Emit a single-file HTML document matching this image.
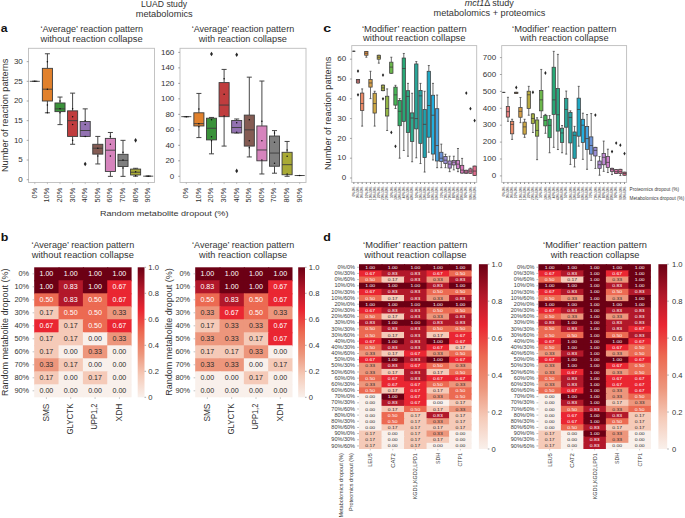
<!DOCTYPE html>
<html><head><meta charset="utf-8"><style>
html,body{margin:0;padding:0;background:#fff;overflow:hidden;}
svg{display:block;font-family:"Liberation Sans", sans-serif;}
</style></head><body>
<svg width="685" height="518" viewBox="0 0 685 518">
<rect width="685" height="518" fill="#fff"/>
<text x="164" y="6.9" font-size="8.6" fill="#333333" textLength="46" lengthAdjust="spacingAndGlyphs" text-anchor="middle">LUAD study</text>
<text x="164.2" y="16.6" font-size="8.6" fill="#333333" textLength="57" lengthAdjust="spacingAndGlyphs" text-anchor="middle">metabolomics</text>
<text x="489.3" y="6.4" font-size="8.6" fill="#333333" text-anchor="middle" textLength="49.2" lengthAdjust="spacingAndGlyphs"><tspan font-style="italic">mct1</tspan>Δ study</text>
<text x="489.5" y="16" font-size="8.6" fill="#333333" textLength="111.8" lengthAdjust="spacingAndGlyphs" text-anchor="middle">metabolomics + proteomics</text>
<text x="0.7" y="32.2" font-size="11.5" fill="#111" textLength="6.8" lengthAdjust="spacingAndGlyphs" font-weight="bold">a</text>
<text x="0.7" y="240.7" font-size="11.5" fill="#111" textLength="7.6" lengthAdjust="spacingAndGlyphs" font-weight="bold">b</text>
<text x="323.3" y="32.2" font-size="11.5" fill="#111" textLength="7.9" lengthAdjust="spacingAndGlyphs" font-weight="bold">c</text>
<text x="323.3" y="240.7" font-size="11.5" fill="#111" textLength="7.6" lengthAdjust="spacingAndGlyphs" font-weight="bold">d</text>
<rect x="28.5" y="48.3" width="126" height="134.2" fill="none" stroke="#bdbdbd" stroke-width="0.9"/>
<text x="91.75" y="31.8" font-size="8.4" fill="#333333" textLength="102.7" lengthAdjust="spacingAndGlyphs" text-anchor="middle">‘Average’ reaction pattern</text>
<text x="91.5" y="41.5" font-size="8.4" fill="#333333" textLength="102.2" lengthAdjust="spacingAndGlyphs" text-anchor="middle">without reaction collapse</text>
<line x1="26.7" y1="179.7" x2="28.5" y2="179.7" stroke="#6a6a6a" stroke-width="0.6"/>
<text x="22.8" y="182" font-size="8" fill="#333333" text-anchor="end">0</text>
<line x1="26.7" y1="160.02" x2="28.5" y2="160.02" stroke="#6a6a6a" stroke-width="0.6"/>
<text x="22.8" y="162.32" font-size="8" fill="#333333" text-anchor="end">5</text>
<line x1="26.7" y1="140.35" x2="28.5" y2="140.35" stroke="#6a6a6a" stroke-width="0.6"/>
<text x="22.8" y="142.65" font-size="8" fill="#333333" text-anchor="end">10</text>
<line x1="26.7" y1="120.67" x2="28.5" y2="120.67" stroke="#6a6a6a" stroke-width="0.6"/>
<text x="22.8" y="122.97" font-size="8" fill="#333333" text-anchor="end">15</text>
<line x1="26.7" y1="101" x2="28.5" y2="101" stroke="#6a6a6a" stroke-width="0.6"/>
<text x="22.8" y="103.3" font-size="8" fill="#333333" text-anchor="end">20</text>
<line x1="26.7" y1="81.32" x2="28.5" y2="81.32" stroke="#6a6a6a" stroke-width="0.6"/>
<text x="22.8" y="83.62" font-size="8" fill="#333333" text-anchor="end">25</text>
<line x1="26.7" y1="61.65" x2="28.5" y2="61.65" stroke="#6a6a6a" stroke-width="0.6"/>
<text x="22.8" y="63.95" font-size="8" fill="#333333" text-anchor="end">30</text>
<line x1="34.8" y1="182.5" x2="34.8" y2="184.1" stroke="#9a9a9a" stroke-width="0.6"/>
<text transform="translate(36.7 187.7) rotate(-90)" font-size="7.4" fill="#333333" text-anchor="end">0%</text>
<line x1="34.8" y1="81.32" x2="34.8" y2="81.32" stroke="#3c3c3c" stroke-width="0.95"/>
<line x1="34.8" y1="81.32" x2="34.8" y2="81.32" stroke="#3c3c3c" stroke-width="0.95"/>
<line x1="32.28" y1="81.32" x2="37.32" y2="81.32" stroke="#3c3c3c" stroke-width="0.95"/>
<line x1="32.28" y1="81.32" x2="37.32" y2="81.32" stroke="#3c3c3c" stroke-width="0.95"/>
<rect x="29.76" y="81.32" width="10.08" height="0" fill="#3274a1" stroke="#3c3c3c" stroke-width="0.9"/>
<line x1="29.76" y1="81.32" x2="39.84" y2="81.32" stroke="#3c3c3c" stroke-width="0.9"/>
<circle cx="34.8" cy="81.32" r="0.75" fill="#111111"/>
<line x1="47.4" y1="182.5" x2="47.4" y2="184.1" stroke="#9a9a9a" stroke-width="0.6"/>
<text transform="translate(49.3 187.7) rotate(-90)" font-size="7.4" fill="#333333" text-anchor="end">10%</text>
<line x1="47.4" y1="53.78" x2="47.4" y2="68.34" stroke="#3c3c3c" stroke-width="0.95"/>
<line x1="47.4" y1="101" x2="47.4" y2="112.8" stroke="#3c3c3c" stroke-width="0.95"/>
<line x1="44.88" y1="53.78" x2="49.92" y2="53.78" stroke="#3c3c3c" stroke-width="0.95"/>
<line x1="44.88" y1="112.8" x2="49.92" y2="112.8" stroke="#3c3c3c" stroke-width="0.95"/>
<rect x="42.36" y="68.34" width="10.08" height="32.66" fill="#e1812c" stroke="#3c3c3c" stroke-width="0.9"/>
<line x1="42.36" y1="89.19" x2="52.44" y2="89.19" stroke="#3c3c3c" stroke-width="0.9"/>
<circle cx="47.4" cy="61.65" r="0.75" fill="#111111"/>
<circle cx="47.4" cy="89.19" r="0.75" fill="#111111"/>
<circle cx="47.4" cy="104.93" r="0.75" fill="#111111"/>
<circle cx="47.4" cy="112.8" r="0.75" fill="#111111"/>
<line x1="60" y1="182.5" x2="60" y2="184.1" stroke="#9a9a9a" stroke-width="0.6"/>
<text transform="translate(61.9 187.7) rotate(-90)" font-size="7.4" fill="#333333" text-anchor="end">20%</text>
<line x1="60" y1="97.06" x2="60" y2="102.97" stroke="#3c3c3c" stroke-width="0.95"/>
<line x1="60" y1="111.62" x2="60" y2="124.61" stroke="#3c3c3c" stroke-width="0.95"/>
<line x1="57.48" y1="97.06" x2="62.52" y2="97.06" stroke="#3c3c3c" stroke-width="0.95"/>
<line x1="57.48" y1="124.61" x2="62.52" y2="124.61" stroke="#3c3c3c" stroke-width="0.95"/>
<rect x="54.96" y="102.97" width="10.08" height="8.66" fill="#3a923a" stroke="#3c3c3c" stroke-width="0.9"/>
<line x1="54.96" y1="108.87" x2="65.04" y2="108.87" stroke="#3c3c3c" stroke-width="0.9"/>
<circle cx="60" cy="101" r="0.75" fill="#111111"/>
<circle cx="60" cy="108.87" r="0.75" fill="#111111"/>
<circle cx="60" cy="112.8" r="0.75" fill="#111111"/>
<line x1="72.6" y1="182.5" x2="72.6" y2="184.1" stroke="#9a9a9a" stroke-width="0.6"/>
<text transform="translate(74.5 187.7) rotate(-90)" font-size="7.4" fill="#333333" text-anchor="end">30%</text>
<line x1="72.6" y1="93.13" x2="72.6" y2="110.84" stroke="#3c3c3c" stroke-width="0.95"/>
<line x1="72.6" y1="136.41" x2="72.6" y2="144.28" stroke="#3c3c3c" stroke-width="0.95"/>
<line x1="70.08" y1="93.13" x2="75.12" y2="93.13" stroke="#3c3c3c" stroke-width="0.95"/>
<line x1="70.08" y1="144.28" x2="75.12" y2="144.28" stroke="#3c3c3c" stroke-width="0.95"/>
<rect x="67.56" y="110.84" width="10.08" height="25.58" fill="#c03d3e" stroke="#3c3c3c" stroke-width="0.9"/>
<line x1="67.56" y1="120.67" x2="77.64" y2="120.67" stroke="#3c3c3c" stroke-width="0.9"/>
<circle cx="72.6" cy="108.87" r="0.75" fill="#111111"/>
<circle cx="72.6" cy="116.74" r="0.75" fill="#111111"/>
<circle cx="72.6" cy="124.61" r="0.75" fill="#111111"/>
<circle cx="72.6" cy="140.35" r="0.75" fill="#111111"/>
<line x1="85.2" y1="182.5" x2="85.2" y2="184.1" stroke="#9a9a9a" stroke-width="0.6"/>
<text transform="translate(87.1 187.7) rotate(-90)" font-size="7.4" fill="#333333" text-anchor="end">40%</text>
<line x1="85.2" y1="108.87" x2="85.2" y2="121.46" stroke="#3c3c3c" stroke-width="0.95"/>
<line x1="85.2" y1="136.41" x2="85.2" y2="136.41" stroke="#3c3c3c" stroke-width="0.95"/>
<line x1="82.68" y1="108.87" x2="87.72" y2="108.87" stroke="#3c3c3c" stroke-width="0.95"/>
<line x1="82.68" y1="136.41" x2="87.72" y2="136.41" stroke="#3c3c3c" stroke-width="0.95"/>
<rect x="80.16" y="121.46" width="10.08" height="14.95" fill="#9372b2" stroke="#3c3c3c" stroke-width="0.9"/>
<line x1="80.16" y1="130.51" x2="90.24" y2="130.51" stroke="#3c3c3c" stroke-width="0.9"/>
<path d="M85.2 161.66L86.63 163.96L85.2 166.26L83.77 163.96Z" fill="#262626"/>
<circle cx="85.2" cy="120.67" r="0.75" fill="#111111"/>
<circle cx="85.2" cy="124.61" r="0.75" fill="#111111"/>
<circle cx="85.2" cy="136.41" r="0.75" fill="#111111"/>
<line x1="97.8" y1="182.5" x2="97.8" y2="184.1" stroke="#9a9a9a" stroke-width="0.6"/>
<text transform="translate(99.7 187.7) rotate(-90)" font-size="7.4" fill="#333333" text-anchor="end">50%</text>
<line x1="97.8" y1="136.41" x2="97.8" y2="144.28" stroke="#3c3c3c" stroke-width="0.95"/>
<line x1="97.8" y1="154.12" x2="97.8" y2="163.96" stroke="#3c3c3c" stroke-width="0.95"/>
<line x1="95.28" y1="136.41" x2="100.32" y2="136.41" stroke="#3c3c3c" stroke-width="0.95"/>
<line x1="95.28" y1="163.96" x2="100.32" y2="163.96" stroke="#3c3c3c" stroke-width="0.95"/>
<rect x="92.76" y="144.28" width="10.08" height="9.84" fill="#845b53" stroke="#3c3c3c" stroke-width="0.9"/>
<line x1="92.76" y1="148.22" x2="102.84" y2="148.22" stroke="#3c3c3c" stroke-width="0.9"/>
<circle cx="97.8" cy="148.22" r="0.75" fill="#111111"/>
<circle cx="97.8" cy="156.09" r="0.75" fill="#111111"/>
<line x1="110.4" y1="182.5" x2="110.4" y2="184.1" stroke="#9a9a9a" stroke-width="0.6"/>
<text transform="translate(112.3 187.7) rotate(-90)" font-size="7.4" fill="#333333" text-anchor="end">60%</text>
<line x1="110.4" y1="132.48" x2="110.4" y2="138.38" stroke="#3c3c3c" stroke-width="0.95"/>
<line x1="110.4" y1="171.44" x2="110.4" y2="176.36" stroke="#3c3c3c" stroke-width="0.95"/>
<line x1="107.88" y1="132.48" x2="112.92" y2="132.48" stroke="#3c3c3c" stroke-width="0.95"/>
<line x1="107.88" y1="176.36" x2="112.92" y2="176.36" stroke="#3c3c3c" stroke-width="0.95"/>
<rect x="105.36" y="138.38" width="10.08" height="33.05" fill="#d684bd" stroke="#3c3c3c" stroke-width="0.9"/>
<line x1="105.36" y1="150.19" x2="115.44" y2="150.19" stroke="#3c3c3c" stroke-width="0.9"/>
<circle cx="110.4" cy="136.41" r="0.75" fill="#111111"/>
<circle cx="110.4" cy="144.28" r="0.75" fill="#111111"/>
<circle cx="110.4" cy="156.09" r="0.75" fill="#111111"/>
<line x1="123" y1="182.5" x2="123" y2="184.1" stroke="#9a9a9a" stroke-width="0.6"/>
<text transform="translate(124.9 187.7) rotate(-90)" font-size="7.4" fill="#333333" text-anchor="end">70%</text>
<line x1="123" y1="140.35" x2="123" y2="154.32" stroke="#3c3c3c" stroke-width="0.95"/>
<line x1="123" y1="166.52" x2="123" y2="176.36" stroke="#3c3c3c" stroke-width="0.95"/>
<line x1="120.48" y1="140.35" x2="125.52" y2="140.35" stroke="#3c3c3c" stroke-width="0.95"/>
<line x1="120.48" y1="176.36" x2="125.52" y2="176.36" stroke="#3c3c3c" stroke-width="0.95"/>
<rect x="117.96" y="154.32" width="10.08" height="12.2" fill="#7f7f7f" stroke="#3c3c3c" stroke-width="0.9"/>
<line x1="117.96" y1="160.42" x2="128.04" y2="160.42" stroke="#3c3c3c" stroke-width="0.9"/>
<circle cx="123" cy="152.15" r="0.75" fill="#111111"/>
<circle cx="123" cy="160.02" r="0.75" fill="#111111"/>
<circle cx="123" cy="167.89" r="0.75" fill="#111111"/>
<line x1="135.6" y1="182.5" x2="135.6" y2="184.1" stroke="#9a9a9a" stroke-width="0.6"/>
<text transform="translate(137.5 187.7) rotate(-90)" font-size="7.4" fill="#333333" text-anchor="end">80%</text>
<line x1="135.6" y1="168.29" x2="135.6" y2="169.08" stroke="#3c3c3c" stroke-width="0.95"/>
<line x1="135.6" y1="174.98" x2="135.6" y2="176.16" stroke="#3c3c3c" stroke-width="0.95"/>
<line x1="133.08" y1="168.29" x2="138.12" y2="168.29" stroke="#3c3c3c" stroke-width="0.95"/>
<line x1="133.08" y1="176.16" x2="138.12" y2="176.16" stroke="#3c3c3c" stroke-width="0.95"/>
<rect x="130.56" y="169.08" width="10.08" height="5.9" fill="#a9aa35" stroke="#3c3c3c" stroke-width="0.9"/>
<line x1="130.56" y1="172.22" x2="140.64" y2="172.22" stroke="#3c3c3c" stroke-width="0.9"/>
<path d="M135.6 138.05L137.03 140.35L135.6 142.65L134.17 140.35Z" fill="#262626"/>
<circle cx="135.6" cy="171.83" r="0.75" fill="#111111"/>
<circle cx="135.6" cy="175.76" r="0.75" fill="#111111"/>
<line x1="148.2" y1="182.5" x2="148.2" y2="184.1" stroke="#9a9a9a" stroke-width="0.6"/>
<text transform="translate(150.1 187.7) rotate(-90)" font-size="7.4" fill="#333333" text-anchor="end">90%</text>
<line x1="148.2" y1="176.16" x2="148.2" y2="176.16" stroke="#3c3c3c" stroke-width="0.95"/>
<line x1="148.2" y1="176.16" x2="148.2" y2="176.16" stroke="#3c3c3c" stroke-width="0.95"/>
<line x1="145.68" y1="176.16" x2="150.72" y2="176.16" stroke="#3c3c3c" stroke-width="0.95"/>
<line x1="145.68" y1="176.16" x2="150.72" y2="176.16" stroke="#3c3c3c" stroke-width="0.95"/>
<rect x="143.16" y="176.16" width="10.08" height="0" fill="#2eabb8" stroke="#3c3c3c" stroke-width="0.9"/>
<line x1="143.16" y1="176.16" x2="153.24" y2="176.16" stroke="#3c3c3c" stroke-width="0.9"/>
<circle cx="148.2" cy="176.16" r="0.75" fill="#111111"/>
<rect x="180" y="48.3" width="126" height="134.2" fill="none" stroke="#bdbdbd" stroke-width="0.9"/>
<text x="242.95" y="31.8" font-size="8.4" fill="#333333" textLength="102.5" lengthAdjust="spacingAndGlyphs" text-anchor="middle">‘Average’ reaction pattern</text>
<text x="242.8" y="41.5" font-size="8.4" fill="#333333" textLength="88.2" lengthAdjust="spacingAndGlyphs" text-anchor="middle">with reaction collapse</text>
<line x1="178.2" y1="176.3" x2="180" y2="176.3" stroke="#6a6a6a" stroke-width="0.6"/>
<text x="174.3" y="178.6" font-size="8" fill="#333333" text-anchor="end">0</text>
<line x1="178.2" y1="160.81" x2="180" y2="160.81" stroke="#6a6a6a" stroke-width="0.6"/>
<text x="174.3" y="163.11" font-size="8" fill="#333333" text-anchor="end">20</text>
<line x1="178.2" y1="145.32" x2="180" y2="145.32" stroke="#6a6a6a" stroke-width="0.6"/>
<text x="174.3" y="147.62" font-size="8" fill="#333333" text-anchor="end">40</text>
<line x1="178.2" y1="129.83" x2="180" y2="129.83" stroke="#6a6a6a" stroke-width="0.6"/>
<text x="174.3" y="132.13" font-size="8" fill="#333333" text-anchor="end">60</text>
<line x1="178.2" y1="114.34" x2="180" y2="114.34" stroke="#6a6a6a" stroke-width="0.6"/>
<text x="174.3" y="116.64" font-size="8" fill="#333333" text-anchor="end">80</text>
<line x1="178.2" y1="98.85" x2="180" y2="98.85" stroke="#6a6a6a" stroke-width="0.6"/>
<text x="174.3" y="101.15" font-size="8" fill="#333333" text-anchor="end">100</text>
<line x1="178.2" y1="83.36" x2="180" y2="83.36" stroke="#6a6a6a" stroke-width="0.6"/>
<text x="174.3" y="85.66" font-size="8" fill="#333333" text-anchor="end">120</text>
<line x1="178.2" y1="67.87" x2="180" y2="67.87" stroke="#6a6a6a" stroke-width="0.6"/>
<text x="174.3" y="70.17" font-size="8" fill="#333333" text-anchor="end">140</text>
<line x1="178.2" y1="52.38" x2="180" y2="52.38" stroke="#6a6a6a" stroke-width="0.6"/>
<text x="174.3" y="54.68" font-size="8" fill="#333333" text-anchor="end">160</text>
<line x1="186.3" y1="182.5" x2="186.3" y2="184.1" stroke="#9a9a9a" stroke-width="0.6"/>
<text transform="translate(188.2 187.7) rotate(-90)" font-size="7.4" fill="#333333" text-anchor="end">0%</text>
<line x1="186.3" y1="116.66" x2="186.3" y2="116.66" stroke="#3c3c3c" stroke-width="0.95"/>
<line x1="186.3" y1="116.66" x2="186.3" y2="116.66" stroke="#3c3c3c" stroke-width="0.95"/>
<line x1="183.78" y1="116.66" x2="188.82" y2="116.66" stroke="#3c3c3c" stroke-width="0.95"/>
<line x1="183.78" y1="116.66" x2="188.82" y2="116.66" stroke="#3c3c3c" stroke-width="0.95"/>
<rect x="181.26" y="116.66" width="10.08" height="0" fill="#3274a1" stroke="#3c3c3c" stroke-width="0.9"/>
<line x1="181.26" y1="116.66" x2="191.34" y2="116.66" stroke="#3c3c3c" stroke-width="0.9"/>
<circle cx="186.3" cy="116.66" r="0.75" fill="#111111"/>
<line x1="198.9" y1="182.5" x2="198.9" y2="184.1" stroke="#9a9a9a" stroke-width="0.6"/>
<text transform="translate(200.8 187.7) rotate(-90)" font-size="7.4" fill="#333333" text-anchor="end">10%</text>
<line x1="198.9" y1="93.43" x2="198.9" y2="112.79" stroke="#3c3c3c" stroke-width="0.95"/>
<line x1="198.9" y1="125.96" x2="198.9" y2="137.58" stroke="#3c3c3c" stroke-width="0.95"/>
<line x1="196.38" y1="93.43" x2="201.42" y2="93.43" stroke="#3c3c3c" stroke-width="0.95"/>
<line x1="196.38" y1="137.58" x2="201.42" y2="137.58" stroke="#3c3c3c" stroke-width="0.95"/>
<rect x="193.86" y="112.79" width="10.08" height="13.17" fill="#e1812c" stroke="#3c3c3c" stroke-width="0.9"/>
<line x1="193.86" y1="123.63" x2="203.94" y2="123.63" stroke="#3c3c3c" stroke-width="0.9"/>
<circle cx="198.9" cy="108.92" r="0.75" fill="#111111"/>
<circle cx="198.9" cy="123.63" r="0.75" fill="#111111"/>
<circle cx="198.9" cy="126.73" r="0.75" fill="#111111"/>
<line x1="211.5" y1="182.5" x2="211.5" y2="184.1" stroke="#9a9a9a" stroke-width="0.6"/>
<text transform="translate(213.4 187.7) rotate(-90)" font-size="7.4" fill="#333333" text-anchor="end">20%</text>
<line x1="211.5" y1="117.44" x2="211.5" y2="118.21" stroke="#3c3c3c" stroke-width="0.95"/>
<line x1="211.5" y1="139.9" x2="211.5" y2="153.84" stroke="#3c3c3c" stroke-width="0.95"/>
<line x1="208.98" y1="117.44" x2="214.02" y2="117.44" stroke="#3c3c3c" stroke-width="0.95"/>
<line x1="208.98" y1="153.84" x2="214.02" y2="153.84" stroke="#3c3c3c" stroke-width="0.95"/>
<rect x="206.46" y="118.21" width="10.08" height="21.69" fill="#3a923a" stroke="#3c3c3c" stroke-width="0.9"/>
<line x1="206.46" y1="128.28" x2="216.54" y2="128.28" stroke="#3c3c3c" stroke-width="0.9"/>
<path d="M211.5 51.63L212.93 53.93L211.5 56.23L210.07 53.93Z" fill="#262626"/>
<circle cx="211.5" cy="119.76" r="0.75" fill="#111111"/>
<circle cx="211.5" cy="136.8" r="0.75" fill="#111111"/>
<circle cx="211.5" cy="140.67" r="0.75" fill="#111111"/>
<line x1="224.1" y1="182.5" x2="224.1" y2="184.1" stroke="#9a9a9a" stroke-width="0.6"/>
<text transform="translate(226 187.7) rotate(-90)" font-size="7.4" fill="#333333" text-anchor="end">30%</text>
<line x1="224.1" y1="69.42" x2="224.1" y2="82.59" stroke="#3c3c3c" stroke-width="0.95"/>
<line x1="224.1" y1="116.66" x2="224.1" y2="146.09" stroke="#3c3c3c" stroke-width="0.95"/>
<line x1="221.58" y1="69.42" x2="226.62" y2="69.42" stroke="#3c3c3c" stroke-width="0.95"/>
<line x1="221.58" y1="146.09" x2="226.62" y2="146.09" stroke="#3c3c3c" stroke-width="0.95"/>
<rect x="219.06" y="82.59" width="10.08" height="34.08" fill="#c03d3e" stroke="#3c3c3c" stroke-width="0.9"/>
<line x1="219.06" y1="105.05" x2="229.14" y2="105.05" stroke="#3c3c3c" stroke-width="0.9"/>
<circle cx="224.1" cy="78.71" r="0.75" fill="#111111"/>
<circle cx="224.1" cy="94.2" r="0.75" fill="#111111"/>
<circle cx="224.1" cy="115.89" r="0.75" fill="#111111"/>
<line x1="236.7" y1="182.5" x2="236.7" y2="184.1" stroke="#9a9a9a" stroke-width="0.6"/>
<text transform="translate(238.6 187.7) rotate(-90)" font-size="7.4" fill="#333333" text-anchor="end">40%</text>
<line x1="236.7" y1="118.99" x2="236.7" y2="120.54" stroke="#3c3c3c" stroke-width="0.95"/>
<line x1="236.7" y1="132.93" x2="236.7" y2="132.93" stroke="#3c3c3c" stroke-width="0.95"/>
<line x1="234.18" y1="118.99" x2="239.22" y2="118.99" stroke="#3c3c3c" stroke-width="0.95"/>
<line x1="234.18" y1="132.93" x2="239.22" y2="132.93" stroke="#3c3c3c" stroke-width="0.95"/>
<rect x="231.66" y="120.54" width="10.08" height="12.39" fill="#9372b2" stroke="#3c3c3c" stroke-width="0.9"/>
<line x1="231.66" y1="127.51" x2="241.74" y2="127.51" stroke="#3c3c3c" stroke-width="0.9"/>
<path d="M236.7 52.4L238.13 54.7L236.7 57L235.27 54.7Z" fill="#262626"/>
<path d="M236.7 168.58L238.13 170.88L236.7 173.18L235.27 170.88Z" fill="#262626"/>
<circle cx="236.7" cy="122.86" r="0.75" fill="#111111"/>
<circle cx="236.7" cy="132.15" r="0.75" fill="#111111"/>
<line x1="249.3" y1="182.5" x2="249.3" y2="184.1" stroke="#9a9a9a" stroke-width="0.6"/>
<text transform="translate(251.2 187.7) rotate(-90)" font-size="7.4" fill="#333333" text-anchor="end">50%</text>
<line x1="249.3" y1="77.16" x2="249.3" y2="115.11" stroke="#3c3c3c" stroke-width="0.95"/>
<line x1="249.3" y1="146.09" x2="249.3" y2="156.94" stroke="#3c3c3c" stroke-width="0.95"/>
<line x1="246.78" y1="77.16" x2="251.82" y2="77.16" stroke="#3c3c3c" stroke-width="0.95"/>
<line x1="246.78" y1="156.94" x2="251.82" y2="156.94" stroke="#3c3c3c" stroke-width="0.95"/>
<rect x="244.26" y="115.11" width="10.08" height="30.98" fill="#845b53" stroke="#3c3c3c" stroke-width="0.9"/>
<line x1="244.26" y1="129.83" x2="254.34" y2="129.83" stroke="#3c3c3c" stroke-width="0.9"/>
<circle cx="249.3" cy="119.76" r="0.75" fill="#111111"/>
<circle cx="249.3" cy="140.67" r="0.75" fill="#111111"/>
<circle cx="249.3" cy="147.64" r="0.75" fill="#111111"/>
<line x1="261.9" y1="182.5" x2="261.9" y2="184.1" stroke="#9a9a9a" stroke-width="0.6"/>
<text transform="translate(263.8 187.7) rotate(-90)" font-size="7.4" fill="#333333" text-anchor="end">60%</text>
<line x1="261.9" y1="81.04" x2="261.9" y2="125.96" stroke="#3c3c3c" stroke-width="0.95"/>
<line x1="261.9" y1="160.81" x2="261.9" y2="173.98" stroke="#3c3c3c" stroke-width="0.95"/>
<line x1="259.38" y1="81.04" x2="264.42" y2="81.04" stroke="#3c3c3c" stroke-width="0.95"/>
<line x1="259.38" y1="173.98" x2="264.42" y2="173.98" stroke="#3c3c3c" stroke-width="0.95"/>
<rect x="256.86" y="125.96" width="10.08" height="34.85" fill="#d684bd" stroke="#3c3c3c" stroke-width="0.9"/>
<line x1="256.86" y1="149.97" x2="266.94" y2="149.97" stroke="#3c3c3c" stroke-width="0.9"/>
<circle cx="261.9" cy="121.31" r="0.75" fill="#111111"/>
<circle cx="261.9" cy="140.67" r="0.75" fill="#111111"/>
<circle cx="261.9" cy="160.04" r="0.75" fill="#111111"/>
<line x1="274.5" y1="182.5" x2="274.5" y2="184.1" stroke="#9a9a9a" stroke-width="0.6"/>
<text transform="translate(276.4 187.7) rotate(-90)" font-size="7.4" fill="#333333" text-anchor="end">70%</text>
<line x1="274.5" y1="130.6" x2="274.5" y2="136.03" stroke="#3c3c3c" stroke-width="0.95"/>
<line x1="274.5" y1="166.23" x2="274.5" y2="173.2" stroke="#3c3c3c" stroke-width="0.95"/>
<line x1="271.98" y1="130.6" x2="277.02" y2="130.6" stroke="#3c3c3c" stroke-width="0.95"/>
<line x1="271.98" y1="173.2" x2="277.02" y2="173.2" stroke="#3c3c3c" stroke-width="0.95"/>
<rect x="269.46" y="136.03" width="10.08" height="30.21" fill="#7f7f7f" stroke="#3c3c3c" stroke-width="0.9"/>
<line x1="269.46" y1="153.06" x2="279.54" y2="153.06" stroke="#3c3c3c" stroke-width="0.9"/>
<circle cx="274.5" cy="132.93" r="0.75" fill="#111111"/>
<circle cx="274.5" cy="142.22" r="0.75" fill="#111111"/>
<circle cx="274.5" cy="163.13" r="0.75" fill="#111111"/>
<line x1="287.1" y1="182.5" x2="287.1" y2="184.1" stroke="#9a9a9a" stroke-width="0.6"/>
<text transform="translate(289 187.7) rotate(-90)" font-size="7.4" fill="#333333" text-anchor="end">80%</text>
<line x1="287.1" y1="141.45" x2="287.1" y2="152.29" stroke="#3c3c3c" stroke-width="0.95"/>
<line x1="287.1" y1="174.75" x2="287.1" y2="176.3" stroke="#3c3c3c" stroke-width="0.95"/>
<line x1="284.58" y1="141.45" x2="289.62" y2="141.45" stroke="#3c3c3c" stroke-width="0.95"/>
<line x1="284.58" y1="176.3" x2="289.62" y2="176.3" stroke="#3c3c3c" stroke-width="0.95"/>
<rect x="282.06" y="152.29" width="10.08" height="22.46" fill="#a9aa35" stroke="#3c3c3c" stroke-width="0.9"/>
<line x1="282.06" y1="164.68" x2="292.14" y2="164.68" stroke="#3c3c3c" stroke-width="0.9"/>
<circle cx="287.1" cy="149.97" r="0.75" fill="#111111"/>
<circle cx="287.1" cy="156.16" r="0.75" fill="#111111"/>
<circle cx="287.1" cy="173.98" r="0.75" fill="#111111"/>
<line x1="299.7" y1="182.5" x2="299.7" y2="184.1" stroke="#9a9a9a" stroke-width="0.6"/>
<text transform="translate(301.6 187.7) rotate(-90)" font-size="7.4" fill="#333333" text-anchor="end">90%</text>
<line x1="299.7" y1="175.53" x2="299.7" y2="175.53" stroke="#3c3c3c" stroke-width="0.95"/>
<line x1="299.7" y1="175.53" x2="299.7" y2="175.53" stroke="#3c3c3c" stroke-width="0.95"/>
<line x1="297.18" y1="175.53" x2="302.22" y2="175.53" stroke="#3c3c3c" stroke-width="0.95"/>
<line x1="297.18" y1="175.53" x2="302.22" y2="175.53" stroke="#3c3c3c" stroke-width="0.95"/>
<rect x="294.66" y="175.53" width="10.08" height="0" fill="#2eabb8" stroke="#3c3c3c" stroke-width="0.9"/>
<line x1="294.66" y1="175.53" x2="304.74" y2="175.53" stroke="#3c3c3c" stroke-width="0.9"/>
<circle cx="299.7" cy="175.53" r="0.75" fill="#111111"/>
<text transform="translate(8 115.3) rotate(-90)" font-size="8.2" fill="#333333" textLength="113.4" lengthAdjust="spacingAndGlyphs" text-anchor="middle">Number of reaction patterns</text>
<text x="164.2" y="215.7" font-size="8" fill="#333333" textLength="128.4" lengthAdjust="spacingAndGlyphs" text-anchor="middle">Random metabolite dropout (%)</text>
<rect x="351.75" y="45.6" width="124.95" height="136.8" fill="none" stroke="#bdbdbd" stroke-width="0.9"/>
<text x="414.3" y="31.7" font-size="8.4" fill="#333333" textLength="104.8" lengthAdjust="spacingAndGlyphs" text-anchor="middle">‘Modifier’ reaction pattern</text>
<text x="414.3" y="41.2" font-size="8.4" fill="#333333" textLength="102.4" lengthAdjust="spacingAndGlyphs" text-anchor="middle">without reaction collapse</text>
<line x1="349.95" y1="178" x2="351.75" y2="178" stroke="#6a6a6a" stroke-width="0.6"/>
<text x="346.15" y="180.2" font-size="8" fill="#333333" text-anchor="end">0</text>
<line x1="349.95" y1="158.2" x2="351.75" y2="158.2" stroke="#6a6a6a" stroke-width="0.6"/>
<text x="346.15" y="160.4" font-size="8" fill="#333333" text-anchor="end">10</text>
<line x1="349.95" y1="138.4" x2="351.75" y2="138.4" stroke="#6a6a6a" stroke-width="0.6"/>
<text x="346.15" y="140.6" font-size="8" fill="#333333" text-anchor="end">20</text>
<line x1="349.95" y1="118.6" x2="351.75" y2="118.6" stroke="#6a6a6a" stroke-width="0.6"/>
<text x="346.15" y="120.8" font-size="8" fill="#333333" text-anchor="end">30</text>
<line x1="349.95" y1="98.8" x2="351.75" y2="98.8" stroke="#6a6a6a" stroke-width="0.6"/>
<text x="346.15" y="101" font-size="8" fill="#333333" text-anchor="end">40</text>
<line x1="349.95" y1="79" x2="351.75" y2="79" stroke="#6a6a6a" stroke-width="0.6"/>
<text x="346.15" y="81.2" font-size="8" fill="#333333" text-anchor="end">50</text>
<line x1="349.95" y1="59.2" x2="351.75" y2="59.2" stroke="#6a6a6a" stroke-width="0.6"/>
<text x="346.15" y="61.4" font-size="8" fill="#333333" text-anchor="end">60</text>
<line x1="353.83" y1="182.4" x2="353.83" y2="184" stroke="#555" stroke-width="0.7"/>
<text transform="translate(355.03 186.6) rotate(-90)" font-size="3.5" fill="#262626" textLength="9.98" lengthAdjust="spacingAndGlyphs" text-anchor="end">0%/0%</text>
<line x1="353.83" y1="51.28" x2="353.83" y2="51.28" stroke="#3c3c3c" stroke-width="0.75"/>
<line x1="353.83" y1="51.28" x2="353.83" y2="51.28" stroke="#3c3c3c" stroke-width="0.75"/>
<line x1="352.83" y1="51.28" x2="354.83" y2="51.28" stroke="#3c3c3c" stroke-width="0.75"/>
<line x1="352.83" y1="51.28" x2="354.83" y2="51.28" stroke="#3c3c3c" stroke-width="0.75"/>
<rect x="352.17" y="51.28" width="3.33" height="0" fill="#e07080" stroke="#3c3c3c" stroke-width="0.75"/>
<line x1="352.17" y1="51.28" x2="355.5" y2="51.28" stroke="#3c3c3c" stroke-width="0.75"/>
<line x1="358" y1="182.4" x2="358" y2="184" stroke="#555" stroke-width="0.7"/>
<text transform="translate(359.2 186.6) rotate(-90)" font-size="3.5" fill="#262626" textLength="11.73" lengthAdjust="spacingAndGlyphs" text-anchor="end">0%/30%</text>
<line x1="358" y1="79.59" x2="358" y2="79.59" stroke="#3c3c3c" stroke-width="0.75"/>
<line x1="358" y1="82.96" x2="358" y2="82.96" stroke="#3c3c3c" stroke-width="0.75"/>
<line x1="357" y1="79.59" x2="359" y2="79.59" stroke="#3c3c3c" stroke-width="0.75"/>
<line x1="357" y1="82.96" x2="359" y2="82.96" stroke="#3c3c3c" stroke-width="0.75"/>
<rect x="356.33" y="79.59" width="3.33" height="3.37" fill="#e88080" stroke="#3c3c3c" stroke-width="0.75"/>
<line x1="356.33" y1="80.98" x2="359.66" y2="80.98" stroke="#3c3c3c" stroke-width="0.75"/>
<path d="M358 69.18L359.18 71.08L358 72.98L356.82 71.08Z" fill="#262626"/>
<path d="M358 92.94L359.18 94.84L358 96.74L356.82 94.84Z" fill="#262626"/>
<line x1="362.16" y1="182.4" x2="362.16" y2="184" stroke="#555" stroke-width="0.7"/>
<text transform="translate(363.36 186.6) rotate(-90)" font-size="3.5" fill="#262626" textLength="11.73" lengthAdjust="spacingAndGlyphs" text-anchor="end">0%/60%</text>
<line x1="362.16" y1="88.9" x2="362.16" y2="93.06" stroke="#3c3c3c" stroke-width="0.75"/>
<line x1="362.16" y1="110.48" x2="362.16" y2="126.12" stroke="#3c3c3c" stroke-width="0.75"/>
<line x1="361.16" y1="88.9" x2="363.16" y2="88.9" stroke="#3c3c3c" stroke-width="0.75"/>
<line x1="361.16" y1="126.12" x2="363.16" y2="126.12" stroke="#3c3c3c" stroke-width="0.75"/>
<rect x="360.5" y="93.06" width="3.33" height="17.42" fill="#ec8a66" stroke="#3c3c3c" stroke-width="0.75"/>
<line x1="360.5" y1="103.55" x2="363.83" y2="103.55" stroke="#3c3c3c" stroke-width="0.75"/>
<line x1="366.33" y1="182.4" x2="366.33" y2="184" stroke="#555" stroke-width="0.7"/>
<text transform="translate(367.53 186.6) rotate(-90)" font-size="3.5" fill="#262626" textLength="11.73" lengthAdjust="spacingAndGlyphs" text-anchor="end">10%/0%</text>
<line x1="366.33" y1="51.48" x2="366.33" y2="51.48" stroke="#3c3c3c" stroke-width="0.75"/>
<line x1="366.33" y1="55.24" x2="366.33" y2="57.22" stroke="#3c3c3c" stroke-width="0.75"/>
<line x1="365.33" y1="51.48" x2="367.33" y2="51.48" stroke="#3c3c3c" stroke-width="0.75"/>
<line x1="365.33" y1="57.22" x2="367.33" y2="57.22" stroke="#3c3c3c" stroke-width="0.75"/>
<rect x="364.66" y="51.48" width="3.33" height="3.76" fill="#e4903e" stroke="#3c3c3c" stroke-width="0.75"/>
<line x1="364.66" y1="53.26" x2="367.99" y2="53.26" stroke="#3c3c3c" stroke-width="0.75"/>
<line x1="370.49" y1="182.4" x2="370.49" y2="184" stroke="#555" stroke-width="0.7"/>
<text transform="translate(371.69 186.6) rotate(-90)" font-size="3.5" fill="#262626" textLength="13.48" lengthAdjust="spacingAndGlyphs" text-anchor="end">10%/30%</text>
<line x1="370.49" y1="71.28" x2="370.49" y2="79.59" stroke="#3c3c3c" stroke-width="0.75"/>
<line x1="370.49" y1="87.12" x2="370.49" y2="98.6" stroke="#3c3c3c" stroke-width="0.75"/>
<line x1="369.49" y1="71.28" x2="371.49" y2="71.28" stroke="#3c3c3c" stroke-width="0.75"/>
<line x1="369.49" y1="98.6" x2="371.49" y2="98.6" stroke="#3c3c3c" stroke-width="0.75"/>
<rect x="368.83" y="79.59" width="3.33" height="7.52" fill="#d8a048" stroke="#3c3c3c" stroke-width="0.75"/>
<line x1="368.83" y1="82.96" x2="372.16" y2="82.96" stroke="#3c3c3c" stroke-width="0.75"/>
<line x1="374.66" y1="182.4" x2="374.66" y2="184" stroke="#555" stroke-width="0.7"/>
<text transform="translate(375.86 186.6) rotate(-90)" font-size="3.5" fill="#262626" textLength="13.48" lengthAdjust="spacingAndGlyphs" text-anchor="end">10%/60%</text>
<line x1="374.66" y1="91.28" x2="374.66" y2="93.26" stroke="#3c3c3c" stroke-width="0.75"/>
<line x1="374.66" y1="113.06" x2="374.66" y2="126.12" stroke="#3c3c3c" stroke-width="0.75"/>
<line x1="373.66" y1="91.28" x2="375.66" y2="91.28" stroke="#3c3c3c" stroke-width="0.75"/>
<line x1="373.66" y1="126.12" x2="375.66" y2="126.12" stroke="#3c3c3c" stroke-width="0.75"/>
<rect x="372.99" y="93.26" width="3.33" height="19.8" fill="#cfa944" stroke="#3c3c3c" stroke-width="0.75"/>
<line x1="372.99" y1="103.55" x2="376.32" y2="103.55" stroke="#3c3c3c" stroke-width="0.75"/>
<line x1="378.82" y1="182.4" x2="378.82" y2="184" stroke="#555" stroke-width="0.7"/>
<text transform="translate(380.02 186.6) rotate(-90)" font-size="3.5" fill="#262626" textLength="11.73" lengthAdjust="spacingAndGlyphs" text-anchor="end">20%/0%</text>
<line x1="378.82" y1="55.24" x2="378.82" y2="55.24" stroke="#3c3c3c" stroke-width="0.75"/>
<line x1="378.82" y1="59.2" x2="378.82" y2="63.16" stroke="#3c3c3c" stroke-width="0.75"/>
<line x1="377.82" y1="55.24" x2="379.82" y2="55.24" stroke="#3c3c3c" stroke-width="0.75"/>
<line x1="377.82" y1="63.16" x2="379.82" y2="63.16" stroke="#3c3c3c" stroke-width="0.75"/>
<rect x="377.16" y="55.24" width="3.33" height="3.96" fill="#b8aa40" stroke="#3c3c3c" stroke-width="0.75"/>
<line x1="377.16" y1="57.22" x2="380.49" y2="57.22" stroke="#3c3c3c" stroke-width="0.75"/>
<line x1="382.99" y1="182.4" x2="382.99" y2="184" stroke="#555" stroke-width="0.7"/>
<text transform="translate(384.19 186.6) rotate(-90)" font-size="3.5" fill="#262626" textLength="13.48" lengthAdjust="spacingAndGlyphs" text-anchor="end">20%/30%</text>
<line x1="382.99" y1="85.14" x2="382.99" y2="85.14" stroke="#3c3c3c" stroke-width="0.75"/>
<line x1="382.99" y1="90.68" x2="382.99" y2="90.68" stroke="#3c3c3c" stroke-width="0.75"/>
<line x1="381.99" y1="85.14" x2="383.99" y2="85.14" stroke="#3c3c3c" stroke-width="0.75"/>
<line x1="381.99" y1="90.68" x2="383.99" y2="90.68" stroke="#3c3c3c" stroke-width="0.75"/>
<rect x="381.32" y="85.14" width="3.33" height="5.54" fill="#a6b042" stroke="#3c3c3c" stroke-width="0.75"/>
<line x1="381.32" y1="87.91" x2="384.65" y2="87.91" stroke="#3c3c3c" stroke-width="0.75"/>
<path d="M382.99 73.14L384.17 75.04L382.99 76.94L381.81 75.04Z" fill="#262626"/>
<path d="M382.99 96.9L384.17 98.8L382.99 100.7L381.81 98.8Z" fill="#262626"/>
<line x1="387.15" y1="182.4" x2="387.15" y2="184" stroke="#555" stroke-width="0.7"/>
<text transform="translate(388.35 186.6) rotate(-90)" font-size="3.5" fill="#262626" textLength="13.48" lengthAdjust="spacingAndGlyphs" text-anchor="end">20%/60%</text>
<line x1="387.15" y1="88.9" x2="387.15" y2="96.23" stroke="#3c3c3c" stroke-width="0.75"/>
<line x1="387.15" y1="116.03" x2="387.15" y2="130.48" stroke="#3c3c3c" stroke-width="0.75"/>
<line x1="386.15" y1="88.9" x2="388.15" y2="88.9" stroke="#3c3c3c" stroke-width="0.75"/>
<line x1="386.15" y1="130.48" x2="388.15" y2="130.48" stroke="#3c3c3c" stroke-width="0.75"/>
<rect x="385.49" y="96.23" width="3.33" height="19.8" fill="#94b646" stroke="#3c3c3c" stroke-width="0.75"/>
<line x1="385.49" y1="108.5" x2="388.82" y2="108.5" stroke="#3c3c3c" stroke-width="0.75"/>
<line x1="391.32" y1="182.4" x2="391.32" y2="184" stroke="#555" stroke-width="0.7"/>
<text transform="translate(392.52 186.6) rotate(-90)" font-size="3.5" fill="#262626" textLength="11.73" lengthAdjust="spacingAndGlyphs" text-anchor="end">30%/0%</text>
<line x1="391.32" y1="57.22" x2="391.32" y2="62.17" stroke="#3c3c3c" stroke-width="0.75"/>
<line x1="391.32" y1="73.26" x2="391.32" y2="73.26" stroke="#3c3c3c" stroke-width="0.75"/>
<line x1="390.32" y1="57.22" x2="392.32" y2="57.22" stroke="#3c3c3c" stroke-width="0.75"/>
<line x1="390.32" y1="73.26" x2="392.32" y2="73.26" stroke="#3c3c3c" stroke-width="0.75"/>
<rect x="389.65" y="62.17" width="3.33" height="11.09" fill="#6cb84c" stroke="#3c3c3c" stroke-width="0.75"/>
<line x1="389.65" y1="67.12" x2="392.98" y2="67.12" stroke="#3c3c3c" stroke-width="0.75"/>
<path d="M391.32 130.56L392.5 132.46L391.32 134.36L390.14 132.46Z" fill="#262626"/>
<line x1="395.48" y1="182.4" x2="395.48" y2="184" stroke="#555" stroke-width="0.7"/>
<text transform="translate(396.68 186.6) rotate(-90)" font-size="3.5" fill="#262626" textLength="13.48" lengthAdjust="spacingAndGlyphs" text-anchor="end">30%/30%</text>
<line x1="395.48" y1="85.34" x2="395.48" y2="87.12" stroke="#3c3c3c" stroke-width="0.75"/>
<line x1="395.48" y1="105.14" x2="395.48" y2="108.5" stroke="#3c3c3c" stroke-width="0.75"/>
<line x1="394.48" y1="85.34" x2="396.48" y2="85.34" stroke="#3c3c3c" stroke-width="0.75"/>
<line x1="394.48" y1="108.5" x2="396.48" y2="108.5" stroke="#3c3c3c" stroke-width="0.75"/>
<rect x="393.82" y="87.12" width="3.33" height="18.02" fill="#46b656" stroke="#3c3c3c" stroke-width="0.75"/>
<line x1="393.82" y1="94.84" x2="397.15" y2="94.84" stroke="#3c3c3c" stroke-width="0.75"/>
<path d="M395.48 144.42L396.66 146.32L395.48 148.22L394.3 146.32Z" fill="#262626"/>
<line x1="399.65" y1="182.4" x2="399.65" y2="184" stroke="#555" stroke-width="0.7"/>
<text transform="translate(400.85 186.6) rotate(-90)" font-size="3.5" fill="#262626" textLength="13.48" lengthAdjust="spacingAndGlyphs" text-anchor="end">30%/60%</text>
<line x1="399.65" y1="98.6" x2="399.65" y2="100.58" stroke="#3c3c3c" stroke-width="0.75"/>
<line x1="399.65" y1="125.73" x2="399.65" y2="158.2" stroke="#3c3c3c" stroke-width="0.75"/>
<line x1="398.65" y1="98.6" x2="400.65" y2="98.6" stroke="#3c3c3c" stroke-width="0.75"/>
<line x1="398.65" y1="158.2" x2="400.65" y2="158.2" stroke="#3c3c3c" stroke-width="0.75"/>
<rect x="397.98" y="100.58" width="3.33" height="25.15" fill="#30ae66" stroke="#3c3c3c" stroke-width="0.75"/>
<line x1="397.98" y1="111.27" x2="401.31" y2="111.27" stroke="#3c3c3c" stroke-width="0.75"/>
<line x1="403.81" y1="182.4" x2="403.81" y2="184" stroke="#555" stroke-width="0.7"/>
<text transform="translate(405.01 186.6) rotate(-90)" font-size="3.5" fill="#262626" textLength="11.73" lengthAdjust="spacingAndGlyphs" text-anchor="end">40%/0%</text>
<line x1="403.81" y1="53.46" x2="403.81" y2="58.01" stroke="#3c3c3c" stroke-width="0.75"/>
<line x1="403.81" y1="121.37" x2="403.81" y2="150.48" stroke="#3c3c3c" stroke-width="0.75"/>
<line x1="402.81" y1="53.46" x2="404.81" y2="53.46" stroke="#3c3c3c" stroke-width="0.75"/>
<line x1="402.81" y1="150.48" x2="404.81" y2="150.48" stroke="#3c3c3c" stroke-width="0.75"/>
<rect x="402.15" y="58.01" width="3.33" height="63.36" fill="#28a876" stroke="#3c3c3c" stroke-width="0.75"/>
<line x1="402.15" y1="68.51" x2="405.48" y2="68.51" stroke="#3c3c3c" stroke-width="0.75"/>
<line x1="407.98" y1="182.4" x2="407.98" y2="184" stroke="#555" stroke-width="0.7"/>
<text transform="translate(409.18 186.6) rotate(-90)" font-size="3.5" fill="#262626" textLength="13.48" lengthAdjust="spacingAndGlyphs" text-anchor="end">40%/30%</text>
<line x1="407.98" y1="83.36" x2="407.98" y2="90.68" stroke="#3c3c3c" stroke-width="0.75"/>
<line x1="407.98" y1="132.46" x2="407.98" y2="156.22" stroke="#3c3c3c" stroke-width="0.75"/>
<line x1="406.98" y1="83.36" x2="408.98" y2="83.36" stroke="#3c3c3c" stroke-width="0.75"/>
<line x1="406.98" y1="156.22" x2="408.98" y2="156.22" stroke="#3c3c3c" stroke-width="0.75"/>
<rect x="406.31" y="90.68" width="3.33" height="41.78" fill="#2aa882" stroke="#3c3c3c" stroke-width="0.75"/>
<line x1="406.31" y1="96.42" x2="409.64" y2="96.42" stroke="#3c3c3c" stroke-width="0.75"/>
<line x1="412.14" y1="182.4" x2="412.14" y2="184" stroke="#555" stroke-width="0.7"/>
<text transform="translate(413.34 186.6) rotate(-90)" font-size="3.5" fill="#262626" textLength="13.48" lengthAdjust="spacingAndGlyphs" text-anchor="end">40%/60%</text>
<line x1="412.14" y1="93.26" x2="412.14" y2="112.86" stroke="#3c3c3c" stroke-width="0.75"/>
<line x1="412.14" y1="141.57" x2="412.14" y2="161.76" stroke="#3c3c3c" stroke-width="0.75"/>
<line x1="411.14" y1="93.26" x2="413.14" y2="93.26" stroke="#3c3c3c" stroke-width="0.75"/>
<line x1="411.14" y1="161.76" x2="413.14" y2="161.76" stroke="#3c3c3c" stroke-width="0.75"/>
<rect x="410.48" y="112.86" width="3.33" height="28.71" fill="#2eab8e" stroke="#3c3c3c" stroke-width="0.75"/>
<line x1="410.48" y1="118.01" x2="413.81" y2="118.01" stroke="#3c3c3c" stroke-width="0.75"/>
<line x1="416.31" y1="182.4" x2="416.31" y2="184" stroke="#555" stroke-width="0.7"/>
<text transform="translate(417.51 186.6) rotate(-90)" font-size="3.5" fill="#262626" textLength="11.73" lengthAdjust="spacingAndGlyphs" text-anchor="end">50%/0%</text>
<line x1="416.31" y1="61.58" x2="416.31" y2="63.95" stroke="#3c3c3c" stroke-width="0.75"/>
<line x1="416.31" y1="128.9" x2="416.31" y2="157.8" stroke="#3c3c3c" stroke-width="0.75"/>
<line x1="415.31" y1="61.58" x2="417.31" y2="61.58" stroke="#3c3c3c" stroke-width="0.75"/>
<line x1="415.31" y1="157.8" x2="417.31" y2="157.8" stroke="#3c3c3c" stroke-width="0.75"/>
<rect x="414.64" y="63.95" width="3.33" height="64.94" fill="#2aa598" stroke="#3c3c3c" stroke-width="0.75"/>
<line x1="414.64" y1="118.6" x2="417.97" y2="118.6" stroke="#3c3c3c" stroke-width="0.75"/>
<line x1="420.47" y1="182.4" x2="420.47" y2="184" stroke="#555" stroke-width="0.7"/>
<text transform="translate(421.67 186.6) rotate(-90)" font-size="3.5" fill="#262626" textLength="13.48" lengthAdjust="spacingAndGlyphs" text-anchor="end">50%/30%</text>
<line x1="420.47" y1="83.36" x2="420.47" y2="90.48" stroke="#3c3c3c" stroke-width="0.75"/>
<line x1="420.47" y1="143.35" x2="420.47" y2="163.55" stroke="#3c3c3c" stroke-width="0.75"/>
<line x1="419.47" y1="83.36" x2="421.47" y2="83.36" stroke="#3c3c3c" stroke-width="0.75"/>
<line x1="419.47" y1="163.55" x2="421.47" y2="163.55" stroke="#3c3c3c" stroke-width="0.75"/>
<rect x="418.81" y="90.48" width="3.33" height="52.87" fill="#28a3a2" stroke="#3c3c3c" stroke-width="0.75"/>
<line x1="418.81" y1="95.83" x2="422.14" y2="95.83" stroke="#3c3c3c" stroke-width="0.75"/>
<line x1="424.64" y1="182.4" x2="424.64" y2="184" stroke="#555" stroke-width="0.7"/>
<text transform="translate(425.84 186.6) rotate(-90)" font-size="3.5" fill="#262626" textLength="13.48" lengthAdjust="spacingAndGlyphs" text-anchor="end">50%/60%</text>
<line x1="424.64" y1="91.28" x2="424.64" y2="109.49" stroke="#3c3c3c" stroke-width="0.75"/>
<line x1="424.64" y1="157.61" x2="424.64" y2="172.06" stroke="#3c3c3c" stroke-width="0.75"/>
<line x1="423.64" y1="91.28" x2="425.64" y2="91.28" stroke="#3c3c3c" stroke-width="0.75"/>
<line x1="423.64" y1="172.06" x2="425.64" y2="172.06" stroke="#3c3c3c" stroke-width="0.75"/>
<rect x="422.97" y="109.49" width="3.33" height="48.11" fill="#22a3ae" stroke="#3c3c3c" stroke-width="0.75"/>
<line x1="422.97" y1="124.34" x2="426.3" y2="124.34" stroke="#3c3c3c" stroke-width="0.75"/>
<line x1="428.8" y1="182.4" x2="428.8" y2="184" stroke="#555" stroke-width="0.7"/>
<text transform="translate(430 186.6) rotate(-90)" font-size="3.5" fill="#262626" textLength="11.73" lengthAdjust="spacingAndGlyphs" text-anchor="end">60%/0%</text>
<line x1="428.8" y1="65.54" x2="428.8" y2="71.28" stroke="#3c3c3c" stroke-width="0.75"/>
<line x1="428.8" y1="137.21" x2="428.8" y2="152.26" stroke="#3c3c3c" stroke-width="0.75"/>
<line x1="427.8" y1="65.54" x2="429.8" y2="65.54" stroke="#3c3c3c" stroke-width="0.75"/>
<line x1="427.8" y1="152.26" x2="429.8" y2="152.26" stroke="#3c3c3c" stroke-width="0.75"/>
<rect x="427.14" y="71.28" width="3.33" height="65.93" fill="#20a8c4" stroke="#3c3c3c" stroke-width="0.75"/>
<line x1="427.14" y1="105.53" x2="430.47" y2="105.53" stroke="#3c3c3c" stroke-width="0.75"/>
<line x1="432.97" y1="182.4" x2="432.97" y2="184" stroke="#555" stroke-width="0.7"/>
<text transform="translate(434.17 186.6) rotate(-90)" font-size="3.5" fill="#262626" textLength="13.48" lengthAdjust="spacingAndGlyphs" text-anchor="end">60%/30%</text>
<line x1="432.97" y1="83.36" x2="432.97" y2="95.24" stroke="#3c3c3c" stroke-width="0.75"/>
<line x1="432.97" y1="154.04" x2="432.97" y2="159.98" stroke="#3c3c3c" stroke-width="0.75"/>
<line x1="431.97" y1="83.36" x2="433.97" y2="83.36" stroke="#3c3c3c" stroke-width="0.75"/>
<line x1="431.97" y1="159.98" x2="433.97" y2="159.98" stroke="#3c3c3c" stroke-width="0.75"/>
<rect x="431.3" y="95.24" width="3.33" height="58.81" fill="#22aede" stroke="#3c3c3c" stroke-width="0.75"/>
<line x1="431.3" y1="115.23" x2="434.63" y2="115.23" stroke="#3c3c3c" stroke-width="0.75"/>
<line x1="437.13" y1="182.4" x2="437.13" y2="184" stroke="#555" stroke-width="0.7"/>
<text transform="translate(438.33 186.6) rotate(-90)" font-size="3.5" fill="#262626" textLength="13.48" lengthAdjust="spacingAndGlyphs" text-anchor="end">60%/60%</text>
<line x1="437.13" y1="95.04" x2="437.13" y2="108.7" stroke="#3c3c3c" stroke-width="0.75"/>
<line x1="437.13" y1="160.97" x2="437.13" y2="167.7" stroke="#3c3c3c" stroke-width="0.75"/>
<line x1="436.13" y1="95.04" x2="438.13" y2="95.04" stroke="#3c3c3c" stroke-width="0.75"/>
<line x1="436.13" y1="167.7" x2="438.13" y2="167.7" stroke="#3c3c3c" stroke-width="0.75"/>
<rect x="435.47" y="108.7" width="3.33" height="52.27" fill="#44a2e0" stroke="#3c3c3c" stroke-width="0.75"/>
<line x1="435.47" y1="145.53" x2="438.8" y2="145.53" stroke="#3c3c3c" stroke-width="0.75"/>
<line x1="441.3" y1="182.4" x2="441.3" y2="184" stroke="#555" stroke-width="0.7"/>
<text transform="translate(442.5 186.6) rotate(-90)" font-size="3.5" fill="#262626" textLength="11.73" lengthAdjust="spacingAndGlyphs" text-anchor="end">70%/0%</text>
<line x1="441.3" y1="144.14" x2="441.3" y2="152.26" stroke="#3c3c3c" stroke-width="0.75"/>
<line x1="441.3" y1="161.57" x2="441.3" y2="167.7" stroke="#3c3c3c" stroke-width="0.75"/>
<line x1="440.3" y1="144.14" x2="442.3" y2="144.14" stroke="#3c3c3c" stroke-width="0.75"/>
<line x1="440.3" y1="167.7" x2="442.3" y2="167.7" stroke="#3c3c3c" stroke-width="0.75"/>
<rect x="439.63" y="152.26" width="3.33" height="9.31" fill="#6c94d8" stroke="#3c3c3c" stroke-width="0.75"/>
<line x1="439.63" y1="158.2" x2="442.96" y2="158.2" stroke="#3c3c3c" stroke-width="0.75"/>
<line x1="445.46" y1="182.4" x2="445.46" y2="184" stroke="#555" stroke-width="0.7"/>
<text transform="translate(446.66 186.6) rotate(-90)" font-size="3.5" fill="#262626" textLength="13.48" lengthAdjust="spacingAndGlyphs" text-anchor="end">70%/30%</text>
<line x1="445.46" y1="154.24" x2="445.46" y2="156.62" stroke="#3c3c3c" stroke-width="0.75"/>
<line x1="445.46" y1="163.55" x2="445.46" y2="167.7" stroke="#3c3c3c" stroke-width="0.75"/>
<line x1="444.46" y1="154.24" x2="446.46" y2="154.24" stroke="#3c3c3c" stroke-width="0.75"/>
<line x1="444.46" y1="167.7" x2="446.46" y2="167.7" stroke="#3c3c3c" stroke-width="0.75"/>
<rect x="443.8" y="156.62" width="3.33" height="6.93" fill="#9c90d8" stroke="#3c3c3c" stroke-width="0.75"/>
<line x1="443.8" y1="160.18" x2="447.13" y2="160.18" stroke="#3c3c3c" stroke-width="0.75"/>
<line x1="449.63" y1="182.4" x2="449.63" y2="184" stroke="#555" stroke-width="0.7"/>
<text transform="translate(450.83 186.6) rotate(-90)" font-size="3.5" fill="#262626" textLength="13.48" lengthAdjust="spacingAndGlyphs" text-anchor="end">70%/60%</text>
<line x1="449.63" y1="156.22" x2="449.63" y2="160.97" stroke="#3c3c3c" stroke-width="0.75"/>
<line x1="449.63" y1="168.1" x2="449.63" y2="171.66" stroke="#3c3c3c" stroke-width="0.75"/>
<line x1="448.63" y1="156.22" x2="450.63" y2="156.22" stroke="#3c3c3c" stroke-width="0.75"/>
<line x1="448.63" y1="171.66" x2="450.63" y2="171.66" stroke="#3c3c3c" stroke-width="0.75"/>
<rect x="447.96" y="160.97" width="3.33" height="7.13" fill="#b08ed8" stroke="#3c3c3c" stroke-width="0.75"/>
<line x1="447.96" y1="164.14" x2="451.29" y2="164.14" stroke="#3c3c3c" stroke-width="0.75"/>
<line x1="453.79" y1="182.4" x2="453.79" y2="184" stroke="#555" stroke-width="0.7"/>
<text transform="translate(454.99 186.6) rotate(-90)" font-size="3.5" fill="#262626" textLength="11.73" lengthAdjust="spacingAndGlyphs" text-anchor="end">80%/0%</text>
<line x1="453.79" y1="156.22" x2="453.79" y2="160.58" stroke="#3c3c3c" stroke-width="0.75"/>
<line x1="453.79" y1="164.93" x2="453.79" y2="169.88" stroke="#3c3c3c" stroke-width="0.75"/>
<line x1="452.79" y1="156.22" x2="454.79" y2="156.22" stroke="#3c3c3c" stroke-width="0.75"/>
<line x1="452.79" y1="169.88" x2="454.79" y2="169.88" stroke="#3c3c3c" stroke-width="0.75"/>
<rect x="452.13" y="160.58" width="3.33" height="4.36" fill="#c08ad4" stroke="#3c3c3c" stroke-width="0.75"/>
<line x1="452.13" y1="162.16" x2="455.46" y2="162.16" stroke="#3c3c3c" stroke-width="0.75"/>
<line x1="457.96" y1="182.4" x2="457.96" y2="184" stroke="#555" stroke-width="0.7"/>
<text transform="translate(459.16 186.6) rotate(-90)" font-size="3.5" fill="#262626" textLength="13.48" lengthAdjust="spacingAndGlyphs" text-anchor="end">80%/30%</text>
<line x1="457.96" y1="148.5" x2="457.96" y2="160.58" stroke="#3c3c3c" stroke-width="0.75"/>
<line x1="457.96" y1="168.5" x2="457.96" y2="171.66" stroke="#3c3c3c" stroke-width="0.75"/>
<line x1="456.96" y1="148.5" x2="458.96" y2="148.5" stroke="#3c3c3c" stroke-width="0.75"/>
<line x1="456.96" y1="171.66" x2="458.96" y2="171.66" stroke="#3c3c3c" stroke-width="0.75"/>
<rect x="456.29" y="160.58" width="3.33" height="7.92" fill="#d080cc" stroke="#3c3c3c" stroke-width="0.75"/>
<line x1="456.29" y1="164.14" x2="459.62" y2="164.14" stroke="#3c3c3c" stroke-width="0.75"/>
<line x1="462.12" y1="182.4" x2="462.12" y2="184" stroke="#555" stroke-width="0.7"/>
<text transform="translate(463.32 186.6) rotate(-90)" font-size="3.5" fill="#262626" textLength="13.48" lengthAdjust="spacingAndGlyphs" text-anchor="end">80%/60%</text>
<line x1="462.12" y1="158.4" x2="462.12" y2="165.33" stroke="#3c3c3c" stroke-width="0.75"/>
<line x1="462.12" y1="173.05" x2="462.12" y2="173.05" stroke="#3c3c3c" stroke-width="0.75"/>
<line x1="461.12" y1="158.4" x2="463.12" y2="158.4" stroke="#3c3c3c" stroke-width="0.75"/>
<line x1="461.12" y1="173.05" x2="463.12" y2="173.05" stroke="#3c3c3c" stroke-width="0.75"/>
<rect x="460.46" y="165.33" width="3.33" height="7.72" fill="#dc78bc" stroke="#3c3c3c" stroke-width="0.75"/>
<line x1="460.46" y1="170.08" x2="463.79" y2="170.08" stroke="#3c3c3c" stroke-width="0.75"/>
<line x1="466.29" y1="182.4" x2="466.29" y2="184" stroke="#555" stroke-width="0.7"/>
<text transform="translate(467.49 186.6) rotate(-90)" font-size="3.5" fill="#262626" textLength="11.73" lengthAdjust="spacingAndGlyphs" text-anchor="end">90%/0%</text>
<line x1="466.29" y1="170.28" x2="466.29" y2="170.28" stroke="#3c3c3c" stroke-width="0.75"/>
<line x1="466.29" y1="173.25" x2="466.29" y2="173.25" stroke="#3c3c3c" stroke-width="0.75"/>
<line x1="465.29" y1="170.28" x2="467.29" y2="170.28" stroke="#3c3c3c" stroke-width="0.75"/>
<line x1="465.29" y1="173.25" x2="467.29" y2="173.25" stroke="#3c3c3c" stroke-width="0.75"/>
<rect x="464.62" y="170.28" width="3.33" height="2.97" fill="#e072ac" stroke="#3c3c3c" stroke-width="0.75"/>
<line x1="464.62" y1="172.06" x2="467.95" y2="172.06" stroke="#3c3c3c" stroke-width="0.75"/>
<path d="M466.29 91.16L467.47 93.06L466.29 94.96L465.11 93.06Z" fill="#262626"/>
<line x1="470.45" y1="182.4" x2="470.45" y2="184" stroke="#555" stroke-width="0.7"/>
<text transform="translate(471.65 186.6) rotate(-90)" font-size="3.5" fill="#262626" textLength="13.48" lengthAdjust="spacingAndGlyphs" text-anchor="end">90%/30%</text>
<line x1="470.45" y1="168.1" x2="470.45" y2="168.89" stroke="#3c3c3c" stroke-width="0.75"/>
<line x1="470.45" y1="173.25" x2="470.45" y2="173.25" stroke="#3c3c3c" stroke-width="0.75"/>
<line x1="469.45" y1="168.1" x2="471.45" y2="168.1" stroke="#3c3c3c" stroke-width="0.75"/>
<line x1="469.45" y1="173.25" x2="471.45" y2="173.25" stroke="#3c3c3c" stroke-width="0.75"/>
<rect x="468.79" y="168.89" width="3.33" height="4.36" fill="#e0709c" stroke="#3c3c3c" stroke-width="0.75"/>
<line x1="468.79" y1="171.07" x2="472.12" y2="171.07" stroke="#3c3c3c" stroke-width="0.75"/>
<path d="M470.45 106.8L471.63 108.7L470.45 110.6L469.27 108.7Z" fill="#262626"/>
<line x1="474.62" y1="182.4" x2="474.62" y2="184" stroke="#555" stroke-width="0.7"/>
<text transform="translate(475.82 186.6) rotate(-90)" font-size="3.5" fill="#262626" textLength="13.48" lengthAdjust="spacingAndGlyphs" text-anchor="end">90%/60%</text>
<line x1="474.62" y1="166.12" x2="474.62" y2="166.12" stroke="#3c3c3c" stroke-width="0.75"/>
<line x1="474.62" y1="175.43" x2="474.62" y2="175.43" stroke="#3c3c3c" stroke-width="0.75"/>
<line x1="473.62" y1="166.12" x2="475.62" y2="166.12" stroke="#3c3c3c" stroke-width="0.75"/>
<line x1="473.62" y1="175.43" x2="475.62" y2="175.43" stroke="#3c3c3c" stroke-width="0.75"/>
<rect x="472.95" y="166.12" width="3.33" height="9.31" fill="#e06a8a" stroke="#3c3c3c" stroke-width="0.75"/>
<line x1="472.95" y1="171.07" x2="476.28" y2="171.07" stroke="#3c3c3c" stroke-width="0.75"/>
<path d="M474.62 118.68L475.8 120.58L474.62 122.48L473.44 120.58Z" fill="#262626"/>
<rect x="501.7" y="45.6" width="124.9" height="136.8" fill="none" stroke="#bdbdbd" stroke-width="0.9"/>
<text x="564.3" y="31.7" font-size="8.4" fill="#333333" textLength="104.4" lengthAdjust="spacingAndGlyphs" text-anchor="middle">‘Modifier’ reaction pattern</text>
<text x="564.35" y="41.2" font-size="8.4" fill="#333333" textLength="88.5" lengthAdjust="spacingAndGlyphs" text-anchor="middle">with reaction collapse</text>
<line x1="499.9" y1="175.9" x2="501.7" y2="175.9" stroke="#6a6a6a" stroke-width="0.6"/>
<text x="496.1" y="178.1" font-size="8" fill="#333333" text-anchor="end">0</text>
<line x1="499.9" y1="159" x2="501.7" y2="159" stroke="#6a6a6a" stroke-width="0.6"/>
<text x="496.1" y="161.2" font-size="8" fill="#333333" text-anchor="end">100</text>
<line x1="499.9" y1="142.1" x2="501.7" y2="142.1" stroke="#6a6a6a" stroke-width="0.6"/>
<text x="496.1" y="144.3" font-size="8" fill="#333333" text-anchor="end">200</text>
<line x1="499.9" y1="125.2" x2="501.7" y2="125.2" stroke="#6a6a6a" stroke-width="0.6"/>
<text x="496.1" y="127.4" font-size="8" fill="#333333" text-anchor="end">300</text>
<line x1="499.9" y1="108.3" x2="501.7" y2="108.3" stroke="#6a6a6a" stroke-width="0.6"/>
<text x="496.1" y="110.5" font-size="8" fill="#333333" text-anchor="end">400</text>
<line x1="499.9" y1="91.4" x2="501.7" y2="91.4" stroke="#6a6a6a" stroke-width="0.6"/>
<text x="496.1" y="93.6" font-size="8" fill="#333333" text-anchor="end">500</text>
<line x1="499.9" y1="74.5" x2="501.7" y2="74.5" stroke="#6a6a6a" stroke-width="0.6"/>
<text x="496.1" y="76.7" font-size="8" fill="#333333" text-anchor="end">600</text>
<line x1="499.9" y1="57.6" x2="501.7" y2="57.6" stroke="#6a6a6a" stroke-width="0.6"/>
<text x="496.1" y="59.8" font-size="8" fill="#333333" text-anchor="end">700</text>
<line x1="503.78" y1="182.4" x2="503.78" y2="184" stroke="#555" stroke-width="0.7"/>
<text transform="translate(504.98 186.6) rotate(-90)" font-size="3.5" fill="#262626" textLength="9.98" lengthAdjust="spacingAndGlyphs" text-anchor="end">0%/0%</text>
<line x1="503.78" y1="92.41" x2="503.78" y2="92.41" stroke="#3c3c3c" stroke-width="0.75"/>
<line x1="503.78" y1="92.41" x2="503.78" y2="92.41" stroke="#3c3c3c" stroke-width="0.75"/>
<line x1="502.78" y1="92.41" x2="504.78" y2="92.41" stroke="#3c3c3c" stroke-width="0.75"/>
<line x1="502.78" y1="92.41" x2="504.78" y2="92.41" stroke="#3c3c3c" stroke-width="0.75"/>
<rect x="502.12" y="92.41" width="3.33" height="0" fill="#e07080" stroke="#3c3c3c" stroke-width="0.75"/>
<line x1="502.12" y1="92.41" x2="505.45" y2="92.41" stroke="#3c3c3c" stroke-width="0.75"/>
<line x1="507.94" y1="182.4" x2="507.94" y2="184" stroke="#555" stroke-width="0.7"/>
<text transform="translate(509.14 186.6) rotate(-90)" font-size="3.5" fill="#262626" textLength="11.73" lengthAdjust="spacingAndGlyphs" text-anchor="end">0%/30%</text>
<line x1="507.94" y1="97.31" x2="507.94" y2="106.44" stroke="#3c3c3c" stroke-width="0.75"/>
<line x1="507.94" y1="117.09" x2="507.94" y2="121.31" stroke="#3c3c3c" stroke-width="0.75"/>
<line x1="506.95" y1="97.31" x2="508.94" y2="97.31" stroke="#3c3c3c" stroke-width="0.75"/>
<line x1="506.95" y1="121.31" x2="508.94" y2="121.31" stroke="#3c3c3c" stroke-width="0.75"/>
<rect x="506.28" y="106.44" width="3.33" height="10.65" fill="#e88080" stroke="#3c3c3c" stroke-width="0.75"/>
<line x1="506.28" y1="111.68" x2="509.61" y2="111.68" stroke="#3c3c3c" stroke-width="0.75"/>
<line x1="512.11" y1="182.4" x2="512.11" y2="184" stroke="#555" stroke-width="0.7"/>
<text transform="translate(513.31 186.6) rotate(-90)" font-size="3.5" fill="#262626" textLength="11.73" lengthAdjust="spacingAndGlyphs" text-anchor="end">0%/60%</text>
<line x1="512.11" y1="119.28" x2="512.11" y2="121.31" stroke="#3c3c3c" stroke-width="0.75"/>
<line x1="512.11" y1="133.82" x2="512.11" y2="139.4" stroke="#3c3c3c" stroke-width="0.75"/>
<line x1="511.11" y1="119.28" x2="513.11" y2="119.28" stroke="#3c3c3c" stroke-width="0.75"/>
<line x1="511.11" y1="139.4" x2="513.11" y2="139.4" stroke="#3c3c3c" stroke-width="0.75"/>
<rect x="510.44" y="121.31" width="3.33" height="12.51" fill="#ec8a66" stroke="#3c3c3c" stroke-width="0.75"/>
<line x1="510.44" y1="124.36" x2="513.77" y2="124.36" stroke="#3c3c3c" stroke-width="0.75"/>
<line x1="516.27" y1="182.4" x2="516.27" y2="184" stroke="#555" stroke-width="0.7"/>
<text transform="translate(517.47 186.6) rotate(-90)" font-size="3.5" fill="#262626" textLength="11.73" lengthAdjust="spacingAndGlyphs" text-anchor="end">10%/0%</text>
<line x1="516.27" y1="92.25" x2="516.27" y2="92.25" stroke="#3c3c3c" stroke-width="0.75"/>
<line x1="516.27" y1="93.43" x2="516.27" y2="93.43" stroke="#3c3c3c" stroke-width="0.75"/>
<line x1="515.27" y1="92.25" x2="517.27" y2="92.25" stroke="#3c3c3c" stroke-width="0.75"/>
<line x1="515.27" y1="93.43" x2="517.27" y2="93.43" stroke="#3c3c3c" stroke-width="0.75"/>
<rect x="514.61" y="92.25" width="3.33" height="1.18" fill="#e4903e" stroke="#3c3c3c" stroke-width="0.75"/>
<line x1="514.61" y1="92.75" x2="517.94" y2="92.75" stroke="#3c3c3c" stroke-width="0.75"/>
<path d="M516.27 85.61L517.45 87.51L516.27 89.41L515.09 87.51Z" fill="#262626"/>
<line x1="520.43" y1="182.4" x2="520.43" y2="184" stroke="#555" stroke-width="0.7"/>
<text transform="translate(521.63 186.6) rotate(-90)" font-size="3.5" fill="#262626" textLength="13.48" lengthAdjust="spacingAndGlyphs" text-anchor="end">10%/30%</text>
<line x1="520.43" y1="97.48" x2="520.43" y2="107.62" stroke="#3c3c3c" stroke-width="0.75"/>
<line x1="520.43" y1="117.26" x2="520.43" y2="122.66" stroke="#3c3c3c" stroke-width="0.75"/>
<line x1="519.44" y1="97.48" x2="521.43" y2="97.48" stroke="#3c3c3c" stroke-width="0.75"/>
<line x1="519.44" y1="122.66" x2="521.43" y2="122.66" stroke="#3c3c3c" stroke-width="0.75"/>
<rect x="518.77" y="107.62" width="3.33" height="9.63" fill="#d8a048" stroke="#3c3c3c" stroke-width="0.75"/>
<line x1="518.77" y1="111.34" x2="522.1" y2="111.34" stroke="#3c3c3c" stroke-width="0.75"/>
<line x1="524.6" y1="182.4" x2="524.6" y2="184" stroke="#555" stroke-width="0.7"/>
<text transform="translate(525.8 186.6) rotate(-90)" font-size="3.5" fill="#262626" textLength="13.48" lengthAdjust="spacingAndGlyphs" text-anchor="end">10%/60%</text>
<line x1="524.6" y1="119.28" x2="524.6" y2="122.16" stroke="#3c3c3c" stroke-width="0.75"/>
<line x1="524.6" y1="134.16" x2="524.6" y2="137.37" stroke="#3c3c3c" stroke-width="0.75"/>
<line x1="523.6" y1="119.28" x2="525.6" y2="119.28" stroke="#3c3c3c" stroke-width="0.75"/>
<line x1="523.6" y1="137.37" x2="525.6" y2="137.37" stroke="#3c3c3c" stroke-width="0.75"/>
<rect x="522.93" y="122.16" width="3.33" height="12" fill="#cfa944" stroke="#3c3c3c" stroke-width="0.75"/>
<line x1="522.93" y1="126.89" x2="526.26" y2="126.89" stroke="#3c3c3c" stroke-width="0.75"/>
<line x1="528.76" y1="182.4" x2="528.76" y2="184" stroke="#555" stroke-width="0.7"/>
<text transform="translate(529.96 186.6) rotate(-90)" font-size="3.5" fill="#262626" textLength="11.73" lengthAdjust="spacingAndGlyphs" text-anchor="end">20%/0%</text>
<line x1="528.76" y1="86.33" x2="528.76" y2="91.23" stroke="#3c3c3c" stroke-width="0.75"/>
<line x1="528.76" y1="108.47" x2="528.76" y2="115.23" stroke="#3c3c3c" stroke-width="0.75"/>
<line x1="527.76" y1="86.33" x2="529.76" y2="86.33" stroke="#3c3c3c" stroke-width="0.75"/>
<line x1="527.76" y1="115.23" x2="529.76" y2="115.23" stroke="#3c3c3c" stroke-width="0.75"/>
<rect x="527.1" y="91.23" width="3.33" height="17.24" fill="#b8aa40" stroke="#3c3c3c" stroke-width="0.75"/>
<line x1="527.1" y1="94.78" x2="530.43" y2="94.78" stroke="#3c3c3c" stroke-width="0.75"/>
<line x1="532.92" y1="182.4" x2="532.92" y2="184" stroke="#555" stroke-width="0.7"/>
<text transform="translate(534.12 186.6) rotate(-90)" font-size="3.5" fill="#262626" textLength="13.48" lengthAdjust="spacingAndGlyphs" text-anchor="end">20%/30%</text>
<line x1="532.92" y1="113.88" x2="532.92" y2="113.88" stroke="#3c3c3c" stroke-width="0.75"/>
<line x1="532.92" y1="123.51" x2="532.92" y2="132.47" stroke="#3c3c3c" stroke-width="0.75"/>
<line x1="531.93" y1="113.88" x2="533.92" y2="113.88" stroke="#3c3c3c" stroke-width="0.75"/>
<line x1="531.93" y1="132.47" x2="533.92" y2="132.47" stroke="#3c3c3c" stroke-width="0.75"/>
<rect x="531.26" y="113.88" width="3.33" height="9.63" fill="#a6b042" stroke="#3c3c3c" stroke-width="0.75"/>
<line x1="531.26" y1="118.44" x2="534.59" y2="118.44" stroke="#3c3c3c" stroke-width="0.75"/>
<path d="M532.92 90.34L534.1 92.25L532.92 94.15L531.75 92.25Z" fill="#262626"/>
<line x1="537.09" y1="182.4" x2="537.09" y2="184" stroke="#555" stroke-width="0.7"/>
<text transform="translate(538.29 186.6) rotate(-90)" font-size="3.5" fill="#262626" textLength="13.48" lengthAdjust="spacingAndGlyphs" text-anchor="end">20%/60%</text>
<line x1="537.09" y1="117.76" x2="537.09" y2="119.96" stroke="#3c3c3c" stroke-width="0.75"/>
<line x1="537.09" y1="136.19" x2="537.09" y2="159.68" stroke="#3c3c3c" stroke-width="0.75"/>
<line x1="536.09" y1="117.76" x2="538.09" y2="117.76" stroke="#3c3c3c" stroke-width="0.75"/>
<line x1="536.09" y1="159.68" x2="538.09" y2="159.68" stroke="#3c3c3c" stroke-width="0.75"/>
<rect x="535.42" y="119.96" width="3.33" height="16.22" fill="#94b646" stroke="#3c3c3c" stroke-width="0.75"/>
<line x1="535.42" y1="130.44" x2="538.75" y2="130.44" stroke="#3c3c3c" stroke-width="0.75"/>
<line x1="541.25" y1="182.4" x2="541.25" y2="184" stroke="#555" stroke-width="0.7"/>
<text transform="translate(542.45 186.6) rotate(-90)" font-size="3.5" fill="#262626" textLength="11.73" lengthAdjust="spacingAndGlyphs" text-anchor="end">30%/0%</text>
<line x1="541.25" y1="69.43" x2="541.25" y2="90.39" stroke="#3c3c3c" stroke-width="0.75"/>
<line x1="541.25" y1="110.84" x2="541.25" y2="117.43" stroke="#3c3c3c" stroke-width="0.75"/>
<line x1="540.25" y1="69.43" x2="542.25" y2="69.43" stroke="#3c3c3c" stroke-width="0.75"/>
<line x1="540.25" y1="117.43" x2="542.25" y2="117.43" stroke="#3c3c3c" stroke-width="0.75"/>
<rect x="539.59" y="90.39" width="3.33" height="20.45" fill="#6cb84c" stroke="#3c3c3c" stroke-width="0.75"/>
<line x1="539.59" y1="99.85" x2="542.92" y2="99.85" stroke="#3c3c3c" stroke-width="0.75"/>
<line x1="545.41" y1="182.4" x2="545.41" y2="184" stroke="#555" stroke-width="0.7"/>
<text transform="translate(546.62 186.6) rotate(-90)" font-size="3.5" fill="#262626" textLength="13.48" lengthAdjust="spacingAndGlyphs" text-anchor="end">30%/30%</text>
<line x1="545.41" y1="114.38" x2="545.41" y2="115.57" stroke="#3c3c3c" stroke-width="0.75"/>
<line x1="545.41" y1="125.88" x2="545.41" y2="133.31" stroke="#3c3c3c" stroke-width="0.75"/>
<line x1="544.42" y1="114.38" x2="546.41" y2="114.38" stroke="#3c3c3c" stroke-width="0.75"/>
<line x1="544.42" y1="133.31" x2="546.41" y2="133.31" stroke="#3c3c3c" stroke-width="0.75"/>
<rect x="543.75" y="115.57" width="3.33" height="10.31" fill="#46b656" stroke="#3c3c3c" stroke-width="0.75"/>
<line x1="543.75" y1="120.47" x2="547.08" y2="120.47" stroke="#3c3c3c" stroke-width="0.75"/>
<path d="M545.41 71.08L546.59 72.98L545.41 74.88L544.24 72.98Z" fill="#262626"/>
<line x1="549.58" y1="182.4" x2="549.58" y2="184" stroke="#555" stroke-width="0.7"/>
<text transform="translate(550.78 186.6) rotate(-90)" font-size="3.5" fill="#262626" textLength="13.48" lengthAdjust="spacingAndGlyphs" text-anchor="end">30%/60%</text>
<line x1="549.58" y1="115.57" x2="549.58" y2="119.28" stroke="#3c3c3c" stroke-width="0.75"/>
<line x1="549.58" y1="137.71" x2="549.58" y2="152.75" stroke="#3c3c3c" stroke-width="0.75"/>
<line x1="548.58" y1="115.57" x2="550.58" y2="115.57" stroke="#3c3c3c" stroke-width="0.75"/>
<line x1="548.58" y1="152.75" x2="550.58" y2="152.75" stroke="#3c3c3c" stroke-width="0.75"/>
<rect x="547.91" y="119.28" width="3.33" height="18.42" fill="#30ae66" stroke="#3c3c3c" stroke-width="0.75"/>
<line x1="547.91" y1="125.37" x2="551.24" y2="125.37" stroke="#3c3c3c" stroke-width="0.75"/>
<line x1="553.74" y1="182.4" x2="553.74" y2="184" stroke="#555" stroke-width="0.7"/>
<text transform="translate(554.94 186.6) rotate(-90)" font-size="3.5" fill="#262626" textLength="11.73" lengthAdjust="spacingAndGlyphs" text-anchor="end">40%/0%</text>
<line x1="553.74" y1="51.35" x2="553.74" y2="67.23" stroke="#3c3c3c" stroke-width="0.75"/>
<line x1="553.74" y1="114.38" x2="553.74" y2="147.34" stroke="#3c3c3c" stroke-width="0.75"/>
<line x1="552.74" y1="51.35" x2="554.74" y2="51.35" stroke="#3c3c3c" stroke-width="0.75"/>
<line x1="552.74" y1="147.34" x2="554.74" y2="147.34" stroke="#3c3c3c" stroke-width="0.75"/>
<rect x="552.08" y="67.23" width="3.33" height="47.15" fill="#28a876" stroke="#3c3c3c" stroke-width="0.75"/>
<line x1="552.08" y1="99.85" x2="555.41" y2="99.85" stroke="#3c3c3c" stroke-width="0.75"/>
<line x1="557.9" y1="182.4" x2="557.9" y2="184" stroke="#555" stroke-width="0.7"/>
<text transform="translate(559.11 186.6) rotate(-90)" font-size="3.5" fill="#262626" textLength="13.48" lengthAdjust="spacingAndGlyphs" text-anchor="end">40%/30%</text>
<line x1="557.9" y1="54.39" x2="557.9" y2="88.53" stroke="#3c3c3c" stroke-width="0.75"/>
<line x1="557.9" y1="131.12" x2="557.9" y2="149.54" stroke="#3c3c3c" stroke-width="0.75"/>
<line x1="556.91" y1="54.39" x2="558.9" y2="54.39" stroke="#3c3c3c" stroke-width="0.75"/>
<line x1="556.91" y1="149.54" x2="558.9" y2="149.54" stroke="#3c3c3c" stroke-width="0.75"/>
<rect x="556.24" y="88.53" width="3.33" height="42.59" fill="#2aa882" stroke="#3c3c3c" stroke-width="0.75"/>
<line x1="556.24" y1="114.72" x2="559.57" y2="114.72" stroke="#3c3c3c" stroke-width="0.75"/>
<line x1="562.07" y1="182.4" x2="562.07" y2="184" stroke="#555" stroke-width="0.7"/>
<text transform="translate(563.27 186.6) rotate(-90)" font-size="3.5" fill="#262626" textLength="13.48" lengthAdjust="spacingAndGlyphs" text-anchor="end">40%/60%</text>
<line x1="562.07" y1="125.54" x2="562.07" y2="128.24" stroke="#3c3c3c" stroke-width="0.75"/>
<line x1="562.07" y1="142.44" x2="562.07" y2="152.75" stroke="#3c3c3c" stroke-width="0.75"/>
<line x1="561.07" y1="125.54" x2="563.07" y2="125.54" stroke="#3c3c3c" stroke-width="0.75"/>
<line x1="561.07" y1="152.75" x2="563.07" y2="152.75" stroke="#3c3c3c" stroke-width="0.75"/>
<rect x="560.4" y="128.24" width="3.33" height="14.2" fill="#2eab8e" stroke="#3c3c3c" stroke-width="0.75"/>
<line x1="560.4" y1="132.97" x2="563.73" y2="132.97" stroke="#3c3c3c" stroke-width="0.75"/>
<line x1="566.23" y1="182.4" x2="566.23" y2="184" stroke="#555" stroke-width="0.7"/>
<text transform="translate(567.43 186.6) rotate(-90)" font-size="3.5" fill="#262626" textLength="11.73" lengthAdjust="spacingAndGlyphs" text-anchor="end">50%/0%</text>
<line x1="566.23" y1="91.06" x2="566.23" y2="98.33" stroke="#3c3c3c" stroke-width="0.75"/>
<line x1="566.23" y1="127.23" x2="566.23" y2="154.1" stroke="#3c3c3c" stroke-width="0.75"/>
<line x1="565.23" y1="91.06" x2="567.23" y2="91.06" stroke="#3c3c3c" stroke-width="0.75"/>
<line x1="565.23" y1="154.1" x2="567.23" y2="154.1" stroke="#3c3c3c" stroke-width="0.75"/>
<rect x="564.57" y="98.33" width="3.33" height="28.9" fill="#2aa598" stroke="#3c3c3c" stroke-width="0.75"/>
<line x1="564.57" y1="109.48" x2="567.9" y2="109.48" stroke="#3c3c3c" stroke-width="0.75"/>
<line x1="570.39" y1="182.4" x2="570.39" y2="184" stroke="#555" stroke-width="0.7"/>
<text transform="translate(571.6 186.6) rotate(-90)" font-size="3.5" fill="#262626" textLength="13.48" lengthAdjust="spacingAndGlyphs" text-anchor="end">50%/30%</text>
<line x1="570.39" y1="110.84" x2="570.39" y2="112.36" stroke="#3c3c3c" stroke-width="0.75"/>
<line x1="570.39" y1="142.94" x2="570.39" y2="164.41" stroke="#3c3c3c" stroke-width="0.75"/>
<line x1="569.4" y1="110.84" x2="571.39" y2="110.84" stroke="#3c3c3c" stroke-width="0.75"/>
<line x1="569.4" y1="164.41" x2="571.39" y2="164.41" stroke="#3c3c3c" stroke-width="0.75"/>
<rect x="568.73" y="112.36" width="3.33" height="30.59" fill="#28a3a2" stroke="#3c3c3c" stroke-width="0.75"/>
<line x1="568.73" y1="117.43" x2="572.06" y2="117.43" stroke="#3c3c3c" stroke-width="0.75"/>
<line x1="574.56" y1="182.4" x2="574.56" y2="184" stroke="#555" stroke-width="0.7"/>
<text transform="translate(575.76 186.6) rotate(-90)" font-size="3.5" fill="#262626" textLength="13.48" lengthAdjust="spacingAndGlyphs" text-anchor="end">50%/60%</text>
<line x1="574.56" y1="126.38" x2="574.56" y2="131.96" stroke="#3c3c3c" stroke-width="0.75"/>
<line x1="574.56" y1="158.32" x2="574.56" y2="166.94" stroke="#3c3c3c" stroke-width="0.75"/>
<line x1="573.56" y1="126.38" x2="575.56" y2="126.38" stroke="#3c3c3c" stroke-width="0.75"/>
<line x1="573.56" y1="166.94" x2="575.56" y2="166.94" stroke="#3c3c3c" stroke-width="0.75"/>
<rect x="572.89" y="131.96" width="3.33" height="26.36" fill="#22a3ae" stroke="#3c3c3c" stroke-width="0.75"/>
<line x1="572.89" y1="135.34" x2="576.22" y2="135.34" stroke="#3c3c3c" stroke-width="0.75"/>
<line x1="578.72" y1="182.4" x2="578.72" y2="184" stroke="#555" stroke-width="0.7"/>
<text transform="translate(579.92 186.6) rotate(-90)" font-size="3.5" fill="#262626" textLength="11.73" lengthAdjust="spacingAndGlyphs" text-anchor="end">60%/0%</text>
<line x1="578.72" y1="86.33" x2="578.72" y2="98.16" stroke="#3c3c3c" stroke-width="0.75"/>
<line x1="578.72" y1="136.19" x2="578.72" y2="146.16" stroke="#3c3c3c" stroke-width="0.75"/>
<line x1="577.72" y1="86.33" x2="579.72" y2="86.33" stroke="#3c3c3c" stroke-width="0.75"/>
<line x1="577.72" y1="146.16" x2="579.72" y2="146.16" stroke="#3c3c3c" stroke-width="0.75"/>
<rect x="577.06" y="98.16" width="3.33" height="38.03" fill="#20a8c4" stroke="#3c3c3c" stroke-width="0.75"/>
<line x1="577.06" y1="109.48" x2="580.39" y2="109.48" stroke="#3c3c3c" stroke-width="0.75"/>
<line x1="582.88" y1="182.4" x2="582.88" y2="184" stroke="#555" stroke-width="0.7"/>
<text transform="translate(584.09 186.6) rotate(-90)" font-size="3.5" fill="#262626" textLength="13.48" lengthAdjust="spacingAndGlyphs" text-anchor="end">60%/30%</text>
<line x1="582.88" y1="113.2" x2="582.88" y2="119.28" stroke="#3c3c3c" stroke-width="0.75"/>
<line x1="582.88" y1="142.44" x2="582.88" y2="159.34" stroke="#3c3c3c" stroke-width="0.75"/>
<line x1="581.89" y1="113.2" x2="583.88" y2="113.2" stroke="#3c3c3c" stroke-width="0.75"/>
<line x1="581.89" y1="159.34" x2="583.88" y2="159.34" stroke="#3c3c3c" stroke-width="0.75"/>
<rect x="581.22" y="119.28" width="3.33" height="23.15" fill="#22aede" stroke="#3c3c3c" stroke-width="0.75"/>
<line x1="581.22" y1="125.2" x2="584.55" y2="125.2" stroke="#3c3c3c" stroke-width="0.75"/>
<line x1="587.05" y1="182.4" x2="587.05" y2="184" stroke="#555" stroke-width="0.7"/>
<text transform="translate(588.25 186.6) rotate(-90)" font-size="3.5" fill="#262626" textLength="13.48" lengthAdjust="spacingAndGlyphs" text-anchor="end">60%/60%</text>
<line x1="587.05" y1="114.55" x2="587.05" y2="126.38" stroke="#3c3c3c" stroke-width="0.75"/>
<line x1="587.05" y1="149.37" x2="587.05" y2="169.31" stroke="#3c3c3c" stroke-width="0.75"/>
<line x1="586.05" y1="114.55" x2="588.05" y2="114.55" stroke="#3c3c3c" stroke-width="0.75"/>
<line x1="586.05" y1="169.31" x2="588.05" y2="169.31" stroke="#3c3c3c" stroke-width="0.75"/>
<rect x="585.38" y="126.38" width="3.33" height="22.98" fill="#44a2e0" stroke="#3c3c3c" stroke-width="0.75"/>
<line x1="585.38" y1="138.55" x2="588.71" y2="138.55" stroke="#3c3c3c" stroke-width="0.75"/>
<line x1="591.21" y1="182.4" x2="591.21" y2="184" stroke="#555" stroke-width="0.7"/>
<text transform="translate(592.41 186.6) rotate(-90)" font-size="3.5" fill="#262626" textLength="11.73" lengthAdjust="spacingAndGlyphs" text-anchor="end">70%/0%</text>
<line x1="591.21" y1="113.54" x2="591.21" y2="136.86" stroke="#3c3c3c" stroke-width="0.75"/>
<line x1="591.21" y1="154.1" x2="591.21" y2="160.35" stroke="#3c3c3c" stroke-width="0.75"/>
<line x1="590.21" y1="113.54" x2="592.21" y2="113.54" stroke="#3c3c3c" stroke-width="0.75"/>
<line x1="590.21" y1="160.35" x2="592.21" y2="160.35" stroke="#3c3c3c" stroke-width="0.75"/>
<rect x="589.55" y="136.86" width="3.33" height="17.24" fill="#6c94d8" stroke="#3c3c3c" stroke-width="0.75"/>
<line x1="589.55" y1="145.48" x2="592.88" y2="145.48" stroke="#3c3c3c" stroke-width="0.75"/>
<line x1="595.38" y1="182.4" x2="595.38" y2="184" stroke="#555" stroke-width="0.7"/>
<text transform="translate(596.58 186.6) rotate(-90)" font-size="3.5" fill="#262626" textLength="13.48" lengthAdjust="spacingAndGlyphs" text-anchor="end">70%/30%</text>
<line x1="595.38" y1="147.34" x2="595.38" y2="147.34" stroke="#3c3c3c" stroke-width="0.75"/>
<line x1="595.38" y1="155.96" x2="595.38" y2="168.46" stroke="#3c3c3c" stroke-width="0.75"/>
<line x1="594.38" y1="147.34" x2="596.37" y2="147.34" stroke="#3c3c3c" stroke-width="0.75"/>
<line x1="594.38" y1="168.46" x2="596.37" y2="168.46" stroke="#3c3c3c" stroke-width="0.75"/>
<rect x="593.71" y="147.34" width="3.33" height="8.62" fill="#9c90d8" stroke="#3c3c3c" stroke-width="0.75"/>
<line x1="593.71" y1="150.38" x2="597.04" y2="150.38" stroke="#3c3c3c" stroke-width="0.75"/>
<path d="M595.38 113.16L596.55 115.06L595.38 116.96L594.2 115.06Z" fill="#262626"/>
<line x1="599.54" y1="182.4" x2="599.54" y2="184" stroke="#555" stroke-width="0.7"/>
<text transform="translate(600.74 186.6) rotate(-90)" font-size="3.5" fill="#262626" textLength="13.48" lengthAdjust="spacingAndGlyphs" text-anchor="end">70%/60%</text>
<line x1="599.54" y1="156.47" x2="599.54" y2="161.03" stroke="#3c3c3c" stroke-width="0.75"/>
<line x1="599.54" y1="168.3" x2="599.54" y2="175.22" stroke="#3c3c3c" stroke-width="0.75"/>
<line x1="598.54" y1="156.47" x2="600.54" y2="156.47" stroke="#3c3c3c" stroke-width="0.75"/>
<line x1="598.54" y1="175.22" x2="600.54" y2="175.22" stroke="#3c3c3c" stroke-width="0.75"/>
<rect x="597.87" y="161.03" width="3.33" height="7.27" fill="#b08ed8" stroke="#3c3c3c" stroke-width="0.75"/>
<line x1="597.87" y1="164.75" x2="601.2" y2="164.75" stroke="#3c3c3c" stroke-width="0.75"/>
<line x1="603.7" y1="182.4" x2="603.7" y2="184" stroke="#555" stroke-width="0.7"/>
<text transform="translate(604.9 186.6) rotate(-90)" font-size="3.5" fill="#262626" textLength="11.73" lengthAdjust="spacingAndGlyphs" text-anchor="end">80%/0%</text>
<line x1="603.7" y1="141.09" x2="603.7" y2="153.42" stroke="#3c3c3c" stroke-width="0.75"/>
<line x1="603.7" y1="164.75" x2="603.7" y2="171.34" stroke="#3c3c3c" stroke-width="0.75"/>
<line x1="602.7" y1="141.09" x2="604.7" y2="141.09" stroke="#3c3c3c" stroke-width="0.75"/>
<line x1="602.7" y1="171.34" x2="604.7" y2="171.34" stroke="#3c3c3c" stroke-width="0.75"/>
<rect x="602.04" y="153.42" width="3.33" height="11.32" fill="#c08ad4" stroke="#3c3c3c" stroke-width="0.75"/>
<line x1="602.04" y1="157.31" x2="605.37" y2="157.31" stroke="#3c3c3c" stroke-width="0.75"/>
<line x1="607.87" y1="182.4" x2="607.87" y2="184" stroke="#555" stroke-width="0.7"/>
<text transform="translate(609.07 186.6) rotate(-90)" font-size="3.5" fill="#262626" textLength="13.48" lengthAdjust="spacingAndGlyphs" text-anchor="end">80%/30%</text>
<line x1="607.87" y1="149.2" x2="607.87" y2="156.47" stroke="#3c3c3c" stroke-width="0.75"/>
<line x1="607.87" y1="167.45" x2="607.87" y2="172.52" stroke="#3c3c3c" stroke-width="0.75"/>
<line x1="606.87" y1="149.2" x2="608.86" y2="149.2" stroke="#3c3c3c" stroke-width="0.75"/>
<line x1="606.87" y1="172.52" x2="608.86" y2="172.52" stroke="#3c3c3c" stroke-width="0.75"/>
<rect x="606.2" y="156.47" width="3.33" height="10.99" fill="#d080cc" stroke="#3c3c3c" stroke-width="0.75"/>
<line x1="606.2" y1="162.38" x2="609.53" y2="162.38" stroke="#3c3c3c" stroke-width="0.75"/>
<line x1="612.03" y1="182.4" x2="612.03" y2="184" stroke="#555" stroke-width="0.7"/>
<text transform="translate(613.23 186.6) rotate(-90)" font-size="3.5" fill="#262626" textLength="13.48" lengthAdjust="spacingAndGlyphs" text-anchor="end">80%/60%</text>
<line x1="612.03" y1="168.3" x2="612.03" y2="168.3" stroke="#3c3c3c" stroke-width="0.75"/>
<line x1="612.03" y1="171.34" x2="612.03" y2="174.55" stroke="#3c3c3c" stroke-width="0.75"/>
<line x1="611.03" y1="168.3" x2="613.03" y2="168.3" stroke="#3c3c3c" stroke-width="0.75"/>
<line x1="611.03" y1="174.55" x2="613.03" y2="174.55" stroke="#3c3c3c" stroke-width="0.75"/>
<rect x="610.36" y="168.3" width="3.33" height="3.04" fill="#dc78bc" stroke="#3c3c3c" stroke-width="0.75"/>
<line x1="610.36" y1="169.65" x2="613.69" y2="169.65" stroke="#3c3c3c" stroke-width="0.75"/>
<path d="M612.03 149.66L613.21 151.56L612.03 153.46L610.85 151.56Z" fill="#262626"/>
<line x1="616.19" y1="182.4" x2="616.19" y2="184" stroke="#555" stroke-width="0.7"/>
<text transform="translate(617.39 186.6) rotate(-90)" font-size="3.5" fill="#262626" textLength="11.73" lengthAdjust="spacingAndGlyphs" text-anchor="end">90%/0%</text>
<line x1="616.19" y1="169.65" x2="616.19" y2="169.65" stroke="#3c3c3c" stroke-width="0.75"/>
<line x1="616.19" y1="173.53" x2="616.19" y2="173.53" stroke="#3c3c3c" stroke-width="0.75"/>
<line x1="615.19" y1="169.65" x2="617.19" y2="169.65" stroke="#3c3c3c" stroke-width="0.75"/>
<line x1="615.19" y1="173.53" x2="617.19" y2="173.53" stroke="#3c3c3c" stroke-width="0.75"/>
<rect x="614.53" y="169.65" width="3.33" height="3.89" fill="#e072ac" stroke="#3c3c3c" stroke-width="0.75"/>
<line x1="614.53" y1="171.68" x2="617.86" y2="171.68" stroke="#3c3c3c" stroke-width="0.75"/>
<path d="M616.19 141.21L617.37 143.11L616.19 145.01L615.01 143.11Z" fill="#262626"/>
<line x1="620.36" y1="182.4" x2="620.36" y2="184" stroke="#555" stroke-width="0.7"/>
<text transform="translate(621.56 186.6) rotate(-90)" font-size="3.5" fill="#262626" textLength="13.48" lengthAdjust="spacingAndGlyphs" text-anchor="end">90%/30%</text>
<line x1="620.36" y1="169.31" x2="620.36" y2="169.31" stroke="#3c3c3c" stroke-width="0.75"/>
<line x1="620.36" y1="173.53" x2="620.36" y2="175.56" stroke="#3c3c3c" stroke-width="0.75"/>
<line x1="619.36" y1="169.31" x2="621.35" y2="169.31" stroke="#3c3c3c" stroke-width="0.75"/>
<line x1="619.36" y1="175.56" x2="621.35" y2="175.56" stroke="#3c3c3c" stroke-width="0.75"/>
<rect x="618.69" y="169.31" width="3.33" height="4.22" fill="#e0709c" stroke="#3c3c3c" stroke-width="0.75"/>
<line x1="618.69" y1="171.68" x2="622.02" y2="171.68" stroke="#3c3c3c" stroke-width="0.75"/>
<path d="M620.36 143.24L621.53 145.14L620.36 147.04L619.18 145.14Z" fill="#262626"/>
<line x1="624.52" y1="182.4" x2="624.52" y2="184" stroke="#555" stroke-width="0.7"/>
<text transform="translate(625.72 186.6) rotate(-90)" font-size="3.5" fill="#262626" textLength="13.48" lengthAdjust="spacingAndGlyphs" text-anchor="end">90%/60%</text>
<line x1="624.52" y1="172.18" x2="624.52" y2="172.18" stroke="#3c3c3c" stroke-width="0.75"/>
<line x1="624.52" y1="175.22" x2="624.52" y2="175.22" stroke="#3c3c3c" stroke-width="0.75"/>
<line x1="623.52" y1="172.18" x2="625.52" y2="172.18" stroke="#3c3c3c" stroke-width="0.75"/>
<line x1="623.52" y1="175.22" x2="625.52" y2="175.22" stroke="#3c3c3c" stroke-width="0.75"/>
<rect x="622.85" y="172.18" width="3.33" height="3.04" fill="#e06a8a" stroke="#3c3c3c" stroke-width="0.75"/>
<line x1="622.85" y1="173.53" x2="626.18" y2="173.53" stroke="#3c3c3c" stroke-width="0.75"/>
<path d="M624.52 151.69L625.7 153.59L624.52 155.49L623.34 153.59Z" fill="#262626"/>
<text transform="translate(331 113.3) rotate(-90)" font-size="8.2" fill="#333333" textLength="113.4" lengthAdjust="spacingAndGlyphs" text-anchor="middle">Number of reaction patterns</text>
<text x="629.6" y="190.5" font-size="4.7" fill="#3a3a3a" textLength="49.4" lengthAdjust="spacingAndGlyphs">Proteomics dropout (%)</text>
<text x="629.6" y="200.4" font-size="4.7" fill="#3a3a3a">Metabolomics dropout (%)</text>
<text x="82.8" y="247.9" font-size="8.4" fill="#333333" textLength="102.8" lengthAdjust="spacingAndGlyphs" text-anchor="middle">‘Average’ reaction pattern</text>
<text x="82.8" y="257.6" font-size="8.4" fill="#333333" textLength="102.2" lengthAdjust="spacingAndGlyphs" text-anchor="middle">without reaction collapse</text>
<rect x="34.2" y="267.3" width="25.35" height="14" fill="#6c0014"/>
<rect x="58.55" y="267.3" width="25.35" height="14" fill="#6c0014"/>
<rect x="82.9" y="267.3" width="25.35" height="14" fill="#6c0014"/>
<rect x="107.25" y="267.3" width="24.35" height="14" fill="#6c0014"/>
<rect x="34.2" y="280.3" width="25.35" height="14" fill="#6c0014"/>
<rect x="58.55" y="280.3" width="25.35" height="14" fill="#b2182a"/>
<rect x="82.9" y="280.3" width="25.35" height="14" fill="#6c0014"/>
<rect x="107.25" y="280.3" width="24.35" height="14" fill="#ea2632"/>
<rect x="34.2" y="293.3" width="25.35" height="14" fill="#ec6a52"/>
<rect x="58.55" y="293.3" width="25.35" height="14" fill="#b2182a"/>
<rect x="82.9" y="293.3" width="25.35" height="14" fill="#ec6a52"/>
<rect x="107.25" y="293.3" width="24.35" height="14" fill="#ea2632"/>
<rect x="34.2" y="306.3" width="25.35" height="14" fill="#f5cab8"/>
<rect x="58.55" y="306.3" width="25.35" height="14" fill="#ec6a52"/>
<rect x="82.9" y="306.3" width="25.35" height="14" fill="#ec6a52"/>
<rect x="107.25" y="306.3" width="24.35" height="14" fill="#ed967c"/>
<rect x="34.2" y="319.3" width="25.35" height="14" fill="#ea2632"/>
<rect x="58.55" y="319.3" width="25.35" height="14" fill="#f5cab8"/>
<rect x="82.9" y="319.3" width="25.35" height="14" fill="#ec6a52"/>
<rect x="107.25" y="319.3" width="24.35" height="14" fill="#ea2632"/>
<rect x="34.2" y="332.3" width="25.35" height="14" fill="#f5cab8"/>
<rect x="58.55" y="332.3" width="25.35" height="14" fill="#f5cab8"/>
<rect x="82.9" y="332.3" width="25.35" height="14" fill="#f9f0eb"/>
<rect x="107.25" y="332.3" width="24.35" height="14" fill="#ed967c"/>
<rect x="34.2" y="345.3" width="25.35" height="14" fill="#f5cab8"/>
<rect x="58.55" y="345.3" width="25.35" height="14" fill="#f9f0eb"/>
<rect x="82.9" y="345.3" width="25.35" height="14" fill="#ed967c"/>
<rect x="107.25" y="345.3" width="24.35" height="14" fill="#f9f0eb"/>
<rect x="34.2" y="358.3" width="25.35" height="14" fill="#ed967c"/>
<rect x="58.55" y="358.3" width="25.35" height="14" fill="#f5cab8"/>
<rect x="82.9" y="358.3" width="25.35" height="14" fill="#f9f0eb"/>
<rect x="107.25" y="358.3" width="24.35" height="14" fill="#f9f0eb"/>
<rect x="34.2" y="371.3" width="25.35" height="14" fill="#f5cab8"/>
<rect x="58.55" y="371.3" width="25.35" height="14" fill="#f9f0eb"/>
<rect x="82.9" y="371.3" width="25.35" height="14" fill="#f5cab8"/>
<rect x="107.25" y="371.3" width="24.35" height="14" fill="#f9f0eb"/>
<rect x="34.2" y="384.3" width="25.35" height="13" fill="#f9f0eb"/>
<rect x="58.55" y="384.3" width="25.35" height="13" fill="#f9f0eb"/>
<rect x="82.9" y="384.3" width="25.35" height="13" fill="#f9f0eb"/>
<rect x="107.25" y="384.3" width="24.35" height="13" fill="#f9f0eb"/>
<text x="46.38" y="276.15" font-size="7" fill="#ffffff" textLength="13.8" lengthAdjust="spacingAndGlyphs" text-anchor="middle">1.00</text>
<text x="70.72" y="276.15" font-size="7" fill="#ffffff" textLength="13.8" lengthAdjust="spacingAndGlyphs" text-anchor="middle">1.00</text>
<text x="95.08" y="276.15" font-size="7" fill="#ffffff" textLength="13.8" lengthAdjust="spacingAndGlyphs" text-anchor="middle">1.00</text>
<text x="119.42" y="276.15" font-size="7" fill="#ffffff" textLength="13.8" lengthAdjust="spacingAndGlyphs" text-anchor="middle">1.00</text>
<line x1="32.6" y1="273.8" x2="34.2" y2="273.8" stroke="#9a9a9a" stroke-width="0.6"/>
<text x="29.2" y="276.45" font-size="7.4" fill="#333333" text-anchor="end">0%</text>
<text x="46.38" y="289.15" font-size="7" fill="#ffffff" textLength="13.8" lengthAdjust="spacingAndGlyphs" text-anchor="middle">1.00</text>
<text x="70.72" y="289.15" font-size="7" fill="#ffffff" textLength="13.8" lengthAdjust="spacingAndGlyphs" text-anchor="middle">0.83</text>
<text x="95.08" y="289.15" font-size="7" fill="#ffffff" textLength="13.8" lengthAdjust="spacingAndGlyphs" text-anchor="middle">1.00</text>
<text x="119.42" y="289.15" font-size="7" fill="#ffffff" textLength="13.8" lengthAdjust="spacingAndGlyphs" text-anchor="middle">0.67</text>
<line x1="32.6" y1="286.8" x2="34.2" y2="286.8" stroke="#9a9a9a" stroke-width="0.6"/>
<text x="29.2" y="289.45" font-size="7.4" fill="#333333" text-anchor="end">10%</text>
<text x="46.38" y="302.15" font-size="7" fill="#ffffff" textLength="13.8" lengthAdjust="spacingAndGlyphs" text-anchor="middle">0.50</text>
<text x="70.72" y="302.15" font-size="7" fill="#ffffff" textLength="13.8" lengthAdjust="spacingAndGlyphs" text-anchor="middle">0.83</text>
<text x="95.08" y="302.15" font-size="7" fill="#ffffff" textLength="13.8" lengthAdjust="spacingAndGlyphs" text-anchor="middle">0.50</text>
<text x="119.42" y="302.15" font-size="7" fill="#ffffff" textLength="13.8" lengthAdjust="spacingAndGlyphs" text-anchor="middle">0.67</text>
<line x1="32.6" y1="299.8" x2="34.2" y2="299.8" stroke="#9a9a9a" stroke-width="0.6"/>
<text x="29.2" y="302.45" font-size="7.4" fill="#333333" text-anchor="end">20%</text>
<text x="46.38" y="315.15" font-size="7" fill="#2b2b2b" textLength="13.8" lengthAdjust="spacingAndGlyphs" text-anchor="middle">0.17</text>
<text x="70.72" y="315.15" font-size="7" fill="#ffffff" textLength="13.8" lengthAdjust="spacingAndGlyphs" text-anchor="middle">0.50</text>
<text x="95.08" y="315.15" font-size="7" fill="#ffffff" textLength="13.8" lengthAdjust="spacingAndGlyphs" text-anchor="middle">0.50</text>
<text x="119.42" y="315.15" font-size="7" fill="#2b2b2b" textLength="13.8" lengthAdjust="spacingAndGlyphs" text-anchor="middle">0.33</text>
<line x1="32.6" y1="312.8" x2="34.2" y2="312.8" stroke="#9a9a9a" stroke-width="0.6"/>
<text x="29.2" y="315.45" font-size="7.4" fill="#333333" text-anchor="end">30%</text>
<text x="46.38" y="328.15" font-size="7" fill="#ffffff" textLength="13.8" lengthAdjust="spacingAndGlyphs" text-anchor="middle">0.67</text>
<text x="70.72" y="328.15" font-size="7" fill="#2b2b2b" textLength="13.8" lengthAdjust="spacingAndGlyphs" text-anchor="middle">0.17</text>
<text x="95.08" y="328.15" font-size="7" fill="#ffffff" textLength="13.8" lengthAdjust="spacingAndGlyphs" text-anchor="middle">0.50</text>
<text x="119.42" y="328.15" font-size="7" fill="#ffffff" textLength="13.8" lengthAdjust="spacingAndGlyphs" text-anchor="middle">0.67</text>
<line x1="32.6" y1="325.8" x2="34.2" y2="325.8" stroke="#9a9a9a" stroke-width="0.6"/>
<text x="29.2" y="328.45" font-size="7.4" fill="#333333" text-anchor="end">40%</text>
<text x="46.38" y="341.15" font-size="7" fill="#2b2b2b" textLength="13.8" lengthAdjust="spacingAndGlyphs" text-anchor="middle">0.17</text>
<text x="70.72" y="341.15" font-size="7" fill="#2b2b2b" textLength="13.8" lengthAdjust="spacingAndGlyphs" text-anchor="middle">0.17</text>
<text x="95.08" y="341.15" font-size="7" fill="#2b2b2b" textLength="13.8" lengthAdjust="spacingAndGlyphs" text-anchor="middle">0.00</text>
<text x="119.42" y="341.15" font-size="7" fill="#2b2b2b" textLength="13.8" lengthAdjust="spacingAndGlyphs" text-anchor="middle">0.33</text>
<line x1="32.6" y1="338.8" x2="34.2" y2="338.8" stroke="#9a9a9a" stroke-width="0.6"/>
<text x="29.2" y="341.45" font-size="7.4" fill="#333333" text-anchor="end">50%</text>
<text x="46.38" y="354.15" font-size="7" fill="#2b2b2b" textLength="13.8" lengthAdjust="spacingAndGlyphs" text-anchor="middle">0.17</text>
<text x="70.72" y="354.15" font-size="7" fill="#2b2b2b" textLength="13.8" lengthAdjust="spacingAndGlyphs" text-anchor="middle">0.00</text>
<text x="95.08" y="354.15" font-size="7" fill="#2b2b2b" textLength="13.8" lengthAdjust="spacingAndGlyphs" text-anchor="middle">0.33</text>
<text x="119.42" y="354.15" font-size="7" fill="#2b2b2b" textLength="13.8" lengthAdjust="spacingAndGlyphs" text-anchor="middle">0.00</text>
<line x1="32.6" y1="351.8" x2="34.2" y2="351.8" stroke="#9a9a9a" stroke-width="0.6"/>
<text x="29.2" y="354.45" font-size="7.4" fill="#333333" text-anchor="end">60%</text>
<text x="46.38" y="367.15" font-size="7" fill="#2b2b2b" textLength="13.8" lengthAdjust="spacingAndGlyphs" text-anchor="middle">0.33</text>
<text x="70.72" y="367.15" font-size="7" fill="#2b2b2b" textLength="13.8" lengthAdjust="spacingAndGlyphs" text-anchor="middle">0.17</text>
<text x="95.08" y="367.15" font-size="7" fill="#2b2b2b" textLength="13.8" lengthAdjust="spacingAndGlyphs" text-anchor="middle">0.00</text>
<text x="119.42" y="367.15" font-size="7" fill="#2b2b2b" textLength="13.8" lengthAdjust="spacingAndGlyphs" text-anchor="middle">0.00</text>
<line x1="32.6" y1="364.8" x2="34.2" y2="364.8" stroke="#9a9a9a" stroke-width="0.6"/>
<text x="29.2" y="367.45" font-size="7.4" fill="#333333" text-anchor="end">70%</text>
<text x="46.38" y="380.15" font-size="7" fill="#2b2b2b" textLength="13.8" lengthAdjust="spacingAndGlyphs" text-anchor="middle">0.17</text>
<text x="70.72" y="380.15" font-size="7" fill="#2b2b2b" textLength="13.8" lengthAdjust="spacingAndGlyphs" text-anchor="middle">0.00</text>
<text x="95.08" y="380.15" font-size="7" fill="#2b2b2b" textLength="13.8" lengthAdjust="spacingAndGlyphs" text-anchor="middle">0.17</text>
<text x="119.42" y="380.15" font-size="7" fill="#2b2b2b" textLength="13.8" lengthAdjust="spacingAndGlyphs" text-anchor="middle">0.00</text>
<line x1="32.6" y1="377.8" x2="34.2" y2="377.8" stroke="#9a9a9a" stroke-width="0.6"/>
<text x="29.2" y="380.45" font-size="7.4" fill="#333333" text-anchor="end">80%</text>
<text x="46.38" y="393.15" font-size="7" fill="#2b2b2b" textLength="13.8" lengthAdjust="spacingAndGlyphs" text-anchor="middle">0.00</text>
<text x="70.72" y="393.15" font-size="7" fill="#2b2b2b" textLength="13.8" lengthAdjust="spacingAndGlyphs" text-anchor="middle">0.00</text>
<text x="95.08" y="393.15" font-size="7" fill="#2b2b2b" textLength="13.8" lengthAdjust="spacingAndGlyphs" text-anchor="middle">0.00</text>
<text x="119.42" y="393.15" font-size="7" fill="#2b2b2b" textLength="13.8" lengthAdjust="spacingAndGlyphs" text-anchor="middle">0.00</text>
<line x1="32.6" y1="390.8" x2="34.2" y2="390.8" stroke="#9a9a9a" stroke-width="0.6"/>
<text x="29.2" y="393.45" font-size="7.4" fill="#333333" text-anchor="end">90%</text>
<line x1="46.38" y1="397.3" x2="46.38" y2="398.9" stroke="#9a9a9a" stroke-width="0.6"/>
<text transform="translate(48.77 403.6) rotate(-90)" font-size="8.8" fill="#333333" textLength="18" lengthAdjust="spacingAndGlyphs" text-anchor="end">SMS</text>
<line x1="70.72" y1="397.3" x2="70.72" y2="398.9" stroke="#9a9a9a" stroke-width="0.6"/>
<text transform="translate(73.12 403.6) rotate(-90)" font-size="8.8" fill="#333333" textLength="31" lengthAdjust="spacingAndGlyphs" text-anchor="end">GLYCTK</text>
<line x1="95.08" y1="397.3" x2="95.08" y2="398.9" stroke="#9a9a9a" stroke-width="0.6"/>
<text transform="translate(97.48 403.6) rotate(-90)" font-size="8.8" fill="#333333" textLength="26" lengthAdjust="spacingAndGlyphs" text-anchor="end">UPP1,2</text>
<line x1="119.42" y1="397.3" x2="119.42" y2="398.9" stroke="#9a9a9a" stroke-width="0.6"/>
<text transform="translate(121.83 403.6) rotate(-90)" font-size="8.8" fill="#333333" textLength="17.8" lengthAdjust="spacingAndGlyphs" text-anchor="end">XDH</text>
<defs><linearGradient id="g137" x1="0" y1="0" x2="0" y2="1"><stop offset="0" stop-color="rgb(108,0,20)"/><stop offset="0.17" stop-color="rgb(178,24,42)"/><stop offset="0.33" stop-color="rgb(234,38,50)"/><stop offset="0.5" stop-color="rgb(236,106,82)"/><stop offset="0.67" stop-color="rgb(237,150,124)"/><stop offset="0.83" stop-color="rgb(245,202,184)"/><stop offset="1" stop-color="rgb(249,240,235)"/></linearGradient></defs>
<rect x="137.7" y="267.3" width="6.8" height="130" fill="url(#g137)"/>
<line x1="144.5" y1="267.3" x2="146.1" y2="267.3" stroke="#777" stroke-width="0.6"/>
<text x="148.3" y="270" font-size="7.6" fill="#333333">1.0</text>
<line x1="144.5" y1="293.3" x2="146.1" y2="293.3" stroke="#777" stroke-width="0.6"/>
<text x="148.3" y="296" font-size="7.6" fill="#333333">0.8</text>
<line x1="144.5" y1="319.3" x2="146.1" y2="319.3" stroke="#777" stroke-width="0.6"/>
<text x="148.3" y="322" font-size="7.6" fill="#333333">0.6</text>
<line x1="144.5" y1="345.3" x2="146.1" y2="345.3" stroke="#777" stroke-width="0.6"/>
<text x="148.3" y="348" font-size="7.6" fill="#333333">0.4</text>
<line x1="144.5" y1="371.3" x2="146.1" y2="371.3" stroke="#777" stroke-width="0.6"/>
<text x="148.3" y="374" font-size="7.6" fill="#333333">0.2</text>
<line x1="144.5" y1="397.3" x2="146.1" y2="397.3" stroke="#777" stroke-width="0.6"/>
<text x="148.3" y="400" font-size="7.6" fill="#333333">0</text>
<text x="243.15" y="247.9" font-size="8.4" fill="#333333" textLength="102.1" lengthAdjust="spacingAndGlyphs" text-anchor="middle">‘Average’ reaction pattern</text>
<text x="243.15" y="257.6" font-size="8.4" fill="#333333" textLength="88.1" lengthAdjust="spacingAndGlyphs" text-anchor="middle">with reaction collapse</text>
<rect x="195.2" y="267.3" width="25.33" height="14" fill="#6c0014"/>
<rect x="219.52" y="267.3" width="25.33" height="14" fill="#6c0014"/>
<rect x="243.85" y="267.3" width="25.33" height="14" fill="#6c0014"/>
<rect x="268.18" y="267.3" width="24.33" height="14" fill="#6c0014"/>
<rect x="195.2" y="280.3" width="25.33" height="14" fill="#b2182a"/>
<rect x="219.52" y="280.3" width="25.33" height="14" fill="#6c0014"/>
<rect x="243.85" y="280.3" width="25.33" height="14" fill="#6c0014"/>
<rect x="268.18" y="280.3" width="24.33" height="14" fill="#ea2632"/>
<rect x="195.2" y="293.3" width="25.33" height="14" fill="#ec6a52"/>
<rect x="219.52" y="293.3" width="25.33" height="14" fill="#b2182a"/>
<rect x="243.85" y="293.3" width="25.33" height="14" fill="#ec6a52"/>
<rect x="268.18" y="293.3" width="24.33" height="14" fill="#ea2632"/>
<rect x="195.2" y="306.3" width="25.33" height="14" fill="#ed967c"/>
<rect x="219.52" y="306.3" width="25.33" height="14" fill="#ea2632"/>
<rect x="243.85" y="306.3" width="25.33" height="14" fill="#ec6a52"/>
<rect x="268.18" y="306.3" width="24.33" height="14" fill="#ed967c"/>
<rect x="195.2" y="319.3" width="25.33" height="14" fill="#f5cab8"/>
<rect x="219.52" y="319.3" width="25.33" height="14" fill="#ed967c"/>
<rect x="243.85" y="319.3" width="25.33" height="14" fill="#ed967c"/>
<rect x="268.18" y="319.3" width="24.33" height="14" fill="#ea2632"/>
<rect x="195.2" y="332.3" width="25.33" height="14" fill="#ed967c"/>
<rect x="219.52" y="332.3" width="25.33" height="14" fill="#ed967c"/>
<rect x="243.85" y="332.3" width="25.33" height="14" fill="#f5cab8"/>
<rect x="268.18" y="332.3" width="24.33" height="14" fill="#ea2632"/>
<rect x="195.2" y="345.3" width="25.33" height="14" fill="#f5cab8"/>
<rect x="219.52" y="345.3" width="25.33" height="14" fill="#f5cab8"/>
<rect x="243.85" y="345.3" width="25.33" height="14" fill="#ed967c"/>
<rect x="268.18" y="345.3" width="24.33" height="14" fill="#f9f0eb"/>
<rect x="195.2" y="358.3" width="25.33" height="14" fill="#ed967c"/>
<rect x="219.52" y="358.3" width="25.33" height="14" fill="#ed967c"/>
<rect x="243.85" y="358.3" width="25.33" height="14" fill="#f9f0eb"/>
<rect x="268.18" y="358.3" width="24.33" height="14" fill="#f5cab8"/>
<rect x="195.2" y="371.3" width="25.33" height="14" fill="#f9f0eb"/>
<rect x="219.52" y="371.3" width="25.33" height="14" fill="#f9f0eb"/>
<rect x="243.85" y="371.3" width="25.33" height="14" fill="#f5cab8"/>
<rect x="268.18" y="371.3" width="24.33" height="14" fill="#f9f0eb"/>
<rect x="195.2" y="384.3" width="25.33" height="13" fill="#f9f0eb"/>
<rect x="219.52" y="384.3" width="25.33" height="13" fill="#f9f0eb"/>
<rect x="243.85" y="384.3" width="25.33" height="13" fill="#f9f0eb"/>
<rect x="268.18" y="384.3" width="24.33" height="13" fill="#f9f0eb"/>
<text x="207.36" y="276.15" font-size="7" fill="#ffffff" textLength="13.8" lengthAdjust="spacingAndGlyphs" text-anchor="middle">1.00</text>
<text x="231.69" y="276.15" font-size="7" fill="#ffffff" textLength="13.8" lengthAdjust="spacingAndGlyphs" text-anchor="middle">1.00</text>
<text x="256.01" y="276.15" font-size="7" fill="#ffffff" textLength="13.8" lengthAdjust="spacingAndGlyphs" text-anchor="middle">1.00</text>
<text x="280.34" y="276.15" font-size="7" fill="#ffffff" textLength="13.8" lengthAdjust="spacingAndGlyphs" text-anchor="middle">1.00</text>
<line x1="193.6" y1="273.8" x2="195.2" y2="273.8" stroke="#9a9a9a" stroke-width="0.6"/>
<text x="190.2" y="276.45" font-size="7.4" fill="#333333" text-anchor="end">0%</text>
<text x="207.36" y="289.15" font-size="7" fill="#ffffff" textLength="13.8" lengthAdjust="spacingAndGlyphs" text-anchor="middle">0.83</text>
<text x="231.69" y="289.15" font-size="7" fill="#ffffff" textLength="13.8" lengthAdjust="spacingAndGlyphs" text-anchor="middle">1.00</text>
<text x="256.01" y="289.15" font-size="7" fill="#ffffff" textLength="13.8" lengthAdjust="spacingAndGlyphs" text-anchor="middle">1.00</text>
<text x="280.34" y="289.15" font-size="7" fill="#ffffff" textLength="13.8" lengthAdjust="spacingAndGlyphs" text-anchor="middle">0.67</text>
<line x1="193.6" y1="286.8" x2="195.2" y2="286.8" stroke="#9a9a9a" stroke-width="0.6"/>
<text x="190.2" y="289.45" font-size="7.4" fill="#333333" text-anchor="end">10%</text>
<text x="207.36" y="302.15" font-size="7" fill="#ffffff" textLength="13.8" lengthAdjust="spacingAndGlyphs" text-anchor="middle">0.50</text>
<text x="231.69" y="302.15" font-size="7" fill="#ffffff" textLength="13.8" lengthAdjust="spacingAndGlyphs" text-anchor="middle">0.83</text>
<text x="256.01" y="302.15" font-size="7" fill="#ffffff" textLength="13.8" lengthAdjust="spacingAndGlyphs" text-anchor="middle">0.50</text>
<text x="280.34" y="302.15" font-size="7" fill="#ffffff" textLength="13.8" lengthAdjust="spacingAndGlyphs" text-anchor="middle">0.67</text>
<line x1="193.6" y1="299.8" x2="195.2" y2="299.8" stroke="#9a9a9a" stroke-width="0.6"/>
<text x="190.2" y="302.45" font-size="7.4" fill="#333333" text-anchor="end">20%</text>
<text x="207.36" y="315.15" font-size="7" fill="#2b2b2b" textLength="13.8" lengthAdjust="spacingAndGlyphs" text-anchor="middle">0.33</text>
<text x="231.69" y="315.15" font-size="7" fill="#ffffff" textLength="13.8" lengthAdjust="spacingAndGlyphs" text-anchor="middle">0.67</text>
<text x="256.01" y="315.15" font-size="7" fill="#ffffff" textLength="13.8" lengthAdjust="spacingAndGlyphs" text-anchor="middle">0.50</text>
<text x="280.34" y="315.15" font-size="7" fill="#2b2b2b" textLength="13.8" lengthAdjust="spacingAndGlyphs" text-anchor="middle">0.33</text>
<line x1="193.6" y1="312.8" x2="195.2" y2="312.8" stroke="#9a9a9a" stroke-width="0.6"/>
<text x="190.2" y="315.45" font-size="7.4" fill="#333333" text-anchor="end">30%</text>
<text x="207.36" y="328.15" font-size="7" fill="#2b2b2b" textLength="13.8" lengthAdjust="spacingAndGlyphs" text-anchor="middle">0.17</text>
<text x="231.69" y="328.15" font-size="7" fill="#2b2b2b" textLength="13.8" lengthAdjust="spacingAndGlyphs" text-anchor="middle">0.33</text>
<text x="256.01" y="328.15" font-size="7" fill="#2b2b2b" textLength="13.8" lengthAdjust="spacingAndGlyphs" text-anchor="middle">0.33</text>
<text x="280.34" y="328.15" font-size="7" fill="#ffffff" textLength="13.8" lengthAdjust="spacingAndGlyphs" text-anchor="middle">0.67</text>
<line x1="193.6" y1="325.8" x2="195.2" y2="325.8" stroke="#9a9a9a" stroke-width="0.6"/>
<text x="190.2" y="328.45" font-size="7.4" fill="#333333" text-anchor="end">40%</text>
<text x="207.36" y="341.15" font-size="7" fill="#2b2b2b" textLength="13.8" lengthAdjust="spacingAndGlyphs" text-anchor="middle">0.33</text>
<text x="231.69" y="341.15" font-size="7" fill="#2b2b2b" textLength="13.8" lengthAdjust="spacingAndGlyphs" text-anchor="middle">0.33</text>
<text x="256.01" y="341.15" font-size="7" fill="#2b2b2b" textLength="13.8" lengthAdjust="spacingAndGlyphs" text-anchor="middle">0.17</text>
<text x="280.34" y="341.15" font-size="7" fill="#ffffff" textLength="13.8" lengthAdjust="spacingAndGlyphs" text-anchor="middle">0.67</text>
<line x1="193.6" y1="338.8" x2="195.2" y2="338.8" stroke="#9a9a9a" stroke-width="0.6"/>
<text x="190.2" y="341.45" font-size="7.4" fill="#333333" text-anchor="end">50%</text>
<text x="207.36" y="354.15" font-size="7" fill="#2b2b2b" textLength="13.8" lengthAdjust="spacingAndGlyphs" text-anchor="middle">0.17</text>
<text x="231.69" y="354.15" font-size="7" fill="#2b2b2b" textLength="13.8" lengthAdjust="spacingAndGlyphs" text-anchor="middle">0.17</text>
<text x="256.01" y="354.15" font-size="7" fill="#2b2b2b" textLength="13.8" lengthAdjust="spacingAndGlyphs" text-anchor="middle">0.33</text>
<text x="280.34" y="354.15" font-size="7" fill="#2b2b2b" textLength="13.8" lengthAdjust="spacingAndGlyphs" text-anchor="middle">0.00</text>
<line x1="193.6" y1="351.8" x2="195.2" y2="351.8" stroke="#9a9a9a" stroke-width="0.6"/>
<text x="190.2" y="354.45" font-size="7.4" fill="#333333" text-anchor="end">60%</text>
<text x="207.36" y="367.15" font-size="7" fill="#2b2b2b" textLength="13.8" lengthAdjust="spacingAndGlyphs" text-anchor="middle">0.33</text>
<text x="231.69" y="367.15" font-size="7" fill="#2b2b2b" textLength="13.8" lengthAdjust="spacingAndGlyphs" text-anchor="middle">0.33</text>
<text x="256.01" y="367.15" font-size="7" fill="#2b2b2b" textLength="13.8" lengthAdjust="spacingAndGlyphs" text-anchor="middle">0.00</text>
<text x="280.34" y="367.15" font-size="7" fill="#2b2b2b" textLength="13.8" lengthAdjust="spacingAndGlyphs" text-anchor="middle">0.17</text>
<line x1="193.6" y1="364.8" x2="195.2" y2="364.8" stroke="#9a9a9a" stroke-width="0.6"/>
<text x="190.2" y="367.45" font-size="7.4" fill="#333333" text-anchor="end">70%</text>
<text x="207.36" y="380.15" font-size="7" fill="#2b2b2b" textLength="13.8" lengthAdjust="spacingAndGlyphs" text-anchor="middle">0.00</text>
<text x="231.69" y="380.15" font-size="7" fill="#2b2b2b" textLength="13.8" lengthAdjust="spacingAndGlyphs" text-anchor="middle">0.00</text>
<text x="256.01" y="380.15" font-size="7" fill="#2b2b2b" textLength="13.8" lengthAdjust="spacingAndGlyphs" text-anchor="middle">0.17</text>
<text x="280.34" y="380.15" font-size="7" fill="#2b2b2b" textLength="13.8" lengthAdjust="spacingAndGlyphs" text-anchor="middle">0.00</text>
<line x1="193.6" y1="377.8" x2="195.2" y2="377.8" stroke="#9a9a9a" stroke-width="0.6"/>
<text x="190.2" y="380.45" font-size="7.4" fill="#333333" text-anchor="end">80%</text>
<text x="207.36" y="393.15" font-size="7" fill="#2b2b2b" textLength="13.8" lengthAdjust="spacingAndGlyphs" text-anchor="middle">0.00</text>
<text x="231.69" y="393.15" font-size="7" fill="#2b2b2b" textLength="13.8" lengthAdjust="spacingAndGlyphs" text-anchor="middle">0.00</text>
<text x="256.01" y="393.15" font-size="7" fill="#2b2b2b" textLength="13.8" lengthAdjust="spacingAndGlyphs" text-anchor="middle">0.00</text>
<text x="280.34" y="393.15" font-size="7" fill="#2b2b2b" textLength="13.8" lengthAdjust="spacingAndGlyphs" text-anchor="middle">0.00</text>
<line x1="193.6" y1="390.8" x2="195.2" y2="390.8" stroke="#9a9a9a" stroke-width="0.6"/>
<text x="190.2" y="393.45" font-size="7.4" fill="#333333" text-anchor="end">90%</text>
<line x1="207.36" y1="397.3" x2="207.36" y2="398.9" stroke="#9a9a9a" stroke-width="0.6"/>
<text transform="translate(209.76 403.6) rotate(-90)" font-size="8.8" fill="#333333" textLength="18" lengthAdjust="spacingAndGlyphs" text-anchor="end">SMS</text>
<line x1="231.69" y1="397.3" x2="231.69" y2="398.9" stroke="#9a9a9a" stroke-width="0.6"/>
<text transform="translate(234.09 403.6) rotate(-90)" font-size="8.8" fill="#333333" textLength="31" lengthAdjust="spacingAndGlyphs" text-anchor="end">GLYCTK</text>
<line x1="256.01" y1="397.3" x2="256.01" y2="398.9" stroke="#9a9a9a" stroke-width="0.6"/>
<text transform="translate(258.41 403.6) rotate(-90)" font-size="8.8" fill="#333333" textLength="26" lengthAdjust="spacingAndGlyphs" text-anchor="end">UPP1,2</text>
<line x1="280.34" y1="397.3" x2="280.34" y2="398.9" stroke="#9a9a9a" stroke-width="0.6"/>
<text transform="translate(282.74 403.6) rotate(-90)" font-size="8.8" fill="#333333" textLength="17.8" lengthAdjust="spacingAndGlyphs" text-anchor="end">XDH</text>
<defs><linearGradient id="g298" x1="0" y1="0" x2="0" y2="1"><stop offset="0" stop-color="rgb(108,0,20)"/><stop offset="0.17" stop-color="rgb(178,24,42)"/><stop offset="0.33" stop-color="rgb(234,38,50)"/><stop offset="0.5" stop-color="rgb(236,106,82)"/><stop offset="0.67" stop-color="rgb(237,150,124)"/><stop offset="0.83" stop-color="rgb(245,202,184)"/><stop offset="1" stop-color="rgb(249,240,235)"/></linearGradient></defs>
<rect x="298.2" y="267.3" width="6.8" height="130" fill="url(#g298)"/>
<line x1="305" y1="267.3" x2="306.6" y2="267.3" stroke="#777" stroke-width="0.6"/>
<text x="308.8" y="270" font-size="7.6" fill="#333333">1.0</text>
<line x1="305" y1="293.3" x2="306.6" y2="293.3" stroke="#777" stroke-width="0.6"/>
<text x="308.8" y="296" font-size="7.6" fill="#333333">0.8</text>
<line x1="305" y1="319.3" x2="306.6" y2="319.3" stroke="#777" stroke-width="0.6"/>
<text x="308.8" y="322" font-size="7.6" fill="#333333">0.6</text>
<line x1="305" y1="345.3" x2="306.6" y2="345.3" stroke="#777" stroke-width="0.6"/>
<text x="308.8" y="348" font-size="7.6" fill="#333333">0.4</text>
<line x1="305" y1="371.3" x2="306.6" y2="371.3" stroke="#777" stroke-width="0.6"/>
<text x="308.8" y="374" font-size="7.6" fill="#333333">0.2</text>
<line x1="305" y1="397.3" x2="306.6" y2="397.3" stroke="#777" stroke-width="0.6"/>
<text x="308.8" y="400" font-size="7.6" fill="#333333">0</text>
<text transform="translate(7.5 332.3) rotate(-90)" font-size="8.2" fill="#333333" textLength="127.6" lengthAdjust="spacingAndGlyphs" text-anchor="middle">Random metabolite dropout (%)</text>
<text transform="translate(172.1 332) rotate(-90)" font-size="8.2" fill="#333333" textLength="127.6" lengthAdjust="spacingAndGlyphs" text-anchor="middle">Random metabolite dropout (%)</text>
<text x="415.25" y="247.9" font-size="8.4" fill="#333333" textLength="104.3" lengthAdjust="spacingAndGlyphs" text-anchor="middle">‘Modifier’ reaction pattern</text>
<text x="415.4" y="257.6" font-size="8.4" fill="#333333" textLength="102.2" lengthAdjust="spacingAndGlyphs" text-anchor="middle">without reaction collapse</text>
<rect x="359" y="264.2" width="23.52" height="7.16" fill="#6c0014"/>
<rect x="381.52" y="264.2" width="23.52" height="7.16" fill="#6c0014"/>
<rect x="404.04" y="264.2" width="23.52" height="7.16" fill="#6c0014"/>
<rect x="426.56" y="264.2" width="23.52" height="7.16" fill="#6c0014"/>
<rect x="449.08" y="264.2" width="22.52" height="7.16" fill="#6c0014"/>
<rect x="359" y="270.36" width="23.52" height="7.16" fill="#ea2632"/>
<rect x="381.52" y="270.36" width="23.52" height="7.16" fill="#b2182a"/>
<rect x="404.04" y="270.36" width="23.52" height="7.16" fill="#b2182a"/>
<rect x="426.56" y="270.36" width="23.52" height="7.16" fill="#ea2632"/>
<rect x="449.08" y="270.36" width="22.52" height="7.16" fill="#ec6a52"/>
<rect x="359" y="276.52" width="23.52" height="7.16" fill="#ec6a52"/>
<rect x="381.52" y="276.52" width="23.52" height="7.16" fill="#f5cab8"/>
<rect x="404.04" y="276.52" width="23.52" height="7.16" fill="#b2182a"/>
<rect x="426.56" y="276.52" width="23.52" height="7.16" fill="#ed967c"/>
<rect x="449.08" y="276.52" width="22.52" height="7.16" fill="#b2182a"/>
<rect x="359" y="282.68" width="23.52" height="7.16" fill="#6c0014"/>
<rect x="381.52" y="282.68" width="23.52" height="7.16" fill="#6c0014"/>
<rect x="404.04" y="282.68" width="23.52" height="7.16" fill="#6c0014"/>
<rect x="426.56" y="282.68" width="23.52" height="7.16" fill="#b2182a"/>
<rect x="449.08" y="282.68" width="22.52" height="7.16" fill="#6c0014"/>
<rect x="359" y="288.84" width="23.52" height="7.16" fill="#ea2632"/>
<rect x="381.52" y="288.84" width="23.52" height="7.16" fill="#b2182a"/>
<rect x="404.04" y="288.84" width="23.52" height="7.16" fill="#b2182a"/>
<rect x="426.56" y="288.84" width="23.52" height="7.16" fill="#ec6a52"/>
<rect x="449.08" y="288.84" width="22.52" height="7.16" fill="#ec6a52"/>
<rect x="359" y="295" width="23.52" height="7.16" fill="#ec6a52"/>
<rect x="381.52" y="295" width="23.52" height="7.16" fill="#f5cab8"/>
<rect x="404.04" y="295" width="23.52" height="7.16" fill="#b2182a"/>
<rect x="426.56" y="295" width="23.52" height="7.16" fill="#ed967c"/>
<rect x="449.08" y="295" width="22.52" height="7.16" fill="#b2182a"/>
<rect x="359" y="301.16" width="23.52" height="7.16" fill="#6c0014"/>
<rect x="381.52" y="301.16" width="23.52" height="7.16" fill="#6c0014"/>
<rect x="404.04" y="301.16" width="23.52" height="7.16" fill="#6c0014"/>
<rect x="426.56" y="301.16" width="23.52" height="7.16" fill="#6c0014"/>
<rect x="449.08" y="301.16" width="22.52" height="7.16" fill="#6c0014"/>
<rect x="359" y="307.32" width="23.52" height="7.16" fill="#ea2632"/>
<rect x="381.52" y="307.32" width="23.52" height="7.16" fill="#b2182a"/>
<rect x="404.04" y="307.32" width="23.52" height="7.16" fill="#b2182a"/>
<rect x="426.56" y="307.32" width="23.52" height="7.16" fill="#ec6a52"/>
<rect x="449.08" y="307.32" width="22.52" height="7.16" fill="#ec6a52"/>
<rect x="359" y="313.48" width="23.52" height="7.16" fill="#ec6a52"/>
<rect x="381.52" y="313.48" width="23.52" height="7.16" fill="#f5cab8"/>
<rect x="404.04" y="313.48" width="23.52" height="7.16" fill="#b2182a"/>
<rect x="426.56" y="313.48" width="23.52" height="7.16" fill="#ed967c"/>
<rect x="449.08" y="313.48" width="22.52" height="7.16" fill="#b2182a"/>
<rect x="359" y="319.64" width="23.52" height="7.16" fill="#b2182a"/>
<rect x="381.52" y="319.64" width="23.52" height="7.16" fill="#6c0014"/>
<rect x="404.04" y="319.64" width="23.52" height="7.16" fill="#6c0014"/>
<rect x="426.56" y="319.64" width="23.52" height="7.16" fill="#b2182a"/>
<rect x="449.08" y="319.64" width="22.52" height="7.16" fill="#b2182a"/>
<rect x="359" y="325.8" width="23.52" height="7.16" fill="#ec6a52"/>
<rect x="381.52" y="325.8" width="23.52" height="7.16" fill="#b2182a"/>
<rect x="404.04" y="325.8" width="23.52" height="7.16" fill="#b2182a"/>
<rect x="426.56" y="325.8" width="23.52" height="7.16" fill="#ec6a52"/>
<rect x="449.08" y="325.8" width="22.52" height="7.16" fill="#ec6a52"/>
<rect x="359" y="331.96" width="23.52" height="7.16" fill="#ec6a52"/>
<rect x="381.52" y="331.96" width="23.52" height="7.16" fill="#f5cab8"/>
<rect x="404.04" y="331.96" width="23.52" height="7.16" fill="#b2182a"/>
<rect x="426.56" y="331.96" width="23.52" height="7.16" fill="#f5cab8"/>
<rect x="449.08" y="331.96" width="22.52" height="7.16" fill="#ea2632"/>
<rect x="359" y="338.12" width="23.52" height="7.16" fill="#ea2632"/>
<rect x="381.52" y="338.12" width="23.52" height="7.16" fill="#6c0014"/>
<rect x="404.04" y="338.12" width="23.52" height="7.16" fill="#b2182a"/>
<rect x="426.56" y="338.12" width="23.52" height="7.16" fill="#6c0014"/>
<rect x="449.08" y="338.12" width="22.52" height="7.16" fill="#ea2632"/>
<rect x="359" y="344.28" width="23.52" height="7.16" fill="#ec6a52"/>
<rect x="381.52" y="344.28" width="23.52" height="7.16" fill="#b2182a"/>
<rect x="404.04" y="344.28" width="23.52" height="7.16" fill="#b2182a"/>
<rect x="426.56" y="344.28" width="23.52" height="7.16" fill="#ea2632"/>
<rect x="449.08" y="344.28" width="22.52" height="7.16" fill="#f5cab8"/>
<rect x="359" y="350.44" width="23.52" height="7.16" fill="#ed967c"/>
<rect x="381.52" y="350.44" width="23.52" height="7.16" fill="#f5cab8"/>
<rect x="404.04" y="350.44" width="23.52" height="7.16" fill="#ea2632"/>
<rect x="426.56" y="350.44" width="23.52" height="7.16" fill="#ed967c"/>
<rect x="449.08" y="350.44" width="22.52" height="7.16" fill="#ec6a52"/>
<rect x="359" y="356.6" width="23.52" height="7.16" fill="#ea2632"/>
<rect x="381.52" y="356.6" width="23.52" height="7.16" fill="#6c0014"/>
<rect x="404.04" y="356.6" width="23.52" height="7.16" fill="#b2182a"/>
<rect x="426.56" y="356.6" width="23.52" height="7.16" fill="#6c0014"/>
<rect x="449.08" y="356.6" width="22.52" height="7.16" fill="#ea2632"/>
<rect x="359" y="362.76" width="23.52" height="7.16" fill="#ed967c"/>
<rect x="381.52" y="362.76" width="23.52" height="7.16" fill="#b2182a"/>
<rect x="404.04" y="362.76" width="23.52" height="7.16" fill="#ea2632"/>
<rect x="426.56" y="362.76" width="23.52" height="7.16" fill="#ec6a52"/>
<rect x="449.08" y="362.76" width="22.52" height="7.16" fill="#ed967c"/>
<rect x="359" y="368.92" width="23.52" height="7.16" fill="#ed967c"/>
<rect x="381.52" y="368.92" width="23.52" height="7.16" fill="#f5cab8"/>
<rect x="404.04" y="368.92" width="23.52" height="7.16" fill="#b2182a"/>
<rect x="426.56" y="368.92" width="23.52" height="7.16" fill="#f5cab8"/>
<rect x="449.08" y="368.92" width="22.52" height="7.16" fill="#ec6a52"/>
<rect x="359" y="375.08" width="23.52" height="7.16" fill="#ec6a52"/>
<rect x="381.52" y="375.08" width="23.52" height="7.16" fill="#ea2632"/>
<rect x="404.04" y="375.08" width="23.52" height="7.16" fill="#b2182a"/>
<rect x="426.56" y="375.08" width="23.52" height="7.16" fill="#ea2632"/>
<rect x="449.08" y="375.08" width="22.52" height="7.16" fill="#ea2632"/>
<rect x="359" y="381.24" width="23.52" height="7.16" fill="#ed967c"/>
<rect x="381.52" y="381.24" width="23.52" height="7.16" fill="#ea2632"/>
<rect x="404.04" y="381.24" width="23.52" height="7.16" fill="#ea2632"/>
<rect x="426.56" y="381.24" width="23.52" height="7.16" fill="#ec6a52"/>
<rect x="449.08" y="381.24" width="22.52" height="7.16" fill="#ed967c"/>
<rect x="359" y="387.4" width="23.52" height="7.16" fill="#ec6a52"/>
<rect x="381.52" y="387.4" width="23.52" height="7.16" fill="#f5cab8"/>
<rect x="404.04" y="387.4" width="23.52" height="7.16" fill="#ea2632"/>
<rect x="426.56" y="387.4" width="23.52" height="7.16" fill="#f5cab8"/>
<rect x="449.08" y="387.4" width="22.52" height="7.16" fill="#ec6a52"/>
<rect x="359" y="393.56" width="23.52" height="7.16" fill="#f9f0eb"/>
<rect x="381.52" y="393.56" width="23.52" height="7.16" fill="#6c0014"/>
<rect x="404.04" y="393.56" width="23.52" height="7.16" fill="#ea2632"/>
<rect x="426.56" y="393.56" width="23.52" height="7.16" fill="#ed967c"/>
<rect x="449.08" y="393.56" width="22.52" height="7.16" fill="#ec6a52"/>
<rect x="359" y="399.72" width="23.52" height="7.16" fill="#f9f0eb"/>
<rect x="381.52" y="399.72" width="23.52" height="7.16" fill="#b2182a"/>
<rect x="404.04" y="399.72" width="23.52" height="7.16" fill="#ea2632"/>
<rect x="426.56" y="399.72" width="23.52" height="7.16" fill="#f9f0eb"/>
<rect x="449.08" y="399.72" width="22.52" height="7.16" fill="#f5cab8"/>
<rect x="359" y="405.88" width="23.52" height="7.16" fill="#f9f0eb"/>
<rect x="381.52" y="405.88" width="23.52" height="7.16" fill="#f5cab8"/>
<rect x="404.04" y="405.88" width="23.52" height="7.16" fill="#ec6a52"/>
<rect x="426.56" y="405.88" width="23.52" height="7.16" fill="#f5cab8"/>
<rect x="449.08" y="405.88" width="22.52" height="7.16" fill="#ed967c"/>
<rect x="359" y="412.04" width="23.52" height="7.16" fill="#f9f0eb"/>
<rect x="381.52" y="412.04" width="23.52" height="7.16" fill="#ec6a52"/>
<rect x="404.04" y="412.04" width="23.52" height="7.16" fill="#f5cab8"/>
<rect x="426.56" y="412.04" width="23.52" height="7.16" fill="#b2182a"/>
<rect x="449.08" y="412.04" width="22.52" height="7.16" fill="#f5cab8"/>
<rect x="359" y="418.2" width="23.52" height="7.16" fill="#f9f0eb"/>
<rect x="381.52" y="418.2" width="23.52" height="7.16" fill="#ec6a52"/>
<rect x="404.04" y="418.2" width="23.52" height="7.16" fill="#f5cab8"/>
<rect x="426.56" y="418.2" width="23.52" height="7.16" fill="#ed967c"/>
<rect x="449.08" y="418.2" width="22.52" height="7.16" fill="#f5cab8"/>
<rect x="359" y="424.36" width="23.52" height="7.16" fill="#f9f0eb"/>
<rect x="381.52" y="424.36" width="23.52" height="7.16" fill="#f5cab8"/>
<rect x="404.04" y="424.36" width="23.52" height="7.16" fill="#f5cab8"/>
<rect x="426.56" y="424.36" width="23.52" height="7.16" fill="#f5cab8"/>
<rect x="449.08" y="424.36" width="22.52" height="7.16" fill="#f5cab8"/>
<rect x="359" y="430.52" width="23.52" height="7.16" fill="#f5cab8"/>
<rect x="381.52" y="430.52" width="23.52" height="7.16" fill="#f9f0eb"/>
<rect x="404.04" y="430.52" width="23.52" height="7.16" fill="#f5cab8"/>
<rect x="426.56" y="430.52" width="23.52" height="7.16" fill="#ed967c"/>
<rect x="449.08" y="430.52" width="22.52" height="7.16" fill="#f9f0eb"/>
<rect x="359" y="436.68" width="23.52" height="7.16" fill="#f5cab8"/>
<rect x="381.52" y="436.68" width="23.52" height="7.16" fill="#f9f0eb"/>
<rect x="404.04" y="436.68" width="23.52" height="7.16" fill="#f5cab8"/>
<rect x="426.56" y="436.68" width="23.52" height="7.16" fill="#f5cab8"/>
<rect x="449.08" y="436.68" width="22.52" height="7.16" fill="#f9f0eb"/>
<rect x="359" y="442.84" width="23.52" height="6.16" fill="#f5cab8"/>
<rect x="381.52" y="442.84" width="23.52" height="6.16" fill="#f9f0eb"/>
<rect x="404.04" y="442.84" width="23.52" height="6.16" fill="#f5cab8"/>
<rect x="426.56" y="442.84" width="23.52" height="6.16" fill="#f9f0eb"/>
<rect x="449.08" y="442.84" width="22.52" height="6.16" fill="#f9f0eb"/>
<text x="370.26" y="268.83" font-size="4.4" fill="#ffffff" textLength="9.8" lengthAdjust="spacingAndGlyphs" text-anchor="middle">1.00</text>
<text x="392.78" y="268.83" font-size="4.4" fill="#ffffff" textLength="9.8" lengthAdjust="spacingAndGlyphs" text-anchor="middle">1.00</text>
<text x="415.3" y="268.83" font-size="4.4" fill="#ffffff" textLength="9.8" lengthAdjust="spacingAndGlyphs" text-anchor="middle">1.00</text>
<text x="437.82" y="268.83" font-size="4.4" fill="#ffffff" textLength="9.8" lengthAdjust="spacingAndGlyphs" text-anchor="middle">1.00</text>
<text x="460.34" y="268.83" font-size="4.4" fill="#ffffff" textLength="9.8" lengthAdjust="spacingAndGlyphs" text-anchor="middle">1.00</text>
<line x1="357.1" y1="267.28" x2="359" y2="267.28" stroke="#777" stroke-width="0.5"/>
<text x="355" y="268.93" font-size="4.6" fill="#3a3a3a" textLength="17.49" lengthAdjust="spacingAndGlyphs" text-anchor="end">0%/0%</text>
<text x="370.26" y="274.99" font-size="4.4" fill="#ffffff" textLength="9.8" lengthAdjust="spacingAndGlyphs" text-anchor="middle">0.67</text>
<text x="392.78" y="274.99" font-size="4.4" fill="#ffffff" textLength="9.8" lengthAdjust="spacingAndGlyphs" text-anchor="middle">0.83</text>
<text x="415.3" y="274.99" font-size="4.4" fill="#ffffff" textLength="9.8" lengthAdjust="spacingAndGlyphs" text-anchor="middle">0.83</text>
<text x="437.82" y="274.99" font-size="4.4" fill="#ffffff" textLength="9.8" lengthAdjust="spacingAndGlyphs" text-anchor="middle">0.67</text>
<text x="460.34" y="274.99" font-size="4.4" fill="#ffffff" textLength="9.8" lengthAdjust="spacingAndGlyphs" text-anchor="middle">0.50</text>
<line x1="357.1" y1="273.44" x2="359" y2="273.44" stroke="#777" stroke-width="0.5"/>
<text x="355" y="275.09" font-size="4.6" fill="#3a3a3a" textLength="20.56" lengthAdjust="spacingAndGlyphs" text-anchor="end">0%/30%</text>
<text x="370.26" y="281.15" font-size="4.4" fill="#ffffff" textLength="9.8" lengthAdjust="spacingAndGlyphs" text-anchor="middle">0.50</text>
<text x="392.78" y="281.15" font-size="4.4" fill="#2b2b2b" textLength="9.8" lengthAdjust="spacingAndGlyphs" text-anchor="middle">0.17</text>
<text x="415.3" y="281.15" font-size="4.4" fill="#ffffff" textLength="9.8" lengthAdjust="spacingAndGlyphs" text-anchor="middle">0.83</text>
<text x="437.82" y="281.15" font-size="4.4" fill="#2b2b2b" textLength="9.8" lengthAdjust="spacingAndGlyphs" text-anchor="middle">0.33</text>
<text x="460.34" y="281.15" font-size="4.4" fill="#ffffff" textLength="9.8" lengthAdjust="spacingAndGlyphs" text-anchor="middle">0.83</text>
<line x1="357.1" y1="279.6" x2="359" y2="279.6" stroke="#777" stroke-width="0.5"/>
<text x="355" y="281.25" font-size="4.6" fill="#3a3a3a" textLength="20.56" lengthAdjust="spacingAndGlyphs" text-anchor="end">0%/60%</text>
<text x="370.26" y="287.31" font-size="4.4" fill="#ffffff" textLength="9.8" lengthAdjust="spacingAndGlyphs" text-anchor="middle">1.00</text>
<text x="392.78" y="287.31" font-size="4.4" fill="#ffffff" textLength="9.8" lengthAdjust="spacingAndGlyphs" text-anchor="middle">1.00</text>
<text x="415.3" y="287.31" font-size="4.4" fill="#ffffff" textLength="9.8" lengthAdjust="spacingAndGlyphs" text-anchor="middle">1.00</text>
<text x="437.82" y="287.31" font-size="4.4" fill="#ffffff" textLength="9.8" lengthAdjust="spacingAndGlyphs" text-anchor="middle">0.83</text>
<text x="460.34" y="287.31" font-size="4.4" fill="#ffffff" textLength="9.8" lengthAdjust="spacingAndGlyphs" text-anchor="middle">1.00</text>
<line x1="357.1" y1="285.76" x2="359" y2="285.76" stroke="#777" stroke-width="0.5"/>
<text x="355" y="287.41" font-size="4.6" fill="#3a3a3a" textLength="20.56" lengthAdjust="spacingAndGlyphs" text-anchor="end">10%/0%</text>
<text x="370.26" y="293.47" font-size="4.4" fill="#ffffff" textLength="9.8" lengthAdjust="spacingAndGlyphs" text-anchor="middle">0.67</text>
<text x="392.78" y="293.47" font-size="4.4" fill="#ffffff" textLength="9.8" lengthAdjust="spacingAndGlyphs" text-anchor="middle">0.83</text>
<text x="415.3" y="293.47" font-size="4.4" fill="#ffffff" textLength="9.8" lengthAdjust="spacingAndGlyphs" text-anchor="middle">0.83</text>
<text x="437.82" y="293.47" font-size="4.4" fill="#ffffff" textLength="9.8" lengthAdjust="spacingAndGlyphs" text-anchor="middle">0.50</text>
<text x="460.34" y="293.47" font-size="4.4" fill="#ffffff" textLength="9.8" lengthAdjust="spacingAndGlyphs" text-anchor="middle">0.50</text>
<line x1="357.1" y1="291.92" x2="359" y2="291.92" stroke="#777" stroke-width="0.5"/>
<text x="355" y="293.57" font-size="4.6" fill="#3a3a3a" textLength="23.63" lengthAdjust="spacingAndGlyphs" text-anchor="end">10%/30%</text>
<text x="370.26" y="299.63" font-size="4.4" fill="#ffffff" textLength="9.8" lengthAdjust="spacingAndGlyphs" text-anchor="middle">0.50</text>
<text x="392.78" y="299.63" font-size="4.4" fill="#2b2b2b" textLength="9.8" lengthAdjust="spacingAndGlyphs" text-anchor="middle">0.17</text>
<text x="415.3" y="299.63" font-size="4.4" fill="#ffffff" textLength="9.8" lengthAdjust="spacingAndGlyphs" text-anchor="middle">0.83</text>
<text x="437.82" y="299.63" font-size="4.4" fill="#2b2b2b" textLength="9.8" lengthAdjust="spacingAndGlyphs" text-anchor="middle">0.33</text>
<text x="460.34" y="299.63" font-size="4.4" fill="#ffffff" textLength="9.8" lengthAdjust="spacingAndGlyphs" text-anchor="middle">0.83</text>
<line x1="357.1" y1="298.08" x2="359" y2="298.08" stroke="#777" stroke-width="0.5"/>
<text x="355" y="299.73" font-size="4.6" fill="#3a3a3a" textLength="23.63" lengthAdjust="spacingAndGlyphs" text-anchor="end">10%/60%</text>
<text x="370.26" y="305.79" font-size="4.4" fill="#ffffff" textLength="9.8" lengthAdjust="spacingAndGlyphs" text-anchor="middle">1.00</text>
<text x="392.78" y="305.79" font-size="4.4" fill="#ffffff" textLength="9.8" lengthAdjust="spacingAndGlyphs" text-anchor="middle">1.00</text>
<text x="415.3" y="305.79" font-size="4.4" fill="#ffffff" textLength="9.8" lengthAdjust="spacingAndGlyphs" text-anchor="middle">1.00</text>
<text x="437.82" y="305.79" font-size="4.4" fill="#ffffff" textLength="9.8" lengthAdjust="spacingAndGlyphs" text-anchor="middle">1.00</text>
<text x="460.34" y="305.79" font-size="4.4" fill="#ffffff" textLength="9.8" lengthAdjust="spacingAndGlyphs" text-anchor="middle">1.00</text>
<line x1="357.1" y1="304.24" x2="359" y2="304.24" stroke="#777" stroke-width="0.5"/>
<text x="355" y="305.89" font-size="4.6" fill="#3a3a3a" textLength="20.56" lengthAdjust="spacingAndGlyphs" text-anchor="end">20%/0%</text>
<text x="370.26" y="311.95" font-size="4.4" fill="#ffffff" textLength="9.8" lengthAdjust="spacingAndGlyphs" text-anchor="middle">0.67</text>
<text x="392.78" y="311.95" font-size="4.4" fill="#ffffff" textLength="9.8" lengthAdjust="spacingAndGlyphs" text-anchor="middle">0.83</text>
<text x="415.3" y="311.95" font-size="4.4" fill="#ffffff" textLength="9.8" lengthAdjust="spacingAndGlyphs" text-anchor="middle">0.83</text>
<text x="437.82" y="311.95" font-size="4.4" fill="#ffffff" textLength="9.8" lengthAdjust="spacingAndGlyphs" text-anchor="middle">0.50</text>
<text x="460.34" y="311.95" font-size="4.4" fill="#ffffff" textLength="9.8" lengthAdjust="spacingAndGlyphs" text-anchor="middle">0.50</text>
<line x1="357.1" y1="310.4" x2="359" y2="310.4" stroke="#777" stroke-width="0.5"/>
<text x="355" y="312.05" font-size="4.6" fill="#3a3a3a" textLength="23.63" lengthAdjust="spacingAndGlyphs" text-anchor="end">20%/30%</text>
<text x="370.26" y="318.11" font-size="4.4" fill="#ffffff" textLength="9.8" lengthAdjust="spacingAndGlyphs" text-anchor="middle">0.50</text>
<text x="392.78" y="318.11" font-size="4.4" fill="#2b2b2b" textLength="9.8" lengthAdjust="spacingAndGlyphs" text-anchor="middle">0.17</text>
<text x="415.3" y="318.11" font-size="4.4" fill="#ffffff" textLength="9.8" lengthAdjust="spacingAndGlyphs" text-anchor="middle">0.83</text>
<text x="437.82" y="318.11" font-size="4.4" fill="#2b2b2b" textLength="9.8" lengthAdjust="spacingAndGlyphs" text-anchor="middle">0.33</text>
<text x="460.34" y="318.11" font-size="4.4" fill="#ffffff" textLength="9.8" lengthAdjust="spacingAndGlyphs" text-anchor="middle">0.83</text>
<line x1="357.1" y1="316.56" x2="359" y2="316.56" stroke="#777" stroke-width="0.5"/>
<text x="355" y="318.21" font-size="4.6" fill="#3a3a3a" textLength="23.63" lengthAdjust="spacingAndGlyphs" text-anchor="end">20%/60%</text>
<text x="370.26" y="324.27" font-size="4.4" fill="#ffffff" textLength="9.8" lengthAdjust="spacingAndGlyphs" text-anchor="middle">0.83</text>
<text x="392.78" y="324.27" font-size="4.4" fill="#ffffff" textLength="9.8" lengthAdjust="spacingAndGlyphs" text-anchor="middle">1.00</text>
<text x="415.3" y="324.27" font-size="4.4" fill="#ffffff" textLength="9.8" lengthAdjust="spacingAndGlyphs" text-anchor="middle">1.00</text>
<text x="437.82" y="324.27" font-size="4.4" fill="#ffffff" textLength="9.8" lengthAdjust="spacingAndGlyphs" text-anchor="middle">0.83</text>
<text x="460.34" y="324.27" font-size="4.4" fill="#ffffff" textLength="9.8" lengthAdjust="spacingAndGlyphs" text-anchor="middle">0.83</text>
<line x1="357.1" y1="322.72" x2="359" y2="322.72" stroke="#777" stroke-width="0.5"/>
<text x="355" y="324.37" font-size="4.6" fill="#3a3a3a" textLength="20.56" lengthAdjust="spacingAndGlyphs" text-anchor="end">30%/0%</text>
<text x="370.26" y="330.43" font-size="4.4" fill="#ffffff" textLength="9.8" lengthAdjust="spacingAndGlyphs" text-anchor="middle">0.50</text>
<text x="392.78" y="330.43" font-size="4.4" fill="#ffffff" textLength="9.8" lengthAdjust="spacingAndGlyphs" text-anchor="middle">0.83</text>
<text x="415.3" y="330.43" font-size="4.4" fill="#ffffff" textLength="9.8" lengthAdjust="spacingAndGlyphs" text-anchor="middle">0.83</text>
<text x="437.82" y="330.43" font-size="4.4" fill="#ffffff" textLength="9.8" lengthAdjust="spacingAndGlyphs" text-anchor="middle">0.50</text>
<text x="460.34" y="330.43" font-size="4.4" fill="#ffffff" textLength="9.8" lengthAdjust="spacingAndGlyphs" text-anchor="middle">0.50</text>
<line x1="357.1" y1="328.88" x2="359" y2="328.88" stroke="#777" stroke-width="0.5"/>
<text x="355" y="330.53" font-size="4.6" fill="#3a3a3a" textLength="23.63" lengthAdjust="spacingAndGlyphs" text-anchor="end">30%/30%</text>
<text x="370.26" y="336.59" font-size="4.4" fill="#ffffff" textLength="9.8" lengthAdjust="spacingAndGlyphs" text-anchor="middle">0.50</text>
<text x="392.78" y="336.59" font-size="4.4" fill="#2b2b2b" textLength="9.8" lengthAdjust="spacingAndGlyphs" text-anchor="middle">0.17</text>
<text x="415.3" y="336.59" font-size="4.4" fill="#ffffff" textLength="9.8" lengthAdjust="spacingAndGlyphs" text-anchor="middle">0.83</text>
<text x="437.82" y="336.59" font-size="4.4" fill="#2b2b2b" textLength="9.8" lengthAdjust="spacingAndGlyphs" text-anchor="middle">0.17</text>
<text x="460.34" y="336.59" font-size="4.4" fill="#ffffff" textLength="9.8" lengthAdjust="spacingAndGlyphs" text-anchor="middle">0.67</text>
<line x1="357.1" y1="335.04" x2="359" y2="335.04" stroke="#777" stroke-width="0.5"/>
<text x="355" y="336.69" font-size="4.6" fill="#3a3a3a" textLength="23.63" lengthAdjust="spacingAndGlyphs" text-anchor="end">30%/60%</text>
<text x="370.26" y="342.75" font-size="4.4" fill="#ffffff" textLength="9.8" lengthAdjust="spacingAndGlyphs" text-anchor="middle">0.67</text>
<text x="392.78" y="342.75" font-size="4.4" fill="#ffffff" textLength="9.8" lengthAdjust="spacingAndGlyphs" text-anchor="middle">1.00</text>
<text x="415.3" y="342.75" font-size="4.4" fill="#ffffff" textLength="9.8" lengthAdjust="spacingAndGlyphs" text-anchor="middle">0.83</text>
<text x="437.82" y="342.75" font-size="4.4" fill="#ffffff" textLength="9.8" lengthAdjust="spacingAndGlyphs" text-anchor="middle">1.00</text>
<text x="460.34" y="342.75" font-size="4.4" fill="#ffffff" textLength="9.8" lengthAdjust="spacingAndGlyphs" text-anchor="middle">0.67</text>
<line x1="357.1" y1="341.2" x2="359" y2="341.2" stroke="#777" stroke-width="0.5"/>
<text x="355" y="342.85" font-size="4.6" fill="#3a3a3a" textLength="20.56" lengthAdjust="spacingAndGlyphs" text-anchor="end">40%/0%</text>
<text x="370.26" y="348.91" font-size="4.4" fill="#ffffff" textLength="9.8" lengthAdjust="spacingAndGlyphs" text-anchor="middle">0.50</text>
<text x="392.78" y="348.91" font-size="4.4" fill="#ffffff" textLength="9.8" lengthAdjust="spacingAndGlyphs" text-anchor="middle">0.83</text>
<text x="415.3" y="348.91" font-size="4.4" fill="#ffffff" textLength="9.8" lengthAdjust="spacingAndGlyphs" text-anchor="middle">0.83</text>
<text x="437.82" y="348.91" font-size="4.4" fill="#ffffff" textLength="9.8" lengthAdjust="spacingAndGlyphs" text-anchor="middle">0.67</text>
<text x="460.34" y="348.91" font-size="4.4" fill="#2b2b2b" textLength="9.8" lengthAdjust="spacingAndGlyphs" text-anchor="middle">0.17</text>
<line x1="357.1" y1="347.36" x2="359" y2="347.36" stroke="#777" stroke-width="0.5"/>
<text x="355" y="349.01" font-size="4.6" fill="#3a3a3a" textLength="23.63" lengthAdjust="spacingAndGlyphs" text-anchor="end">40%/30%</text>
<text x="370.26" y="355.07" font-size="4.4" fill="#2b2b2b" textLength="9.8" lengthAdjust="spacingAndGlyphs" text-anchor="middle">0.33</text>
<text x="392.78" y="355.07" font-size="4.4" fill="#2b2b2b" textLength="9.8" lengthAdjust="spacingAndGlyphs" text-anchor="middle">0.17</text>
<text x="415.3" y="355.07" font-size="4.4" fill="#ffffff" textLength="9.8" lengthAdjust="spacingAndGlyphs" text-anchor="middle">0.67</text>
<text x="437.82" y="355.07" font-size="4.4" fill="#2b2b2b" textLength="9.8" lengthAdjust="spacingAndGlyphs" text-anchor="middle">0.33</text>
<text x="460.34" y="355.07" font-size="4.4" fill="#ffffff" textLength="9.8" lengthAdjust="spacingAndGlyphs" text-anchor="middle">0.50</text>
<line x1="357.1" y1="353.52" x2="359" y2="353.52" stroke="#777" stroke-width="0.5"/>
<text x="355" y="355.17" font-size="4.6" fill="#3a3a3a" textLength="23.63" lengthAdjust="spacingAndGlyphs" text-anchor="end">40%/60%</text>
<text x="370.26" y="361.23" font-size="4.4" fill="#ffffff" textLength="9.8" lengthAdjust="spacingAndGlyphs" text-anchor="middle">0.67</text>
<text x="392.78" y="361.23" font-size="4.4" fill="#ffffff" textLength="9.8" lengthAdjust="spacingAndGlyphs" text-anchor="middle">1.00</text>
<text x="415.3" y="361.23" font-size="4.4" fill="#ffffff" textLength="9.8" lengthAdjust="spacingAndGlyphs" text-anchor="middle">0.83</text>
<text x="437.82" y="361.23" font-size="4.4" fill="#ffffff" textLength="9.8" lengthAdjust="spacingAndGlyphs" text-anchor="middle">1.00</text>
<text x="460.34" y="361.23" font-size="4.4" fill="#ffffff" textLength="9.8" lengthAdjust="spacingAndGlyphs" text-anchor="middle">0.67</text>
<line x1="357.1" y1="359.68" x2="359" y2="359.68" stroke="#777" stroke-width="0.5"/>
<text x="355" y="361.33" font-size="4.6" fill="#3a3a3a" textLength="20.56" lengthAdjust="spacingAndGlyphs" text-anchor="end">50%/0%</text>
<text x="370.26" y="367.39" font-size="4.4" fill="#2b2b2b" textLength="9.8" lengthAdjust="spacingAndGlyphs" text-anchor="middle">0.33</text>
<text x="392.78" y="367.39" font-size="4.4" fill="#ffffff" textLength="9.8" lengthAdjust="spacingAndGlyphs" text-anchor="middle">0.83</text>
<text x="415.3" y="367.39" font-size="4.4" fill="#ffffff" textLength="9.8" lengthAdjust="spacingAndGlyphs" text-anchor="middle">0.67</text>
<text x="437.82" y="367.39" font-size="4.4" fill="#ffffff" textLength="9.8" lengthAdjust="spacingAndGlyphs" text-anchor="middle">0.50</text>
<text x="460.34" y="367.39" font-size="4.4" fill="#2b2b2b" textLength="9.8" lengthAdjust="spacingAndGlyphs" text-anchor="middle">0.33</text>
<line x1="357.1" y1="365.84" x2="359" y2="365.84" stroke="#777" stroke-width="0.5"/>
<text x="355" y="367.49" font-size="4.6" fill="#3a3a3a" textLength="23.63" lengthAdjust="spacingAndGlyphs" text-anchor="end">50%/30%</text>
<text x="370.26" y="373.55" font-size="4.4" fill="#2b2b2b" textLength="9.8" lengthAdjust="spacingAndGlyphs" text-anchor="middle">0.33</text>
<text x="392.78" y="373.55" font-size="4.4" fill="#2b2b2b" textLength="9.8" lengthAdjust="spacingAndGlyphs" text-anchor="middle">0.17</text>
<text x="415.3" y="373.55" font-size="4.4" fill="#ffffff" textLength="9.8" lengthAdjust="spacingAndGlyphs" text-anchor="middle">0.83</text>
<text x="437.82" y="373.55" font-size="4.4" fill="#2b2b2b" textLength="9.8" lengthAdjust="spacingAndGlyphs" text-anchor="middle">0.17</text>
<text x="460.34" y="373.55" font-size="4.4" fill="#ffffff" textLength="9.8" lengthAdjust="spacingAndGlyphs" text-anchor="middle">0.50</text>
<line x1="357.1" y1="372" x2="359" y2="372" stroke="#777" stroke-width="0.5"/>
<text x="355" y="373.65" font-size="4.6" fill="#3a3a3a" textLength="23.63" lengthAdjust="spacingAndGlyphs" text-anchor="end">50%/60%</text>
<text x="370.26" y="379.71" font-size="4.4" fill="#ffffff" textLength="9.8" lengthAdjust="spacingAndGlyphs" text-anchor="middle">0.50</text>
<text x="392.78" y="379.71" font-size="4.4" fill="#ffffff" textLength="9.8" lengthAdjust="spacingAndGlyphs" text-anchor="middle">0.67</text>
<text x="415.3" y="379.71" font-size="4.4" fill="#ffffff" textLength="9.8" lengthAdjust="spacingAndGlyphs" text-anchor="middle">0.83</text>
<text x="437.82" y="379.71" font-size="4.4" fill="#ffffff" textLength="9.8" lengthAdjust="spacingAndGlyphs" text-anchor="middle">0.67</text>
<text x="460.34" y="379.71" font-size="4.4" fill="#ffffff" textLength="9.8" lengthAdjust="spacingAndGlyphs" text-anchor="middle">0.67</text>
<line x1="357.1" y1="378.16" x2="359" y2="378.16" stroke="#777" stroke-width="0.5"/>
<text x="355" y="379.81" font-size="4.6" fill="#3a3a3a" textLength="20.56" lengthAdjust="spacingAndGlyphs" text-anchor="end">60%/0%</text>
<text x="370.26" y="385.87" font-size="4.4" fill="#2b2b2b" textLength="9.8" lengthAdjust="spacingAndGlyphs" text-anchor="middle">0.33</text>
<text x="392.78" y="385.87" font-size="4.4" fill="#ffffff" textLength="9.8" lengthAdjust="spacingAndGlyphs" text-anchor="middle">0.67</text>
<text x="415.3" y="385.87" font-size="4.4" fill="#ffffff" textLength="9.8" lengthAdjust="spacingAndGlyphs" text-anchor="middle">0.67</text>
<text x="437.82" y="385.87" font-size="4.4" fill="#ffffff" textLength="9.8" lengthAdjust="spacingAndGlyphs" text-anchor="middle">0.50</text>
<text x="460.34" y="385.87" font-size="4.4" fill="#2b2b2b" textLength="9.8" lengthAdjust="spacingAndGlyphs" text-anchor="middle">0.33</text>
<line x1="357.1" y1="384.32" x2="359" y2="384.32" stroke="#777" stroke-width="0.5"/>
<text x="355" y="385.97" font-size="4.6" fill="#3a3a3a" textLength="23.63" lengthAdjust="spacingAndGlyphs" text-anchor="end">60%/30%</text>
<text x="370.26" y="392.03" font-size="4.4" fill="#ffffff" textLength="9.8" lengthAdjust="spacingAndGlyphs" text-anchor="middle">0.50</text>
<text x="392.78" y="392.03" font-size="4.4" fill="#2b2b2b" textLength="9.8" lengthAdjust="spacingAndGlyphs" text-anchor="middle">0.17</text>
<text x="415.3" y="392.03" font-size="4.4" fill="#ffffff" textLength="9.8" lengthAdjust="spacingAndGlyphs" text-anchor="middle">0.67</text>
<text x="437.82" y="392.03" font-size="4.4" fill="#2b2b2b" textLength="9.8" lengthAdjust="spacingAndGlyphs" text-anchor="middle">0.17</text>
<text x="460.34" y="392.03" font-size="4.4" fill="#ffffff" textLength="9.8" lengthAdjust="spacingAndGlyphs" text-anchor="middle">0.50</text>
<line x1="357.1" y1="390.48" x2="359" y2="390.48" stroke="#777" stroke-width="0.5"/>
<text x="355" y="392.13" font-size="4.6" fill="#3a3a3a" textLength="23.63" lengthAdjust="spacingAndGlyphs" text-anchor="end">60%/60%</text>
<text x="370.26" y="398.19" font-size="4.4" fill="#2b2b2b" textLength="9.8" lengthAdjust="spacingAndGlyphs" text-anchor="middle">0.00</text>
<text x="392.78" y="398.19" font-size="4.4" fill="#ffffff" textLength="9.8" lengthAdjust="spacingAndGlyphs" text-anchor="middle">1.00</text>
<text x="415.3" y="398.19" font-size="4.4" fill="#ffffff" textLength="9.8" lengthAdjust="spacingAndGlyphs" text-anchor="middle">0.67</text>
<text x="437.82" y="398.19" font-size="4.4" fill="#2b2b2b" textLength="9.8" lengthAdjust="spacingAndGlyphs" text-anchor="middle">0.33</text>
<text x="460.34" y="398.19" font-size="4.4" fill="#ffffff" textLength="9.8" lengthAdjust="spacingAndGlyphs" text-anchor="middle">0.50</text>
<line x1="357.1" y1="396.64" x2="359" y2="396.64" stroke="#777" stroke-width="0.5"/>
<text x="355" y="398.29" font-size="4.6" fill="#3a3a3a" textLength="20.56" lengthAdjust="spacingAndGlyphs" text-anchor="end">70%/0%</text>
<text x="370.26" y="404.35" font-size="4.4" fill="#2b2b2b" textLength="9.8" lengthAdjust="spacingAndGlyphs" text-anchor="middle">0.00</text>
<text x="392.78" y="404.35" font-size="4.4" fill="#ffffff" textLength="9.8" lengthAdjust="spacingAndGlyphs" text-anchor="middle">0.83</text>
<text x="415.3" y="404.35" font-size="4.4" fill="#ffffff" textLength="9.8" lengthAdjust="spacingAndGlyphs" text-anchor="middle">0.67</text>
<text x="437.82" y="404.35" font-size="4.4" fill="#2b2b2b" textLength="9.8" lengthAdjust="spacingAndGlyphs" text-anchor="middle">0.00</text>
<text x="460.34" y="404.35" font-size="4.4" fill="#2b2b2b" textLength="9.8" lengthAdjust="spacingAndGlyphs" text-anchor="middle">0.17</text>
<line x1="357.1" y1="402.8" x2="359" y2="402.8" stroke="#777" stroke-width="0.5"/>
<text x="355" y="404.45" font-size="4.6" fill="#3a3a3a" textLength="23.63" lengthAdjust="spacingAndGlyphs" text-anchor="end">70%/30%</text>
<text x="370.26" y="410.51" font-size="4.4" fill="#2b2b2b" textLength="9.8" lengthAdjust="spacingAndGlyphs" text-anchor="middle">0.00</text>
<text x="392.78" y="410.51" font-size="4.4" fill="#2b2b2b" textLength="9.8" lengthAdjust="spacingAndGlyphs" text-anchor="middle">0.17</text>
<text x="415.3" y="410.51" font-size="4.4" fill="#ffffff" textLength="9.8" lengthAdjust="spacingAndGlyphs" text-anchor="middle">0.50</text>
<text x="437.82" y="410.51" font-size="4.4" fill="#2b2b2b" textLength="9.8" lengthAdjust="spacingAndGlyphs" text-anchor="middle">0.17</text>
<text x="460.34" y="410.51" font-size="4.4" fill="#2b2b2b" textLength="9.8" lengthAdjust="spacingAndGlyphs" text-anchor="middle">0.33</text>
<line x1="357.1" y1="408.96" x2="359" y2="408.96" stroke="#777" stroke-width="0.5"/>
<text x="355" y="410.61" font-size="4.6" fill="#3a3a3a" textLength="23.63" lengthAdjust="spacingAndGlyphs" text-anchor="end">70%/60%</text>
<text x="370.26" y="416.67" font-size="4.4" fill="#2b2b2b" textLength="9.8" lengthAdjust="spacingAndGlyphs" text-anchor="middle">0.00</text>
<text x="392.78" y="416.67" font-size="4.4" fill="#ffffff" textLength="9.8" lengthAdjust="spacingAndGlyphs" text-anchor="middle">0.50</text>
<text x="415.3" y="416.67" font-size="4.4" fill="#2b2b2b" textLength="9.8" lengthAdjust="spacingAndGlyphs" text-anchor="middle">0.17</text>
<text x="437.82" y="416.67" font-size="4.4" fill="#ffffff" textLength="9.8" lengthAdjust="spacingAndGlyphs" text-anchor="middle">0.83</text>
<text x="460.34" y="416.67" font-size="4.4" fill="#2b2b2b" textLength="9.8" lengthAdjust="spacingAndGlyphs" text-anchor="middle">0.17</text>
<line x1="357.1" y1="415.12" x2="359" y2="415.12" stroke="#777" stroke-width="0.5"/>
<text x="355" y="416.77" font-size="4.6" fill="#3a3a3a" textLength="20.56" lengthAdjust="spacingAndGlyphs" text-anchor="end">80%/0%</text>
<text x="370.26" y="422.83" font-size="4.4" fill="#2b2b2b" textLength="9.8" lengthAdjust="spacingAndGlyphs" text-anchor="middle">0.00</text>
<text x="392.78" y="422.83" font-size="4.4" fill="#ffffff" textLength="9.8" lengthAdjust="spacingAndGlyphs" text-anchor="middle">0.50</text>
<text x="415.3" y="422.83" font-size="4.4" fill="#2b2b2b" textLength="9.8" lengthAdjust="spacingAndGlyphs" text-anchor="middle">0.17</text>
<text x="437.82" y="422.83" font-size="4.4" fill="#2b2b2b" textLength="9.8" lengthAdjust="spacingAndGlyphs" text-anchor="middle">0.33</text>
<text x="460.34" y="422.83" font-size="4.4" fill="#2b2b2b" textLength="9.8" lengthAdjust="spacingAndGlyphs" text-anchor="middle">0.17</text>
<line x1="357.1" y1="421.28" x2="359" y2="421.28" stroke="#777" stroke-width="0.5"/>
<text x="355" y="422.93" font-size="4.6" fill="#3a3a3a" textLength="23.63" lengthAdjust="spacingAndGlyphs" text-anchor="end">80%/30%</text>
<text x="370.26" y="428.99" font-size="4.4" fill="#2b2b2b" textLength="9.8" lengthAdjust="spacingAndGlyphs" text-anchor="middle">0.00</text>
<text x="392.78" y="428.99" font-size="4.4" fill="#2b2b2b" textLength="9.8" lengthAdjust="spacingAndGlyphs" text-anchor="middle">0.17</text>
<text x="415.3" y="428.99" font-size="4.4" fill="#2b2b2b" textLength="9.8" lengthAdjust="spacingAndGlyphs" text-anchor="middle">0.17</text>
<text x="437.82" y="428.99" font-size="4.4" fill="#2b2b2b" textLength="9.8" lengthAdjust="spacingAndGlyphs" text-anchor="middle">0.17</text>
<text x="460.34" y="428.99" font-size="4.4" fill="#2b2b2b" textLength="9.8" lengthAdjust="spacingAndGlyphs" text-anchor="middle">0.17</text>
<line x1="357.1" y1="427.44" x2="359" y2="427.44" stroke="#777" stroke-width="0.5"/>
<text x="355" y="429.09" font-size="4.6" fill="#3a3a3a" textLength="23.63" lengthAdjust="spacingAndGlyphs" text-anchor="end">80%/60%</text>
<text x="370.26" y="435.15" font-size="4.4" fill="#2b2b2b" textLength="9.8" lengthAdjust="spacingAndGlyphs" text-anchor="middle">0.17</text>
<text x="392.78" y="435.15" font-size="4.4" fill="#2b2b2b" textLength="9.8" lengthAdjust="spacingAndGlyphs" text-anchor="middle">0.00</text>
<text x="415.3" y="435.15" font-size="4.4" fill="#2b2b2b" textLength="9.8" lengthAdjust="spacingAndGlyphs" text-anchor="middle">0.17</text>
<text x="437.82" y="435.15" font-size="4.4" fill="#2b2b2b" textLength="9.8" lengthAdjust="spacingAndGlyphs" text-anchor="middle">0.33</text>
<text x="460.34" y="435.15" font-size="4.4" fill="#2b2b2b" textLength="9.8" lengthAdjust="spacingAndGlyphs" text-anchor="middle">0.00</text>
<line x1="357.1" y1="433.6" x2="359" y2="433.6" stroke="#777" stroke-width="0.5"/>
<text x="355" y="435.25" font-size="4.6" fill="#3a3a3a" textLength="20.56" lengthAdjust="spacingAndGlyphs" text-anchor="end">90%/0%</text>
<text x="370.26" y="441.31" font-size="4.4" fill="#2b2b2b" textLength="9.8" lengthAdjust="spacingAndGlyphs" text-anchor="middle">0.17</text>
<text x="392.78" y="441.31" font-size="4.4" fill="#2b2b2b" textLength="9.8" lengthAdjust="spacingAndGlyphs" text-anchor="middle">0.00</text>
<text x="415.3" y="441.31" font-size="4.4" fill="#2b2b2b" textLength="9.8" lengthAdjust="spacingAndGlyphs" text-anchor="middle">0.17</text>
<text x="437.82" y="441.31" font-size="4.4" fill="#2b2b2b" textLength="9.8" lengthAdjust="spacingAndGlyphs" text-anchor="middle">0.17</text>
<text x="460.34" y="441.31" font-size="4.4" fill="#2b2b2b" textLength="9.8" lengthAdjust="spacingAndGlyphs" text-anchor="middle">0.00</text>
<line x1="357.1" y1="439.76" x2="359" y2="439.76" stroke="#777" stroke-width="0.5"/>
<text x="355" y="441.41" font-size="4.6" fill="#3a3a3a" textLength="23.63" lengthAdjust="spacingAndGlyphs" text-anchor="end">90%/30%</text>
<text x="370.26" y="447.47" font-size="4.4" fill="#2b2b2b" textLength="9.8" lengthAdjust="spacingAndGlyphs" text-anchor="middle">0.17</text>
<text x="392.78" y="447.47" font-size="4.4" fill="#2b2b2b" textLength="9.8" lengthAdjust="spacingAndGlyphs" text-anchor="middle">0.00</text>
<text x="415.3" y="447.47" font-size="4.4" fill="#2b2b2b" textLength="9.8" lengthAdjust="spacingAndGlyphs" text-anchor="middle">0.17</text>
<text x="437.82" y="447.47" font-size="4.4" fill="#2b2b2b" textLength="9.8" lengthAdjust="spacingAndGlyphs" text-anchor="middle">0.00</text>
<text x="460.34" y="447.47" font-size="4.4" fill="#2b2b2b" textLength="9.8" lengthAdjust="spacingAndGlyphs" text-anchor="middle">0.00</text>
<line x1="357.1" y1="445.92" x2="359" y2="445.92" stroke="#777" stroke-width="0.5"/>
<text x="355" y="447.57" font-size="4.6" fill="#3a3a3a" textLength="23.63" lengthAdjust="spacingAndGlyphs" text-anchor="end">90%/60%</text>
<line x1="370.26" y1="449" x2="370.26" y2="450.4" stroke="#9a9a9a" stroke-width="0.5"/>
<text transform="translate(372.16 453.2) rotate(-90)" font-size="5.2" fill="#3a3a3a" textLength="13.6" lengthAdjust="spacingAndGlyphs" text-anchor="end">LEU5</text>
<line x1="392.78" y1="449" x2="392.78" y2="450.4" stroke="#9a9a9a" stroke-width="0.5"/>
<text transform="translate(394.68 453.2) rotate(-90)" font-size="5.2" fill="#3a3a3a" textLength="14.6" lengthAdjust="spacingAndGlyphs" text-anchor="end">CAT2</text>
<line x1="415.3" y1="449" x2="415.3" y2="450.4" stroke="#9a9a9a" stroke-width="0.5"/>
<text transform="translate(417.2 453.2) rotate(-90)" font-size="5.2" fill="#3a3a3a" textLength="46.1" lengthAdjust="spacingAndGlyphs" text-anchor="end">KGD1,KGD2,LPD1</text>
<line x1="437.82" y1="449" x2="437.82" y2="450.4" stroke="#9a9a9a" stroke-width="0.5"/>
<text transform="translate(439.72 453.2) rotate(-90)" font-size="5.2" fill="#3a3a3a" textLength="10.7" lengthAdjust="spacingAndGlyphs" text-anchor="end">SDH</text>
<line x1="460.34" y1="449" x2="460.34" y2="450.4" stroke="#9a9a9a" stroke-width="0.5"/>
<text transform="translate(462.24 453.2) rotate(-90)" font-size="5.2" fill="#3a3a3a" textLength="13.3" lengthAdjust="spacingAndGlyphs" text-anchor="end">CTP1</text>
<defs><linearGradient id="g478" x1="0" y1="0" x2="0" y2="1"><stop offset="0" stop-color="rgb(108,0,20)"/><stop offset="0.17" stop-color="rgb(178,24,42)"/><stop offset="0.33" stop-color="rgb(234,38,50)"/><stop offset="0.5" stop-color="rgb(236,106,82)"/><stop offset="0.67" stop-color="rgb(237,150,124)"/><stop offset="0.83" stop-color="rgb(245,202,184)"/><stop offset="1" stop-color="rgb(249,240,235)"/></linearGradient></defs>
<rect x="478.9" y="264.2" width="8.9" height="184.8" fill="url(#g478)"/>
<line x1="487.8" y1="264.2" x2="489.4" y2="264.2" stroke="#777" stroke-width="0.6"/>
<text x="491.6" y="266.9" font-size="7.6" fill="#333333">1.0</text>
<line x1="487.8" y1="301.16" x2="489.4" y2="301.16" stroke="#777" stroke-width="0.6"/>
<text x="491.6" y="303.86" font-size="7.6" fill="#333333">0.8</text>
<line x1="487.8" y1="338.12" x2="489.4" y2="338.12" stroke="#777" stroke-width="0.6"/>
<text x="491.6" y="340.82" font-size="7.6" fill="#333333">0.6</text>
<line x1="487.8" y1="375.08" x2="489.4" y2="375.08" stroke="#777" stroke-width="0.6"/>
<text x="491.6" y="377.78" font-size="7.6" fill="#333333">0.4</text>
<line x1="487.8" y1="412.04" x2="489.4" y2="412.04" stroke="#777" stroke-width="0.6"/>
<text x="491.6" y="414.74" font-size="7.6" fill="#333333">0.2</text>
<line x1="487.8" y1="449" x2="489.4" y2="449" stroke="#777" stroke-width="0.6"/>
<text x="491.6" y="451.7" font-size="7.6" fill="#333333">0</text>
<text x="595.05" y="247.9" font-size="8.4" fill="#333333" textLength="103.9" lengthAdjust="spacingAndGlyphs" text-anchor="middle">‘Modifier’ reaction pattern</text>
<text x="595.15" y="257.6" font-size="8.4" fill="#333333" textLength="88.7" lengthAdjust="spacingAndGlyphs" text-anchor="middle">with reaction collapse</text>
<rect x="538.4" y="264.2" width="23.5" height="7.16" fill="#6c0014"/>
<rect x="560.9" y="264.2" width="23.5" height="7.16" fill="#6c0014"/>
<rect x="583.4" y="264.2" width="23.5" height="7.16" fill="#6c0014"/>
<rect x="605.9" y="264.2" width="23.5" height="7.16" fill="#6c0014"/>
<rect x="628.4" y="264.2" width="22.5" height="7.16" fill="#6c0014"/>
<rect x="538.4" y="270.36" width="23.5" height="7.16" fill="#ea2632"/>
<rect x="560.9" y="270.36" width="23.5" height="7.16" fill="#b2182a"/>
<rect x="583.4" y="270.36" width="23.5" height="7.16" fill="#6c0014"/>
<rect x="605.9" y="270.36" width="23.5" height="7.16" fill="#ea2632"/>
<rect x="628.4" y="270.36" width="22.5" height="7.16" fill="#6c0014"/>
<rect x="538.4" y="276.52" width="23.5" height="7.16" fill="#ec6a52"/>
<rect x="560.9" y="276.52" width="23.5" height="7.16" fill="#f5cab8"/>
<rect x="583.4" y="276.52" width="23.5" height="7.16" fill="#6c0014"/>
<rect x="605.9" y="276.52" width="23.5" height="7.16" fill="#ed967c"/>
<rect x="628.4" y="276.52" width="22.5" height="7.16" fill="#6c0014"/>
<rect x="538.4" y="282.68" width="23.5" height="7.16" fill="#6c0014"/>
<rect x="560.9" y="282.68" width="23.5" height="7.16" fill="#6c0014"/>
<rect x="583.4" y="282.68" width="23.5" height="7.16" fill="#6c0014"/>
<rect x="605.9" y="282.68" width="23.5" height="7.16" fill="#b2182a"/>
<rect x="628.4" y="282.68" width="22.5" height="7.16" fill="#6c0014"/>
<rect x="538.4" y="288.84" width="23.5" height="7.16" fill="#ea2632"/>
<rect x="560.9" y="288.84" width="23.5" height="7.16" fill="#b2182a"/>
<rect x="583.4" y="288.84" width="23.5" height="7.16" fill="#6c0014"/>
<rect x="605.9" y="288.84" width="23.5" height="7.16" fill="#ec6a52"/>
<rect x="628.4" y="288.84" width="22.5" height="7.16" fill="#b2182a"/>
<rect x="538.4" y="295" width="23.5" height="7.16" fill="#ec6a52"/>
<rect x="560.9" y="295" width="23.5" height="7.16" fill="#ed967c"/>
<rect x="583.4" y="295" width="23.5" height="7.16" fill="#6c0014"/>
<rect x="605.9" y="295" width="23.5" height="7.16" fill="#ed967c"/>
<rect x="628.4" y="295" width="22.5" height="7.16" fill="#6c0014"/>
<rect x="538.4" y="301.16" width="23.5" height="7.16" fill="#6c0014"/>
<rect x="560.9" y="301.16" width="23.5" height="7.16" fill="#6c0014"/>
<rect x="583.4" y="301.16" width="23.5" height="7.16" fill="#6c0014"/>
<rect x="605.9" y="301.16" width="23.5" height="7.16" fill="#6c0014"/>
<rect x="628.4" y="301.16" width="22.5" height="7.16" fill="#6c0014"/>
<rect x="538.4" y="307.32" width="23.5" height="7.16" fill="#ea2632"/>
<rect x="560.9" y="307.32" width="23.5" height="7.16" fill="#b2182a"/>
<rect x="583.4" y="307.32" width="23.5" height="7.16" fill="#6c0014"/>
<rect x="605.9" y="307.32" width="23.5" height="7.16" fill="#b2182a"/>
<rect x="628.4" y="307.32" width="22.5" height="7.16" fill="#b2182a"/>
<rect x="538.4" y="313.48" width="23.5" height="7.16" fill="#ec6a52"/>
<rect x="560.9" y="313.48" width="23.5" height="7.16" fill="#ed967c"/>
<rect x="583.4" y="313.48" width="23.5" height="7.16" fill="#6c0014"/>
<rect x="605.9" y="313.48" width="23.5" height="7.16" fill="#ed967c"/>
<rect x="628.4" y="313.48" width="22.5" height="7.16" fill="#b2182a"/>
<rect x="538.4" y="319.64" width="23.5" height="7.16" fill="#b2182a"/>
<rect x="560.9" y="319.64" width="23.5" height="7.16" fill="#6c0014"/>
<rect x="583.4" y="319.64" width="23.5" height="7.16" fill="#6c0014"/>
<rect x="605.9" y="319.64" width="23.5" height="7.16" fill="#b2182a"/>
<rect x="628.4" y="319.64" width="22.5" height="7.16" fill="#b2182a"/>
<rect x="538.4" y="325.8" width="23.5" height="7.16" fill="#ec6a52"/>
<rect x="560.9" y="325.8" width="23.5" height="7.16" fill="#b2182a"/>
<rect x="583.4" y="325.8" width="23.5" height="7.16" fill="#6c0014"/>
<rect x="605.9" y="325.8" width="23.5" height="7.16" fill="#b2182a"/>
<rect x="628.4" y="325.8" width="22.5" height="7.16" fill="#ea2632"/>
<rect x="538.4" y="331.96" width="23.5" height="7.16" fill="#ec6a52"/>
<rect x="560.9" y="331.96" width="23.5" height="7.16" fill="#ec6a52"/>
<rect x="583.4" y="331.96" width="23.5" height="7.16" fill="#6c0014"/>
<rect x="605.9" y="331.96" width="23.5" height="7.16" fill="#ec6a52"/>
<rect x="628.4" y="331.96" width="22.5" height="7.16" fill="#b2182a"/>
<rect x="538.4" y="338.12" width="23.5" height="7.16" fill="#ea2632"/>
<rect x="560.9" y="338.12" width="23.5" height="7.16" fill="#6c0014"/>
<rect x="583.4" y="338.12" width="23.5" height="7.16" fill="#6c0014"/>
<rect x="605.9" y="338.12" width="23.5" height="7.16" fill="#6c0014"/>
<rect x="628.4" y="338.12" width="22.5" height="7.16" fill="#ea2632"/>
<rect x="538.4" y="344.28" width="23.5" height="7.16" fill="#ec6a52"/>
<rect x="560.9" y="344.28" width="23.5" height="7.16" fill="#6c0014"/>
<rect x="583.4" y="344.28" width="23.5" height="7.16" fill="#6c0014"/>
<rect x="605.9" y="344.28" width="23.5" height="7.16" fill="#ea2632"/>
<rect x="628.4" y="344.28" width="22.5" height="7.16" fill="#ec6a52"/>
<rect x="538.4" y="350.44" width="23.5" height="7.16" fill="#ed967c"/>
<rect x="560.9" y="350.44" width="23.5" height="7.16" fill="#b2182a"/>
<rect x="583.4" y="350.44" width="23.5" height="7.16" fill="#6c0014"/>
<rect x="605.9" y="350.44" width="23.5" height="7.16" fill="#ed967c"/>
<rect x="628.4" y="350.44" width="22.5" height="7.16" fill="#ec6a52"/>
<rect x="538.4" y="356.6" width="23.5" height="7.16" fill="#ea2632"/>
<rect x="560.9" y="356.6" width="23.5" height="7.16" fill="#6c0014"/>
<rect x="583.4" y="356.6" width="23.5" height="7.16" fill="#6c0014"/>
<rect x="605.9" y="356.6" width="23.5" height="7.16" fill="#6c0014"/>
<rect x="628.4" y="356.6" width="22.5" height="7.16" fill="#ea2632"/>
<rect x="538.4" y="362.76" width="23.5" height="7.16" fill="#ed967c"/>
<rect x="560.9" y="362.76" width="23.5" height="7.16" fill="#6c0014"/>
<rect x="583.4" y="362.76" width="23.5" height="7.16" fill="#6c0014"/>
<rect x="605.9" y="362.76" width="23.5" height="7.16" fill="#ea2632"/>
<rect x="628.4" y="362.76" width="22.5" height="7.16" fill="#ec6a52"/>
<rect x="538.4" y="368.92" width="23.5" height="7.16" fill="#ed967c"/>
<rect x="560.9" y="368.92" width="23.5" height="7.16" fill="#ea2632"/>
<rect x="583.4" y="368.92" width="23.5" height="7.16" fill="#6c0014"/>
<rect x="605.9" y="368.92" width="23.5" height="7.16" fill="#ed967c"/>
<rect x="628.4" y="368.92" width="22.5" height="7.16" fill="#ec6a52"/>
<rect x="538.4" y="375.08" width="23.5" height="7.16" fill="#ec6a52"/>
<rect x="560.9" y="375.08" width="23.5" height="7.16" fill="#b2182a"/>
<rect x="583.4" y="375.08" width="23.5" height="7.16" fill="#6c0014"/>
<rect x="605.9" y="375.08" width="23.5" height="7.16" fill="#ea2632"/>
<rect x="628.4" y="375.08" width="22.5" height="7.16" fill="#ea2632"/>
<rect x="538.4" y="381.24" width="23.5" height="7.16" fill="#ed967c"/>
<rect x="560.9" y="381.24" width="23.5" height="7.16" fill="#b2182a"/>
<rect x="583.4" y="381.24" width="23.5" height="7.16" fill="#6c0014"/>
<rect x="605.9" y="381.24" width="23.5" height="7.16" fill="#ea2632"/>
<rect x="628.4" y="381.24" width="22.5" height="7.16" fill="#ea2632"/>
<rect x="538.4" y="387.4" width="23.5" height="7.16" fill="#ec6a52"/>
<rect x="560.9" y="387.4" width="23.5" height="7.16" fill="#ea2632"/>
<rect x="583.4" y="387.4" width="23.5" height="7.16" fill="#6c0014"/>
<rect x="605.9" y="387.4" width="23.5" height="7.16" fill="#ed967c"/>
<rect x="628.4" y="387.4" width="22.5" height="7.16" fill="#ea2632"/>
<rect x="538.4" y="393.56" width="23.5" height="7.16" fill="#f9f0eb"/>
<rect x="560.9" y="393.56" width="23.5" height="7.16" fill="#6c0014"/>
<rect x="583.4" y="393.56" width="23.5" height="7.16" fill="#6c0014"/>
<rect x="605.9" y="393.56" width="23.5" height="7.16" fill="#ed967c"/>
<rect x="628.4" y="393.56" width="22.5" height="7.16" fill="#ec6a52"/>
<rect x="538.4" y="399.72" width="23.5" height="7.16" fill="#f9f0eb"/>
<rect x="560.9" y="399.72" width="23.5" height="7.16" fill="#b2182a"/>
<rect x="583.4" y="399.72" width="23.5" height="7.16" fill="#6c0014"/>
<rect x="605.9" y="399.72" width="23.5" height="7.16" fill="#f5cab8"/>
<rect x="628.4" y="399.72" width="22.5" height="7.16" fill="#ed967c"/>
<rect x="538.4" y="405.88" width="23.5" height="7.16" fill="#f9f0eb"/>
<rect x="560.9" y="405.88" width="23.5" height="7.16" fill="#ec6a52"/>
<rect x="583.4" y="405.88" width="23.5" height="7.16" fill="#b2182a"/>
<rect x="605.9" y="405.88" width="23.5" height="7.16" fill="#ed967c"/>
<rect x="628.4" y="405.88" width="22.5" height="7.16" fill="#ec6a52"/>
<rect x="538.4" y="412.04" width="23.5" height="7.16" fill="#f9f0eb"/>
<rect x="560.9" y="412.04" width="23.5" height="7.16" fill="#ea2632"/>
<rect x="583.4" y="412.04" width="23.5" height="7.16" fill="#6c0014"/>
<rect x="605.9" y="412.04" width="23.5" height="7.16" fill="#b2182a"/>
<rect x="628.4" y="412.04" width="22.5" height="7.16" fill="#f5cab8"/>
<rect x="538.4" y="418.2" width="23.5" height="7.16" fill="#f9f0eb"/>
<rect x="560.9" y="418.2" width="23.5" height="7.16" fill="#ea2632"/>
<rect x="583.4" y="418.2" width="23.5" height="7.16" fill="#6c0014"/>
<rect x="605.9" y="418.2" width="23.5" height="7.16" fill="#ec6a52"/>
<rect x="628.4" y="418.2" width="22.5" height="7.16" fill="#f5cab8"/>
<rect x="538.4" y="424.36" width="23.5" height="7.16" fill="#f9f0eb"/>
<rect x="560.9" y="424.36" width="23.5" height="7.16" fill="#ec6a52"/>
<rect x="583.4" y="424.36" width="23.5" height="7.16" fill="#b2182a"/>
<rect x="605.9" y="424.36" width="23.5" height="7.16" fill="#f5cab8"/>
<rect x="628.4" y="424.36" width="22.5" height="7.16" fill="#f5cab8"/>
<rect x="538.4" y="430.52" width="23.5" height="7.16" fill="#f5cab8"/>
<rect x="560.9" y="430.52" width="23.5" height="7.16" fill="#f9f0eb"/>
<rect x="583.4" y="430.52" width="23.5" height="7.16" fill="#6c0014"/>
<rect x="605.9" y="430.52" width="23.5" height="7.16" fill="#ed967c"/>
<rect x="628.4" y="430.52" width="22.5" height="7.16" fill="#f9f0eb"/>
<rect x="538.4" y="436.68" width="23.5" height="7.16" fill="#f5cab8"/>
<rect x="560.9" y="436.68" width="23.5" height="7.16" fill="#f9f0eb"/>
<rect x="583.4" y="436.68" width="23.5" height="7.16" fill="#b2182a"/>
<rect x="605.9" y="436.68" width="23.5" height="7.16" fill="#ed967c"/>
<rect x="628.4" y="436.68" width="22.5" height="7.16" fill="#f9f0eb"/>
<rect x="538.4" y="442.84" width="23.5" height="6.16" fill="#f5cab8"/>
<rect x="560.9" y="442.84" width="23.5" height="6.16" fill="#f9f0eb"/>
<rect x="583.4" y="442.84" width="23.5" height="6.16" fill="#b2182a"/>
<rect x="605.9" y="442.84" width="23.5" height="6.16" fill="#f9f0eb"/>
<rect x="628.4" y="442.84" width="22.5" height="6.16" fill="#f9f0eb"/>
<text x="549.65" y="268.83" font-size="4.4" fill="#ffffff" textLength="9.8" lengthAdjust="spacingAndGlyphs" text-anchor="middle">1.00</text>
<text x="572.15" y="268.83" font-size="4.4" fill="#ffffff" textLength="9.8" lengthAdjust="spacingAndGlyphs" text-anchor="middle">1.00</text>
<text x="594.65" y="268.83" font-size="4.4" fill="#ffffff" textLength="9.8" lengthAdjust="spacingAndGlyphs" text-anchor="middle">1.00</text>
<text x="617.15" y="268.83" font-size="4.4" fill="#ffffff" textLength="9.8" lengthAdjust="spacingAndGlyphs" text-anchor="middle">1.00</text>
<text x="639.65" y="268.83" font-size="4.4" fill="#ffffff" textLength="9.8" lengthAdjust="spacingAndGlyphs" text-anchor="middle">1.00</text>
<line x1="536.5" y1="267.28" x2="538.4" y2="267.28" stroke="#777" stroke-width="0.5"/>
<text x="534.4" y="268.93" font-size="4.6" fill="#3a3a3a" textLength="17.49" lengthAdjust="spacingAndGlyphs" text-anchor="end">0%/0%</text>
<text x="549.65" y="274.99" font-size="4.4" fill="#ffffff" textLength="9.8" lengthAdjust="spacingAndGlyphs" text-anchor="middle">0.67</text>
<text x="572.15" y="274.99" font-size="4.4" fill="#ffffff" textLength="9.8" lengthAdjust="spacingAndGlyphs" text-anchor="middle">0.83</text>
<text x="594.65" y="274.99" font-size="4.4" fill="#ffffff" textLength="9.8" lengthAdjust="spacingAndGlyphs" text-anchor="middle">1.00</text>
<text x="617.15" y="274.99" font-size="4.4" fill="#ffffff" textLength="9.8" lengthAdjust="spacingAndGlyphs" text-anchor="middle">0.67</text>
<text x="639.65" y="274.99" font-size="4.4" fill="#ffffff" textLength="9.8" lengthAdjust="spacingAndGlyphs" text-anchor="middle">1.00</text>
<line x1="536.5" y1="273.44" x2="538.4" y2="273.44" stroke="#777" stroke-width="0.5"/>
<text x="534.4" y="275.09" font-size="4.6" fill="#3a3a3a" textLength="20.56" lengthAdjust="spacingAndGlyphs" text-anchor="end">0%/30%</text>
<text x="549.65" y="281.15" font-size="4.4" fill="#ffffff" textLength="9.8" lengthAdjust="spacingAndGlyphs" text-anchor="middle">0.50</text>
<text x="572.15" y="281.15" font-size="4.4" fill="#2b2b2b" textLength="9.8" lengthAdjust="spacingAndGlyphs" text-anchor="middle">0.17</text>
<text x="594.65" y="281.15" font-size="4.4" fill="#ffffff" textLength="9.8" lengthAdjust="spacingAndGlyphs" text-anchor="middle">1.00</text>
<text x="617.15" y="281.15" font-size="4.4" fill="#2b2b2b" textLength="9.8" lengthAdjust="spacingAndGlyphs" text-anchor="middle">0.33</text>
<text x="639.65" y="281.15" font-size="4.4" fill="#ffffff" textLength="9.8" lengthAdjust="spacingAndGlyphs" text-anchor="middle">1.00</text>
<line x1="536.5" y1="279.6" x2="538.4" y2="279.6" stroke="#777" stroke-width="0.5"/>
<text x="534.4" y="281.25" font-size="4.6" fill="#3a3a3a" textLength="20.56" lengthAdjust="spacingAndGlyphs" text-anchor="end">0%/60%</text>
<text x="549.65" y="287.31" font-size="4.4" fill="#ffffff" textLength="9.8" lengthAdjust="spacingAndGlyphs" text-anchor="middle">1.00</text>
<text x="572.15" y="287.31" font-size="4.4" fill="#ffffff" textLength="9.8" lengthAdjust="spacingAndGlyphs" text-anchor="middle">1.00</text>
<text x="594.65" y="287.31" font-size="4.4" fill="#ffffff" textLength="9.8" lengthAdjust="spacingAndGlyphs" text-anchor="middle">1.00</text>
<text x="617.15" y="287.31" font-size="4.4" fill="#ffffff" textLength="9.8" lengthAdjust="spacingAndGlyphs" text-anchor="middle">0.83</text>
<text x="639.65" y="287.31" font-size="4.4" fill="#ffffff" textLength="9.8" lengthAdjust="spacingAndGlyphs" text-anchor="middle">1.00</text>
<line x1="536.5" y1="285.76" x2="538.4" y2="285.76" stroke="#777" stroke-width="0.5"/>
<text x="534.4" y="287.41" font-size="4.6" fill="#3a3a3a" textLength="20.56" lengthAdjust="spacingAndGlyphs" text-anchor="end">10%/0%</text>
<text x="549.65" y="293.47" font-size="4.4" fill="#ffffff" textLength="9.8" lengthAdjust="spacingAndGlyphs" text-anchor="middle">0.67</text>
<text x="572.15" y="293.47" font-size="4.4" fill="#ffffff" textLength="9.8" lengthAdjust="spacingAndGlyphs" text-anchor="middle">0.83</text>
<text x="594.65" y="293.47" font-size="4.4" fill="#ffffff" textLength="9.8" lengthAdjust="spacingAndGlyphs" text-anchor="middle">1.00</text>
<text x="617.15" y="293.47" font-size="4.4" fill="#ffffff" textLength="9.8" lengthAdjust="spacingAndGlyphs" text-anchor="middle">0.50</text>
<text x="639.65" y="293.47" font-size="4.4" fill="#ffffff" textLength="9.8" lengthAdjust="spacingAndGlyphs" text-anchor="middle">0.83</text>
<line x1="536.5" y1="291.92" x2="538.4" y2="291.92" stroke="#777" stroke-width="0.5"/>
<text x="534.4" y="293.57" font-size="4.6" fill="#3a3a3a" textLength="23.63" lengthAdjust="spacingAndGlyphs" text-anchor="end">10%/30%</text>
<text x="549.65" y="299.63" font-size="4.4" fill="#ffffff" textLength="9.8" lengthAdjust="spacingAndGlyphs" text-anchor="middle">0.50</text>
<text x="572.15" y="299.63" font-size="4.4" fill="#2b2b2b" textLength="9.8" lengthAdjust="spacingAndGlyphs" text-anchor="middle">0.33</text>
<text x="594.65" y="299.63" font-size="4.4" fill="#ffffff" textLength="9.8" lengthAdjust="spacingAndGlyphs" text-anchor="middle">1.00</text>
<text x="617.15" y="299.63" font-size="4.4" fill="#2b2b2b" textLength="9.8" lengthAdjust="spacingAndGlyphs" text-anchor="middle">0.33</text>
<text x="639.65" y="299.63" font-size="4.4" fill="#ffffff" textLength="9.8" lengthAdjust="spacingAndGlyphs" text-anchor="middle">1.00</text>
<line x1="536.5" y1="298.08" x2="538.4" y2="298.08" stroke="#777" stroke-width="0.5"/>
<text x="534.4" y="299.73" font-size="4.6" fill="#3a3a3a" textLength="23.63" lengthAdjust="spacingAndGlyphs" text-anchor="end">10%/60%</text>
<text x="549.65" y="305.79" font-size="4.4" fill="#ffffff" textLength="9.8" lengthAdjust="spacingAndGlyphs" text-anchor="middle">1.00</text>
<text x="572.15" y="305.79" font-size="4.4" fill="#ffffff" textLength="9.8" lengthAdjust="spacingAndGlyphs" text-anchor="middle">1.00</text>
<text x="594.65" y="305.79" font-size="4.4" fill="#ffffff" textLength="9.8" lengthAdjust="spacingAndGlyphs" text-anchor="middle">1.00</text>
<text x="617.15" y="305.79" font-size="4.4" fill="#ffffff" textLength="9.8" lengthAdjust="spacingAndGlyphs" text-anchor="middle">1.00</text>
<text x="639.65" y="305.79" font-size="4.4" fill="#ffffff" textLength="9.8" lengthAdjust="spacingAndGlyphs" text-anchor="middle">1.00</text>
<line x1="536.5" y1="304.24" x2="538.4" y2="304.24" stroke="#777" stroke-width="0.5"/>
<text x="534.4" y="305.89" font-size="4.6" fill="#3a3a3a" textLength="20.56" lengthAdjust="spacingAndGlyphs" text-anchor="end">20%/0%</text>
<text x="549.65" y="311.95" font-size="4.4" fill="#ffffff" textLength="9.8" lengthAdjust="spacingAndGlyphs" text-anchor="middle">0.67</text>
<text x="572.15" y="311.95" font-size="4.4" fill="#ffffff" textLength="9.8" lengthAdjust="spacingAndGlyphs" text-anchor="middle">0.83</text>
<text x="594.65" y="311.95" font-size="4.4" fill="#ffffff" textLength="9.8" lengthAdjust="spacingAndGlyphs" text-anchor="middle">1.00</text>
<text x="617.15" y="311.95" font-size="4.4" fill="#ffffff" textLength="9.8" lengthAdjust="spacingAndGlyphs" text-anchor="middle">0.83</text>
<text x="639.65" y="311.95" font-size="4.4" fill="#ffffff" textLength="9.8" lengthAdjust="spacingAndGlyphs" text-anchor="middle">0.83</text>
<line x1="536.5" y1="310.4" x2="538.4" y2="310.4" stroke="#777" stroke-width="0.5"/>
<text x="534.4" y="312.05" font-size="4.6" fill="#3a3a3a" textLength="23.63" lengthAdjust="spacingAndGlyphs" text-anchor="end">20%/30%</text>
<text x="549.65" y="318.11" font-size="4.4" fill="#ffffff" textLength="9.8" lengthAdjust="spacingAndGlyphs" text-anchor="middle">0.50</text>
<text x="572.15" y="318.11" font-size="4.4" fill="#2b2b2b" textLength="9.8" lengthAdjust="spacingAndGlyphs" text-anchor="middle">0.33</text>
<text x="594.65" y="318.11" font-size="4.4" fill="#ffffff" textLength="9.8" lengthAdjust="spacingAndGlyphs" text-anchor="middle">1.00</text>
<text x="617.15" y="318.11" font-size="4.4" fill="#2b2b2b" textLength="9.8" lengthAdjust="spacingAndGlyphs" text-anchor="middle">0.33</text>
<text x="639.65" y="318.11" font-size="4.4" fill="#ffffff" textLength="9.8" lengthAdjust="spacingAndGlyphs" text-anchor="middle">0.83</text>
<line x1="536.5" y1="316.56" x2="538.4" y2="316.56" stroke="#777" stroke-width="0.5"/>
<text x="534.4" y="318.21" font-size="4.6" fill="#3a3a3a" textLength="23.63" lengthAdjust="spacingAndGlyphs" text-anchor="end">20%/60%</text>
<text x="549.65" y="324.27" font-size="4.4" fill="#ffffff" textLength="9.8" lengthAdjust="spacingAndGlyphs" text-anchor="middle">0.83</text>
<text x="572.15" y="324.27" font-size="4.4" fill="#ffffff" textLength="9.8" lengthAdjust="spacingAndGlyphs" text-anchor="middle">1.00</text>
<text x="594.65" y="324.27" font-size="4.4" fill="#ffffff" textLength="9.8" lengthAdjust="spacingAndGlyphs" text-anchor="middle">1.00</text>
<text x="617.15" y="324.27" font-size="4.4" fill="#ffffff" textLength="9.8" lengthAdjust="spacingAndGlyphs" text-anchor="middle">0.83</text>
<text x="639.65" y="324.27" font-size="4.4" fill="#ffffff" textLength="9.8" lengthAdjust="spacingAndGlyphs" text-anchor="middle">0.83</text>
<line x1="536.5" y1="322.72" x2="538.4" y2="322.72" stroke="#777" stroke-width="0.5"/>
<text x="534.4" y="324.37" font-size="4.6" fill="#3a3a3a" textLength="20.56" lengthAdjust="spacingAndGlyphs" text-anchor="end">30%/0%</text>
<text x="549.65" y="330.43" font-size="4.4" fill="#ffffff" textLength="9.8" lengthAdjust="spacingAndGlyphs" text-anchor="middle">0.50</text>
<text x="572.15" y="330.43" font-size="4.4" fill="#ffffff" textLength="9.8" lengthAdjust="spacingAndGlyphs" text-anchor="middle">0.83</text>
<text x="594.65" y="330.43" font-size="4.4" fill="#ffffff" textLength="9.8" lengthAdjust="spacingAndGlyphs" text-anchor="middle">1.00</text>
<text x="617.15" y="330.43" font-size="4.4" fill="#ffffff" textLength="9.8" lengthAdjust="spacingAndGlyphs" text-anchor="middle">0.83</text>
<text x="639.65" y="330.43" font-size="4.4" fill="#ffffff" textLength="9.8" lengthAdjust="spacingAndGlyphs" text-anchor="middle">0.67</text>
<line x1="536.5" y1="328.88" x2="538.4" y2="328.88" stroke="#777" stroke-width="0.5"/>
<text x="534.4" y="330.53" font-size="4.6" fill="#3a3a3a" textLength="23.63" lengthAdjust="spacingAndGlyphs" text-anchor="end">30%/30%</text>
<text x="549.65" y="336.59" font-size="4.4" fill="#ffffff" textLength="9.8" lengthAdjust="spacingAndGlyphs" text-anchor="middle">0.50</text>
<text x="572.15" y="336.59" font-size="4.4" fill="#ffffff" textLength="9.8" lengthAdjust="spacingAndGlyphs" text-anchor="middle">0.50</text>
<text x="594.65" y="336.59" font-size="4.4" fill="#ffffff" textLength="9.8" lengthAdjust="spacingAndGlyphs" text-anchor="middle">1.00</text>
<text x="617.15" y="336.59" font-size="4.4" fill="#ffffff" textLength="9.8" lengthAdjust="spacingAndGlyphs" text-anchor="middle">0.50</text>
<text x="639.65" y="336.59" font-size="4.4" fill="#ffffff" textLength="9.8" lengthAdjust="spacingAndGlyphs" text-anchor="middle">0.83</text>
<line x1="536.5" y1="335.04" x2="538.4" y2="335.04" stroke="#777" stroke-width="0.5"/>
<text x="534.4" y="336.69" font-size="4.6" fill="#3a3a3a" textLength="23.63" lengthAdjust="spacingAndGlyphs" text-anchor="end">30%/60%</text>
<text x="549.65" y="342.75" font-size="4.4" fill="#ffffff" textLength="9.8" lengthAdjust="spacingAndGlyphs" text-anchor="middle">0.67</text>
<text x="572.15" y="342.75" font-size="4.4" fill="#ffffff" textLength="9.8" lengthAdjust="spacingAndGlyphs" text-anchor="middle">1.00</text>
<text x="594.65" y="342.75" font-size="4.4" fill="#ffffff" textLength="9.8" lengthAdjust="spacingAndGlyphs" text-anchor="middle">1.00</text>
<text x="617.15" y="342.75" font-size="4.4" fill="#ffffff" textLength="9.8" lengthAdjust="spacingAndGlyphs" text-anchor="middle">1.00</text>
<text x="639.65" y="342.75" font-size="4.4" fill="#ffffff" textLength="9.8" lengthAdjust="spacingAndGlyphs" text-anchor="middle">0.67</text>
<line x1="536.5" y1="341.2" x2="538.4" y2="341.2" stroke="#777" stroke-width="0.5"/>
<text x="534.4" y="342.85" font-size="4.6" fill="#3a3a3a" textLength="20.56" lengthAdjust="spacingAndGlyphs" text-anchor="end">40%/0%</text>
<text x="549.65" y="348.91" font-size="4.4" fill="#ffffff" textLength="9.8" lengthAdjust="spacingAndGlyphs" text-anchor="middle">0.50</text>
<text x="572.15" y="348.91" font-size="4.4" fill="#ffffff" textLength="9.8" lengthAdjust="spacingAndGlyphs" text-anchor="middle">1.00</text>
<text x="594.65" y="348.91" font-size="4.4" fill="#ffffff" textLength="9.8" lengthAdjust="spacingAndGlyphs" text-anchor="middle">1.00</text>
<text x="617.15" y="348.91" font-size="4.4" fill="#ffffff" textLength="9.8" lengthAdjust="spacingAndGlyphs" text-anchor="middle">0.67</text>
<text x="639.65" y="348.91" font-size="4.4" fill="#ffffff" textLength="9.8" lengthAdjust="spacingAndGlyphs" text-anchor="middle">0.50</text>
<line x1="536.5" y1="347.36" x2="538.4" y2="347.36" stroke="#777" stroke-width="0.5"/>
<text x="534.4" y="349.01" font-size="4.6" fill="#3a3a3a" textLength="23.63" lengthAdjust="spacingAndGlyphs" text-anchor="end">40%/30%</text>
<text x="549.65" y="355.07" font-size="4.4" fill="#2b2b2b" textLength="9.8" lengthAdjust="spacingAndGlyphs" text-anchor="middle">0.33</text>
<text x="572.15" y="355.07" font-size="4.4" fill="#ffffff" textLength="9.8" lengthAdjust="spacingAndGlyphs" text-anchor="middle">0.83</text>
<text x="594.65" y="355.07" font-size="4.4" fill="#ffffff" textLength="9.8" lengthAdjust="spacingAndGlyphs" text-anchor="middle">1.00</text>
<text x="617.15" y="355.07" font-size="4.4" fill="#2b2b2b" textLength="9.8" lengthAdjust="spacingAndGlyphs" text-anchor="middle">0.33</text>
<text x="639.65" y="355.07" font-size="4.4" fill="#ffffff" textLength="9.8" lengthAdjust="spacingAndGlyphs" text-anchor="middle">0.50</text>
<line x1="536.5" y1="353.52" x2="538.4" y2="353.52" stroke="#777" stroke-width="0.5"/>
<text x="534.4" y="355.17" font-size="4.6" fill="#3a3a3a" textLength="23.63" lengthAdjust="spacingAndGlyphs" text-anchor="end">40%/60%</text>
<text x="549.65" y="361.23" font-size="4.4" fill="#ffffff" textLength="9.8" lengthAdjust="spacingAndGlyphs" text-anchor="middle">0.67</text>
<text x="572.15" y="361.23" font-size="4.4" fill="#ffffff" textLength="9.8" lengthAdjust="spacingAndGlyphs" text-anchor="middle">1.00</text>
<text x="594.65" y="361.23" font-size="4.4" fill="#ffffff" textLength="9.8" lengthAdjust="spacingAndGlyphs" text-anchor="middle">1.00</text>
<text x="617.15" y="361.23" font-size="4.4" fill="#ffffff" textLength="9.8" lengthAdjust="spacingAndGlyphs" text-anchor="middle">1.00</text>
<text x="639.65" y="361.23" font-size="4.4" fill="#ffffff" textLength="9.8" lengthAdjust="spacingAndGlyphs" text-anchor="middle">0.67</text>
<line x1="536.5" y1="359.68" x2="538.4" y2="359.68" stroke="#777" stroke-width="0.5"/>
<text x="534.4" y="361.33" font-size="4.6" fill="#3a3a3a" textLength="20.56" lengthAdjust="spacingAndGlyphs" text-anchor="end">50%/0%</text>
<text x="549.65" y="367.39" font-size="4.4" fill="#2b2b2b" textLength="9.8" lengthAdjust="spacingAndGlyphs" text-anchor="middle">0.33</text>
<text x="572.15" y="367.39" font-size="4.4" fill="#ffffff" textLength="9.8" lengthAdjust="spacingAndGlyphs" text-anchor="middle">1.00</text>
<text x="594.65" y="367.39" font-size="4.4" fill="#ffffff" textLength="9.8" lengthAdjust="spacingAndGlyphs" text-anchor="middle">1.00</text>
<text x="617.15" y="367.39" font-size="4.4" fill="#ffffff" textLength="9.8" lengthAdjust="spacingAndGlyphs" text-anchor="middle">0.67</text>
<text x="639.65" y="367.39" font-size="4.4" fill="#ffffff" textLength="9.8" lengthAdjust="spacingAndGlyphs" text-anchor="middle">0.50</text>
<line x1="536.5" y1="365.84" x2="538.4" y2="365.84" stroke="#777" stroke-width="0.5"/>
<text x="534.4" y="367.49" font-size="4.6" fill="#3a3a3a" textLength="23.63" lengthAdjust="spacingAndGlyphs" text-anchor="end">50%/30%</text>
<text x="549.65" y="373.55" font-size="4.4" fill="#2b2b2b" textLength="9.8" lengthAdjust="spacingAndGlyphs" text-anchor="middle">0.33</text>
<text x="572.15" y="373.55" font-size="4.4" fill="#ffffff" textLength="9.8" lengthAdjust="spacingAndGlyphs" text-anchor="middle">0.67</text>
<text x="594.65" y="373.55" font-size="4.4" fill="#ffffff" textLength="9.8" lengthAdjust="spacingAndGlyphs" text-anchor="middle">1.00</text>
<text x="617.15" y="373.55" font-size="4.4" fill="#2b2b2b" textLength="9.8" lengthAdjust="spacingAndGlyphs" text-anchor="middle">0.33</text>
<text x="639.65" y="373.55" font-size="4.4" fill="#ffffff" textLength="9.8" lengthAdjust="spacingAndGlyphs" text-anchor="middle">0.50</text>
<line x1="536.5" y1="372" x2="538.4" y2="372" stroke="#777" stroke-width="0.5"/>
<text x="534.4" y="373.65" font-size="4.6" fill="#3a3a3a" textLength="23.63" lengthAdjust="spacingAndGlyphs" text-anchor="end">50%/60%</text>
<text x="549.65" y="379.71" font-size="4.4" fill="#ffffff" textLength="9.8" lengthAdjust="spacingAndGlyphs" text-anchor="middle">0.50</text>
<text x="572.15" y="379.71" font-size="4.4" fill="#ffffff" textLength="9.8" lengthAdjust="spacingAndGlyphs" text-anchor="middle">0.83</text>
<text x="594.65" y="379.71" font-size="4.4" fill="#ffffff" textLength="9.8" lengthAdjust="spacingAndGlyphs" text-anchor="middle">1.00</text>
<text x="617.15" y="379.71" font-size="4.4" fill="#ffffff" textLength="9.8" lengthAdjust="spacingAndGlyphs" text-anchor="middle">0.67</text>
<text x="639.65" y="379.71" font-size="4.4" fill="#ffffff" textLength="9.8" lengthAdjust="spacingAndGlyphs" text-anchor="middle">0.67</text>
<line x1="536.5" y1="378.16" x2="538.4" y2="378.16" stroke="#777" stroke-width="0.5"/>
<text x="534.4" y="379.81" font-size="4.6" fill="#3a3a3a" textLength="20.56" lengthAdjust="spacingAndGlyphs" text-anchor="end">60%/0%</text>
<text x="549.65" y="385.87" font-size="4.4" fill="#2b2b2b" textLength="9.8" lengthAdjust="spacingAndGlyphs" text-anchor="middle">0.33</text>
<text x="572.15" y="385.87" font-size="4.4" fill="#ffffff" textLength="9.8" lengthAdjust="spacingAndGlyphs" text-anchor="middle">0.83</text>
<text x="594.65" y="385.87" font-size="4.4" fill="#ffffff" textLength="9.8" lengthAdjust="spacingAndGlyphs" text-anchor="middle">1.00</text>
<text x="617.15" y="385.87" font-size="4.4" fill="#ffffff" textLength="9.8" lengthAdjust="spacingAndGlyphs" text-anchor="middle">0.67</text>
<text x="639.65" y="385.87" font-size="4.4" fill="#ffffff" textLength="9.8" lengthAdjust="spacingAndGlyphs" text-anchor="middle">0.67</text>
<line x1="536.5" y1="384.32" x2="538.4" y2="384.32" stroke="#777" stroke-width="0.5"/>
<text x="534.4" y="385.97" font-size="4.6" fill="#3a3a3a" textLength="23.63" lengthAdjust="spacingAndGlyphs" text-anchor="end">60%/30%</text>
<text x="549.65" y="392.03" font-size="4.4" fill="#ffffff" textLength="9.8" lengthAdjust="spacingAndGlyphs" text-anchor="middle">0.50</text>
<text x="572.15" y="392.03" font-size="4.4" fill="#ffffff" textLength="9.8" lengthAdjust="spacingAndGlyphs" text-anchor="middle">0.67</text>
<text x="594.65" y="392.03" font-size="4.4" fill="#ffffff" textLength="9.8" lengthAdjust="spacingAndGlyphs" text-anchor="middle">1.00</text>
<text x="617.15" y="392.03" font-size="4.4" fill="#2b2b2b" textLength="9.8" lengthAdjust="spacingAndGlyphs" text-anchor="middle">0.33</text>
<text x="639.65" y="392.03" font-size="4.4" fill="#ffffff" textLength="9.8" lengthAdjust="spacingAndGlyphs" text-anchor="middle">0.67</text>
<line x1="536.5" y1="390.48" x2="538.4" y2="390.48" stroke="#777" stroke-width="0.5"/>
<text x="534.4" y="392.13" font-size="4.6" fill="#3a3a3a" textLength="23.63" lengthAdjust="spacingAndGlyphs" text-anchor="end">60%/60%</text>
<text x="549.65" y="398.19" font-size="4.4" fill="#2b2b2b" textLength="9.8" lengthAdjust="spacingAndGlyphs" text-anchor="middle">0.00</text>
<text x="572.15" y="398.19" font-size="4.4" fill="#ffffff" textLength="9.8" lengthAdjust="spacingAndGlyphs" text-anchor="middle">1.00</text>
<text x="594.65" y="398.19" font-size="4.4" fill="#ffffff" textLength="9.8" lengthAdjust="spacingAndGlyphs" text-anchor="middle">1.00</text>
<text x="617.15" y="398.19" font-size="4.4" fill="#2b2b2b" textLength="9.8" lengthAdjust="spacingAndGlyphs" text-anchor="middle">0.33</text>
<text x="639.65" y="398.19" font-size="4.4" fill="#ffffff" textLength="9.8" lengthAdjust="spacingAndGlyphs" text-anchor="middle">0.50</text>
<line x1="536.5" y1="396.64" x2="538.4" y2="396.64" stroke="#777" stroke-width="0.5"/>
<text x="534.4" y="398.29" font-size="4.6" fill="#3a3a3a" textLength="20.56" lengthAdjust="spacingAndGlyphs" text-anchor="end">70%/0%</text>
<text x="549.65" y="404.35" font-size="4.4" fill="#2b2b2b" textLength="9.8" lengthAdjust="spacingAndGlyphs" text-anchor="middle">0.00</text>
<text x="572.15" y="404.35" font-size="4.4" fill="#ffffff" textLength="9.8" lengthAdjust="spacingAndGlyphs" text-anchor="middle">0.83</text>
<text x="594.65" y="404.35" font-size="4.4" fill="#ffffff" textLength="9.8" lengthAdjust="spacingAndGlyphs" text-anchor="middle">1.00</text>
<text x="617.15" y="404.35" font-size="4.4" fill="#2b2b2b" textLength="9.8" lengthAdjust="spacingAndGlyphs" text-anchor="middle">0.17</text>
<text x="639.65" y="404.35" font-size="4.4" fill="#2b2b2b" textLength="9.8" lengthAdjust="spacingAndGlyphs" text-anchor="middle">0.33</text>
<line x1="536.5" y1="402.8" x2="538.4" y2="402.8" stroke="#777" stroke-width="0.5"/>
<text x="534.4" y="404.45" font-size="4.6" fill="#3a3a3a" textLength="23.63" lengthAdjust="spacingAndGlyphs" text-anchor="end">70%/30%</text>
<text x="549.65" y="410.51" font-size="4.4" fill="#2b2b2b" textLength="9.8" lengthAdjust="spacingAndGlyphs" text-anchor="middle">0.00</text>
<text x="572.15" y="410.51" font-size="4.4" fill="#ffffff" textLength="9.8" lengthAdjust="spacingAndGlyphs" text-anchor="middle">0.50</text>
<text x="594.65" y="410.51" font-size="4.4" fill="#ffffff" textLength="9.8" lengthAdjust="spacingAndGlyphs" text-anchor="middle">0.83</text>
<text x="617.15" y="410.51" font-size="4.4" fill="#2b2b2b" textLength="9.8" lengthAdjust="spacingAndGlyphs" text-anchor="middle">0.33</text>
<text x="639.65" y="410.51" font-size="4.4" fill="#ffffff" textLength="9.8" lengthAdjust="spacingAndGlyphs" text-anchor="middle">0.50</text>
<line x1="536.5" y1="408.96" x2="538.4" y2="408.96" stroke="#777" stroke-width="0.5"/>
<text x="534.4" y="410.61" font-size="4.6" fill="#3a3a3a" textLength="23.63" lengthAdjust="spacingAndGlyphs" text-anchor="end">70%/60%</text>
<text x="549.65" y="416.67" font-size="4.4" fill="#2b2b2b" textLength="9.8" lengthAdjust="spacingAndGlyphs" text-anchor="middle">0.00</text>
<text x="572.15" y="416.67" font-size="4.4" fill="#ffffff" textLength="9.8" lengthAdjust="spacingAndGlyphs" text-anchor="middle">0.67</text>
<text x="594.65" y="416.67" font-size="4.4" fill="#ffffff" textLength="9.8" lengthAdjust="spacingAndGlyphs" text-anchor="middle">1.00</text>
<text x="617.15" y="416.67" font-size="4.4" fill="#ffffff" textLength="9.8" lengthAdjust="spacingAndGlyphs" text-anchor="middle">0.83</text>
<text x="639.65" y="416.67" font-size="4.4" fill="#2b2b2b" textLength="9.8" lengthAdjust="spacingAndGlyphs" text-anchor="middle">0.17</text>
<line x1="536.5" y1="415.12" x2="538.4" y2="415.12" stroke="#777" stroke-width="0.5"/>
<text x="534.4" y="416.77" font-size="4.6" fill="#3a3a3a" textLength="20.56" lengthAdjust="spacingAndGlyphs" text-anchor="end">80%/0%</text>
<text x="549.65" y="422.83" font-size="4.4" fill="#2b2b2b" textLength="9.8" lengthAdjust="spacingAndGlyphs" text-anchor="middle">0.00</text>
<text x="572.15" y="422.83" font-size="4.4" fill="#ffffff" textLength="9.8" lengthAdjust="spacingAndGlyphs" text-anchor="middle">0.67</text>
<text x="594.65" y="422.83" font-size="4.4" fill="#ffffff" textLength="9.8" lengthAdjust="spacingAndGlyphs" text-anchor="middle">1.00</text>
<text x="617.15" y="422.83" font-size="4.4" fill="#ffffff" textLength="9.8" lengthAdjust="spacingAndGlyphs" text-anchor="middle">0.50</text>
<text x="639.65" y="422.83" font-size="4.4" fill="#2b2b2b" textLength="9.8" lengthAdjust="spacingAndGlyphs" text-anchor="middle">0.17</text>
<line x1="536.5" y1="421.28" x2="538.4" y2="421.28" stroke="#777" stroke-width="0.5"/>
<text x="534.4" y="422.93" font-size="4.6" fill="#3a3a3a" textLength="23.63" lengthAdjust="spacingAndGlyphs" text-anchor="end">80%/30%</text>
<text x="549.65" y="428.99" font-size="4.4" fill="#2b2b2b" textLength="9.8" lengthAdjust="spacingAndGlyphs" text-anchor="middle">0.00</text>
<text x="572.15" y="428.99" font-size="4.4" fill="#ffffff" textLength="9.8" lengthAdjust="spacingAndGlyphs" text-anchor="middle">0.50</text>
<text x="594.65" y="428.99" font-size="4.4" fill="#ffffff" textLength="9.8" lengthAdjust="spacingAndGlyphs" text-anchor="middle">0.83</text>
<text x="617.15" y="428.99" font-size="4.4" fill="#2b2b2b" textLength="9.8" lengthAdjust="spacingAndGlyphs" text-anchor="middle">0.17</text>
<text x="639.65" y="428.99" font-size="4.4" fill="#2b2b2b" textLength="9.8" lengthAdjust="spacingAndGlyphs" text-anchor="middle">0.17</text>
<line x1="536.5" y1="427.44" x2="538.4" y2="427.44" stroke="#777" stroke-width="0.5"/>
<text x="534.4" y="429.09" font-size="4.6" fill="#3a3a3a" textLength="23.63" lengthAdjust="spacingAndGlyphs" text-anchor="end">80%/60%</text>
<text x="549.65" y="435.15" font-size="4.4" fill="#2b2b2b" textLength="9.8" lengthAdjust="spacingAndGlyphs" text-anchor="middle">0.17</text>
<text x="572.15" y="435.15" font-size="4.4" fill="#2b2b2b" textLength="9.8" lengthAdjust="spacingAndGlyphs" text-anchor="middle">0.00</text>
<text x="594.65" y="435.15" font-size="4.4" fill="#ffffff" textLength="9.8" lengthAdjust="spacingAndGlyphs" text-anchor="middle">1.00</text>
<text x="617.15" y="435.15" font-size="4.4" fill="#2b2b2b" textLength="9.8" lengthAdjust="spacingAndGlyphs" text-anchor="middle">0.33</text>
<text x="639.65" y="435.15" font-size="4.4" fill="#2b2b2b" textLength="9.8" lengthAdjust="spacingAndGlyphs" text-anchor="middle">0.00</text>
<line x1="536.5" y1="433.6" x2="538.4" y2="433.6" stroke="#777" stroke-width="0.5"/>
<text x="534.4" y="435.25" font-size="4.6" fill="#3a3a3a" textLength="20.56" lengthAdjust="spacingAndGlyphs" text-anchor="end">90%/0%</text>
<text x="549.65" y="441.31" font-size="4.4" fill="#2b2b2b" textLength="9.8" lengthAdjust="spacingAndGlyphs" text-anchor="middle">0.17</text>
<text x="572.15" y="441.31" font-size="4.4" fill="#2b2b2b" textLength="9.8" lengthAdjust="spacingAndGlyphs" text-anchor="middle">0.00</text>
<text x="594.65" y="441.31" font-size="4.4" fill="#ffffff" textLength="9.8" lengthAdjust="spacingAndGlyphs" text-anchor="middle">0.83</text>
<text x="617.15" y="441.31" font-size="4.4" fill="#2b2b2b" textLength="9.8" lengthAdjust="spacingAndGlyphs" text-anchor="middle">0.33</text>
<text x="639.65" y="441.31" font-size="4.4" fill="#2b2b2b" textLength="9.8" lengthAdjust="spacingAndGlyphs" text-anchor="middle">0.00</text>
<line x1="536.5" y1="439.76" x2="538.4" y2="439.76" stroke="#777" stroke-width="0.5"/>
<text x="534.4" y="441.41" font-size="4.6" fill="#3a3a3a" textLength="23.63" lengthAdjust="spacingAndGlyphs" text-anchor="end">90%/30%</text>
<text x="549.65" y="447.47" font-size="4.4" fill="#2b2b2b" textLength="9.8" lengthAdjust="spacingAndGlyphs" text-anchor="middle">0.17</text>
<text x="572.15" y="447.47" font-size="4.4" fill="#2b2b2b" textLength="9.8" lengthAdjust="spacingAndGlyphs" text-anchor="middle">0.00</text>
<text x="594.65" y="447.47" font-size="4.4" fill="#ffffff" textLength="9.8" lengthAdjust="spacingAndGlyphs" text-anchor="middle">0.83</text>
<text x="617.15" y="447.47" font-size="4.4" fill="#2b2b2b" textLength="9.8" lengthAdjust="spacingAndGlyphs" text-anchor="middle">0.00</text>
<text x="639.65" y="447.47" font-size="4.4" fill="#2b2b2b" textLength="9.8" lengthAdjust="spacingAndGlyphs" text-anchor="middle">0.00</text>
<line x1="536.5" y1="445.92" x2="538.4" y2="445.92" stroke="#777" stroke-width="0.5"/>
<text x="534.4" y="447.57" font-size="4.6" fill="#3a3a3a" textLength="23.63" lengthAdjust="spacingAndGlyphs" text-anchor="end">90%/60%</text>
<line x1="549.65" y1="449" x2="549.65" y2="450.4" stroke="#9a9a9a" stroke-width="0.5"/>
<text transform="translate(551.55 453.2) rotate(-90)" font-size="5.2" fill="#3a3a3a" textLength="13.6" lengthAdjust="spacingAndGlyphs" text-anchor="end">LEU5</text>
<line x1="572.15" y1="449" x2="572.15" y2="450.4" stroke="#9a9a9a" stroke-width="0.5"/>
<text transform="translate(574.05 453.2) rotate(-90)" font-size="5.2" fill="#3a3a3a" textLength="14.6" lengthAdjust="spacingAndGlyphs" text-anchor="end">CAT2</text>
<line x1="594.65" y1="449" x2="594.65" y2="450.4" stroke="#9a9a9a" stroke-width="0.5"/>
<text transform="translate(596.55 453.2) rotate(-90)" font-size="5.2" fill="#3a3a3a" textLength="46.1" lengthAdjust="spacingAndGlyphs" text-anchor="end">KGD1,KGD2,LPD1</text>
<line x1="617.15" y1="449" x2="617.15" y2="450.4" stroke="#9a9a9a" stroke-width="0.5"/>
<text transform="translate(619.05 453.2) rotate(-90)" font-size="5.2" fill="#3a3a3a" textLength="10.7" lengthAdjust="spacingAndGlyphs" text-anchor="end">SDH</text>
<line x1="639.65" y1="449" x2="639.65" y2="450.4" stroke="#9a9a9a" stroke-width="0.5"/>
<text transform="translate(641.55 453.2) rotate(-90)" font-size="5.2" fill="#3a3a3a" textLength="13.3" lengthAdjust="spacingAndGlyphs" text-anchor="end">CTP1</text>
<defs><linearGradient id="g658" x1="0" y1="0" x2="0" y2="1"><stop offset="0" stop-color="rgb(108,0,20)"/><stop offset="0.17" stop-color="rgb(178,24,42)"/><stop offset="0.33" stop-color="rgb(234,38,50)"/><stop offset="0.5" stop-color="rgb(236,106,82)"/><stop offset="0.67" stop-color="rgb(237,150,124)"/><stop offset="0.83" stop-color="rgb(245,202,184)"/><stop offset="1" stop-color="rgb(249,240,235)"/></linearGradient></defs>
<rect x="658.4" y="264.2" width="8.8" height="184.8" fill="url(#g658)"/>
<line x1="667.2" y1="264.2" x2="668.8" y2="264.2" stroke="#777" stroke-width="0.6"/>
<text x="672" y="266.9" font-size="7.6" fill="#333333">1.0</text>
<line x1="667.2" y1="301.16" x2="668.8" y2="301.16" stroke="#777" stroke-width="0.6"/>
<text x="672" y="303.86" font-size="7.6" fill="#333333">0.8</text>
<line x1="667.2" y1="338.12" x2="668.8" y2="338.12" stroke="#777" stroke-width="0.6"/>
<text x="672" y="340.82" font-size="7.6" fill="#333333">0.6</text>
<line x1="667.2" y1="375.08" x2="668.8" y2="375.08" stroke="#777" stroke-width="0.6"/>
<text x="672" y="377.78" font-size="7.6" fill="#333333">0.4</text>
<line x1="667.2" y1="412.04" x2="668.8" y2="412.04" stroke="#777" stroke-width="0.6"/>
<text x="672" y="414.74" font-size="7.6" fill="#333333">0.2</text>
<line x1="667.2" y1="449" x2="668.8" y2="449" stroke="#777" stroke-width="0.6"/>
<text x="672" y="451.7" font-size="7.6" fill="#333333">0</text>
<text transform="translate(343 453.2) rotate(-90)" font-size="5.2" fill="#3a3a3a" textLength="64.4" lengthAdjust="spacingAndGlyphs" text-anchor="end">Metabolomics dropout (%)</text>
<text transform="translate(353.3 453.2) rotate(-90)" font-size="5.2" fill="#3a3a3a" textLength="57.8" lengthAdjust="spacingAndGlyphs" text-anchor="end">Proteomics dropout (%)</text>
</svg>
</body></html>
